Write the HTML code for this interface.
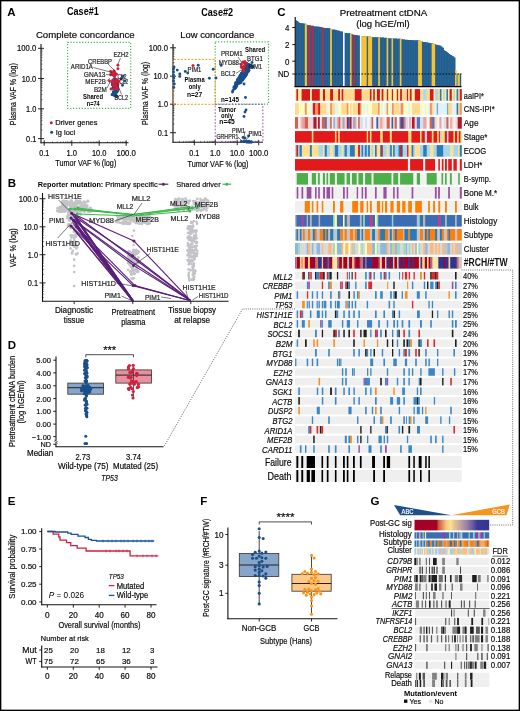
<!DOCTYPE html>
<html><head><meta charset="utf-8"><style>
html,body{margin:0;padding:0;background:#fff;}
body{width:520px;height:711px;overflow:hidden;}
svg{display:block;font-family:"Liberation Sans", sans-serif;}
svg{will-change:transform;}
</style></head><body>
<svg width="520" height="711" viewBox="0 0 520 711">
<rect x="0" y="0" width="520" height="711" fill="#fff"/>
<text x="7.30" y="15.60" font-size="11.5" font-weight="bold" fill="#000" >A</text>
<text x="67.00" y="14.60" font-size="10.4" font-weight="bold" textLength="31.8" lengthAdjust="spacingAndGlyphs" >Case#1</text>
<text x="201.30" y="15.60" font-size="10.4" font-weight="bold" textLength="31.7" lengthAdjust="spacingAndGlyphs" >Case#2</text>
<text x="35.90" y="37.60" font-size="9.9" stroke="#231f20" stroke-width="0.2" textLength="98.8" lengthAdjust="spacingAndGlyphs" >Complete concordance</text>
<text x="180.20" y="37.70" font-size="9.9" stroke="#231f20" stroke-width="0.2" textLength="74" lengthAdjust="spacingAndGlyphs" >Low concordance</text>
<line x1="41.00" y1="44.00" x2="41.00" y2="143.30" stroke="#111" stroke-width="1.1" />
<line x1="40.50" y1="142.80" x2="128.50" y2="142.80" stroke="#111" stroke-width="1.1" />
<line x1="38.00" y1="48.30" x2="44.00" y2="48.30" stroke="#111" stroke-width="0.9" />
<text x="36.30" y="51.30" font-size="8.4" text-anchor="end" stroke="#231f20" stroke-width="0.2" textLength="19.2" lengthAdjust="spacingAndGlyphs" >100.0</text>
<line x1="38.00" y1="78.50" x2="44.00" y2="78.50" stroke="#111" stroke-width="0.9" />
<text x="36.30" y="81.50" font-size="8.4" text-anchor="end" stroke="#231f20" stroke-width="0.2" textLength="14.6" lengthAdjust="spacingAndGlyphs" >10.0</text>
<line x1="38.00" y1="108.80" x2="44.00" y2="108.80" stroke="#111" stroke-width="0.9" />
<text x="36.30" y="111.80" font-size="8.4" text-anchor="end" stroke="#231f20" stroke-width="0.2" textLength="10.2" lengthAdjust="spacingAndGlyphs" >1.0</text>
<line x1="38.00" y1="138.60" x2="44.00" y2="138.60" stroke="#111" stroke-width="0.9" />
<text x="36.30" y="141.60" font-size="8.4" text-anchor="end" stroke="#231f20" stroke-width="0.2" textLength="10.2" lengthAdjust="spacingAndGlyphs" >0.1</text>
<line x1="41.00" y1="69.41" x2="42.50" y2="69.41" stroke="#111" stroke-width="0.5" />
<line x1="41.00" y1="64.09" x2="42.50" y2="64.09" stroke="#111" stroke-width="0.5" />
<line x1="41.00" y1="60.32" x2="42.50" y2="60.32" stroke="#111" stroke-width="0.5" />
<line x1="41.00" y1="57.39" x2="42.50" y2="57.39" stroke="#111" stroke-width="0.5" />
<line x1="41.00" y1="55.00" x2="42.50" y2="55.00" stroke="#111" stroke-width="0.5" />
<line x1="41.00" y1="52.98" x2="42.50" y2="52.98" stroke="#111" stroke-width="0.5" />
<line x1="41.00" y1="51.23" x2="42.50" y2="51.23" stroke="#111" stroke-width="0.5" />
<line x1="41.00" y1="49.68" x2="42.50" y2="49.68" stroke="#111" stroke-width="0.5" />
<line x1="41.00" y1="99.61" x2="42.50" y2="99.61" stroke="#111" stroke-width="0.5" />
<line x1="41.00" y1="94.29" x2="42.50" y2="94.29" stroke="#111" stroke-width="0.5" />
<line x1="41.00" y1="90.52" x2="42.50" y2="90.52" stroke="#111" stroke-width="0.5" />
<line x1="41.00" y1="87.59" x2="42.50" y2="87.59" stroke="#111" stroke-width="0.5" />
<line x1="41.00" y1="85.20" x2="42.50" y2="85.20" stroke="#111" stroke-width="0.5" />
<line x1="41.00" y1="83.18" x2="42.50" y2="83.18" stroke="#111" stroke-width="0.5" />
<line x1="41.00" y1="81.43" x2="42.50" y2="81.43" stroke="#111" stroke-width="0.5" />
<line x1="41.00" y1="79.88" x2="42.50" y2="79.88" stroke="#111" stroke-width="0.5" />
<line x1="41.00" y1="129.91" x2="42.50" y2="129.91" stroke="#111" stroke-width="0.5" />
<line x1="41.00" y1="124.59" x2="42.50" y2="124.59" stroke="#111" stroke-width="0.5" />
<line x1="41.00" y1="120.82" x2="42.50" y2="120.82" stroke="#111" stroke-width="0.5" />
<line x1="41.00" y1="117.89" x2="42.50" y2="117.89" stroke="#111" stroke-width="0.5" />
<line x1="41.00" y1="115.50" x2="42.50" y2="115.50" stroke="#111" stroke-width="0.5" />
<line x1="41.00" y1="113.48" x2="42.50" y2="113.48" stroke="#111" stroke-width="0.5" />
<line x1="41.00" y1="111.73" x2="42.50" y2="111.73" stroke="#111" stroke-width="0.5" />
<line x1="41.00" y1="110.18" x2="42.50" y2="110.18" stroke="#111" stroke-width="0.5" />
<line x1="44.20" y1="140.30" x2="44.20" y2="145.80" stroke="#111" stroke-width="0.9" />
<text x="44.20" y="155.70" font-size="8.4" text-anchor="middle" stroke="#231f20" stroke-width="0.2" textLength="10" lengthAdjust="spacingAndGlyphs" >0.1</text>
<line x1="71.80" y1="140.30" x2="71.80" y2="145.80" stroke="#111" stroke-width="0.9" />
<text x="71.80" y="155.70" font-size="8.4" text-anchor="middle" stroke="#231f20" stroke-width="0.2" textLength="10.5" lengthAdjust="spacingAndGlyphs" >1.0</text>
<line x1="99.20" y1="140.30" x2="99.20" y2="145.80" stroke="#111" stroke-width="0.9" />
<text x="99.20" y="155.70" font-size="8.4" text-anchor="middle" stroke="#231f20" stroke-width="0.2" textLength="14.5" lengthAdjust="spacingAndGlyphs" >10.0</text>
<line x1="126.20" y1="140.30" x2="126.20" y2="145.80" stroke="#111" stroke-width="0.9" />
<text x="126.20" y="155.70" font-size="8.4" text-anchor="middle" stroke="#231f20" stroke-width="0.2" textLength="19.5" lengthAdjust="spacingAndGlyphs" >100.0</text>
<line x1="52.45" y1="141.30" x2="52.45" y2="142.80" stroke="#111" stroke-width="0.5" />
<line x1="57.27" y1="141.30" x2="57.27" y2="142.80" stroke="#111" stroke-width="0.5" />
<line x1="60.70" y1="141.30" x2="60.70" y2="142.80" stroke="#111" stroke-width="0.5" />
<line x1="63.35" y1="141.30" x2="63.35" y2="142.80" stroke="#111" stroke-width="0.5" />
<line x1="65.52" y1="141.30" x2="65.52" y2="142.80" stroke="#111" stroke-width="0.5" />
<line x1="67.36" y1="141.30" x2="67.36" y2="142.80" stroke="#111" stroke-width="0.5" />
<line x1="68.94" y1="141.30" x2="68.94" y2="142.80" stroke="#111" stroke-width="0.5" />
<line x1="70.35" y1="141.30" x2="70.35" y2="142.80" stroke="#111" stroke-width="0.5" />
<line x1="80.05" y1="141.30" x2="80.05" y2="142.80" stroke="#111" stroke-width="0.5" />
<line x1="84.87" y1="141.30" x2="84.87" y2="142.80" stroke="#111" stroke-width="0.5" />
<line x1="88.30" y1="141.30" x2="88.30" y2="142.80" stroke="#111" stroke-width="0.5" />
<line x1="90.95" y1="141.30" x2="90.95" y2="142.80" stroke="#111" stroke-width="0.5" />
<line x1="93.12" y1="141.30" x2="93.12" y2="142.80" stroke="#111" stroke-width="0.5" />
<line x1="94.96" y1="141.30" x2="94.96" y2="142.80" stroke="#111" stroke-width="0.5" />
<line x1="96.54" y1="141.30" x2="96.54" y2="142.80" stroke="#111" stroke-width="0.5" />
<line x1="97.95" y1="141.30" x2="97.95" y2="142.80" stroke="#111" stroke-width="0.5" />
<line x1="107.45" y1="141.30" x2="107.45" y2="142.80" stroke="#111" stroke-width="0.5" />
<line x1="112.27" y1="141.30" x2="112.27" y2="142.80" stroke="#111" stroke-width="0.5" />
<line x1="115.70" y1="141.30" x2="115.70" y2="142.80" stroke="#111" stroke-width="0.5" />
<line x1="118.35" y1="141.30" x2="118.35" y2="142.80" stroke="#111" stroke-width="0.5" />
<line x1="120.52" y1="141.30" x2="120.52" y2="142.80" stroke="#111" stroke-width="0.5" />
<line x1="122.36" y1="141.30" x2="122.36" y2="142.80" stroke="#111" stroke-width="0.5" />
<line x1="123.94" y1="141.30" x2="123.94" y2="142.80" stroke="#111" stroke-width="0.5" />
<line x1="125.35" y1="141.30" x2="125.35" y2="142.80" stroke="#111" stroke-width="0.5" />
<text x="15.70" y="94.20" font-size="9.0" text-anchor="middle" stroke="#231f20" stroke-width="0.2" textLength="62" lengthAdjust="spacingAndGlyphs" transform="rotate(-90 15.70 94.20)" >Plasma VAF % (log)</text>
<text x="85.80" y="166.30" font-size="9.0" text-anchor="middle" stroke="#231f20" stroke-width="0.2" textLength="61" lengthAdjust="spacingAndGlyphs" >Tumor VAF % (log)</text>
<circle cx="51.30" cy="122.80" r="1.5" fill="#cf1f3a" />
<text x="55.20" y="125.40" font-size="7.6" stroke="#231f20" stroke-width="0.2" textLength="42.3" lengthAdjust="spacingAndGlyphs" >Driver genes</text>
<circle cx="51.60" cy="132.20" r="1.5" fill="#1a4f8a" />
<text x="55.70" y="134.80" font-size="7.6" stroke="#231f20" stroke-width="0.2" textLength="19.5" lengthAdjust="spacingAndGlyphs" >Ig loci</text>
<rect x="67.6" y="42.3" width="63.1" height="66" fill="none" stroke="#45b649" stroke-width="1.2" stroke-dasharray="1.2 1.7"/>
<circle cx="122.50" cy="76.80" r="1.45" fill="#1a4f8a" />
<circle cx="123.20" cy="76.00" r="1.45" fill="#1a4f8a" />
<circle cx="122.50" cy="85.20" r="1.45" fill="#1a4f8a" />
<circle cx="125.00" cy="81.00" r="1.45" fill="#1a4f8a" />
<circle cx="121.00" cy="79.00" r="1.45" fill="#1a4f8a" />
<circle cx="113.31" cy="91.71" r="1.45" fill="#1a4f8a" />
<circle cx="114.03" cy="92.34" r="1.45" fill="#1a4f8a" />
<circle cx="115.44" cy="86.69" r="1.45" fill="#1a4f8a" />
<circle cx="112.07" cy="94.79" r="1.45" fill="#1a4f8a" />
<circle cx="113.43" cy="88.46" r="1.45" fill="#1a4f8a" />
<circle cx="117.48" cy="90.94" r="1.45" fill="#1a4f8a" />
<circle cx="116.60" cy="91.00" r="1.45" fill="#1a4f8a" />
<circle cx="115.51" cy="87.58" r="1.45" fill="#1a4f8a" />
<circle cx="115.49" cy="95.11" r="1.45" fill="#1a4f8a" />
<circle cx="114.88" cy="93.78" r="1.45" fill="#1a4f8a" />
<circle cx="115.69" cy="86.67" r="1.45" fill="#1a4f8a" />
<circle cx="116.17" cy="92.21" r="1.45" fill="#1a4f8a" />
<circle cx="113.66" cy="86.33" r="1.45" fill="#1a4f8a" />
<circle cx="116.76" cy="90.96" r="1.45" fill="#1a4f8a" />
<circle cx="115.95" cy="95.23" r="1.45" fill="#1a4f8a" />
<circle cx="115.93" cy="95.67" r="1.45" fill="#1a4f8a" />
<circle cx="114.17" cy="94.41" r="1.45" fill="#1a4f8a" />
<circle cx="114.45" cy="95.82" r="1.45" fill="#1a4f8a" />
<circle cx="116.83" cy="87.02" r="1.45" fill="#1a4f8a" />
<circle cx="112.75" cy="88.28" r="1.45" fill="#1a4f8a" />
<circle cx="117.31" cy="90.58" r="1.45" fill="#1a4f8a" />
<circle cx="115.45" cy="89.16" r="1.45" fill="#1a4f8a" />
<circle cx="114.79" cy="90.05" r="1.45" fill="#1a4f8a" />
<circle cx="113.93" cy="92.14" r="1.45" fill="#1a4f8a" />
<circle cx="115.21" cy="95.49" r="1.45" fill="#1a4f8a" />
<circle cx="115.75" cy="95.75" r="1.45" fill="#1a4f8a" />
<circle cx="116.71" cy="96.41" r="1.45" fill="#1a4f8a" />
<circle cx="115.69" cy="87.71" r="1.45" fill="#1a4f8a" />
<circle cx="116.73" cy="96.13" r="1.45" fill="#1a4f8a" />
<circle cx="116.98" cy="91.98" r="1.45" fill="#1a4f8a" />
<circle cx="115.93" cy="88.22" r="1.45" fill="#1a4f8a" />
<circle cx="116.57" cy="92.02" r="1.45" fill="#1a4f8a" />
<circle cx="113.57" cy="86.67" r="1.45" fill="#1a4f8a" />
<circle cx="116.70" cy="96.39" r="1.45" fill="#1a4f8a" />
<circle cx="112.49" cy="94.41" r="1.45" fill="#1a4f8a" />
<circle cx="114.26" cy="87.58" r="1.45" fill="#1a4f8a" />
<circle cx="113.62" cy="94.07" r="1.45" fill="#1a4f8a" />
<circle cx="116.80" cy="86.46" r="1.45" fill="#1a4f8a" />
<circle cx="115.38" cy="86.47" r="1.45" fill="#1a4f8a" />
<circle cx="115.95" cy="89.48" r="1.45" fill="#1a4f8a" />
<circle cx="117.29" cy="85.86" r="1.45" fill="#1a4f8a" />
<circle cx="115.03" cy="85.99" r="1.45" fill="#1a4f8a" />
<circle cx="113.86" cy="79.54" r="1.45" fill="#1a4f8a" />
<circle cx="115.60" cy="79.22" r="1.45" fill="#1a4f8a" />
<circle cx="113.18" cy="81.86" r="1.45" fill="#1a4f8a" />
<circle cx="115.66" cy="80.09" r="1.45" fill="#1a4f8a" />
<circle cx="112.25" cy="85.07" r="1.45" fill="#1a4f8a" />
<circle cx="113.88" cy="85.71" r="1.45" fill="#1a4f8a" />
<circle cx="117.38" cy="81.64" r="1.45" fill="#1a4f8a" />
<circle cx="114.76" cy="82.64" r="1.45" fill="#1a4f8a" />
<circle cx="115.86" cy="83.17" r="1.45" fill="#1a4f8a" />
<circle cx="115.36" cy="83.34" r="1.45" fill="#1a4f8a" />
<circle cx="117.90" cy="65.20" r="1.45" fill="#cf1f3a" />
<circle cx="117.90" cy="68.70" r="1.45" fill="#cf1f3a" />
<circle cx="109.50" cy="81.00" r="1.45" fill="#cf1f3a" />
<circle cx="116.14" cy="74.04" r="1.45" fill="#cf1f3a" />
<circle cx="113.09" cy="75.32" r="1.45" fill="#cf1f3a" />
<circle cx="111.93" cy="72.81" r="1.45" fill="#cf1f3a" />
<circle cx="116.37" cy="74.13" r="1.45" fill="#cf1f3a" />
<circle cx="113.79" cy="71.07" r="1.45" fill="#cf1f3a" />
<circle cx="112.99" cy="74.48" r="1.45" fill="#cf1f3a" />
<circle cx="110.62" cy="74.69" r="1.45" fill="#cf1f3a" />
<circle cx="114.29" cy="71.36" r="1.45" fill="#cf1f3a" />
<circle cx="114.26" cy="73.80" r="1.45" fill="#cf1f3a" />
<circle cx="114.58" cy="73.12" r="1.45" fill="#cf1f3a" />
<circle cx="114.74" cy="75.43" r="1.45" fill="#cf1f3a" />
<circle cx="110.63" cy="71.36" r="1.45" fill="#cf1f3a" />
<circle cx="114.56" cy="76.78" r="1.45" fill="#cf1f3a" />
<circle cx="112.01" cy="73.74" r="1.45" fill="#cf1f3a" />
<circle cx="114.06" cy="72.92" r="1.45" fill="#cf1f3a" />
<circle cx="112.68" cy="72.88" r="1.45" fill="#cf1f3a" />
<circle cx="112.71" cy="74.57" r="1.45" fill="#cf1f3a" />
<circle cx="112.30" cy="73.26" r="1.45" fill="#cf1f3a" />
<circle cx="117.18" cy="79.77" r="1.45" fill="#cf1f3a" />
<circle cx="115.55" cy="86.85" r="1.45" fill="#cf1f3a" />
<circle cx="113.48" cy="81.73" r="1.45" fill="#cf1f3a" />
<circle cx="117.43" cy="81.89" r="1.45" fill="#cf1f3a" />
<circle cx="112.50" cy="83.85" r="1.45" fill="#cf1f3a" />
<circle cx="116.58" cy="80.52" r="1.45" fill="#cf1f3a" />
<circle cx="113.58" cy="82.84" r="1.45" fill="#cf1f3a" />
<circle cx="117.67" cy="83.88" r="1.45" fill="#cf1f3a" />
<circle cx="117.84" cy="81.19" r="1.45" fill="#cf1f3a" />
<circle cx="113.69" cy="86.00" r="1.45" fill="#cf1f3a" />
<circle cx="118.08" cy="84.01" r="1.45" fill="#cf1f3a" />
<circle cx="112.80" cy="80.71" r="1.45" fill="#cf1f3a" />
<circle cx="115.24" cy="81.41" r="1.45" fill="#cf1f3a" />
<circle cx="117.45" cy="87.88" r="1.45" fill="#cf1f3a" />
<circle cx="112.47" cy="82.29" r="1.45" fill="#cf1f3a" />
<circle cx="117.46" cy="85.92" r="1.45" fill="#cf1f3a" />
<circle cx="117.45" cy="82.95" r="1.45" fill="#cf1f3a" />
<circle cx="112.04" cy="82.42" r="1.45" fill="#cf1f3a" />
<circle cx="117.35" cy="82.21" r="1.45" fill="#cf1f3a" />
<circle cx="113.77" cy="83.67" r="1.45" fill="#cf1f3a" />
<circle cx="114.36" cy="83.60" r="1.45" fill="#cf1f3a" />
<circle cx="118.36" cy="81.06" r="1.45" fill="#cf1f3a" />
<circle cx="111.04" cy="88.93" r="1.45" fill="#cf1f3a" />
<circle cx="118.04" cy="89.37" r="1.45" fill="#cf1f3a" />
<circle cx="114.47" cy="89.00" r="1.45" fill="#cf1f3a" />
<circle cx="118.42" cy="81.72" r="1.45" fill="#cf1f3a" />
<circle cx="116.96" cy="87.87" r="1.45" fill="#cf1f3a" />
<circle cx="116.30" cy="84.69" r="1.45" fill="#cf1f3a" />
<circle cx="113.31" cy="82.91" r="1.45" fill="#cf1f3a" />
<circle cx="112.82" cy="80.18" r="1.45" fill="#cf1f3a" />
<text x="113.40" y="57.10" font-size="7.3" fill="#222" stroke="#222" stroke-width="0.2" textLength="15.099999999999994" lengthAdjust="spacingAndGlyphs" >EZH2</text>
<text x="88.00" y="63.90" font-size="7.3" fill="#222" stroke="#222" stroke-width="0.2" textLength="24" lengthAdjust="spacingAndGlyphs" >CREBBP</text>
<text x="70.80" y="69.30" font-size="7.3" fill="#222" stroke="#222" stroke-width="0.2" textLength="22.10000000000001" lengthAdjust="spacingAndGlyphs" >ARID1A</text>
<text x="83.80" y="76.80" font-size="7.3" fill="#222" stroke="#222" stroke-width="0.2" textLength="21.700000000000003" lengthAdjust="spacingAndGlyphs" >GNA13</text>
<text x="85.30" y="84.10" font-size="7.3" fill="#222" stroke="#222" stroke-width="0.2" textLength="20.60000000000001" lengthAdjust="spacingAndGlyphs" >MEF2B</text>
<text x="93.90" y="92.10" font-size="7.3" fill="#222" stroke="#222" stroke-width="0.2" textLength="13.0" lengthAdjust="spacingAndGlyphs" >B2M</text>
<text x="114.50" y="100.40" font-size="7.3" fill="#222" stroke="#222" stroke-width="0.2" textLength="13.5" lengthAdjust="spacingAndGlyphs" >BCL2</text>
<text x="117.50" y="78.60" font-size="7.3" fill="#222" stroke="#222" stroke-width="0.2" textLength="9" lengthAdjust="spacingAndGlyphs" >CL2</text>
<text x="119.50" y="84.20" font-size="7.3" fill="#222" stroke="#222" stroke-width="0.2" textLength="8.5" lengthAdjust="spacingAndGlyphs" >CL2</text>
<line x1="120.50" y1="58.00" x2="118.00" y2="64.00" stroke="#222" stroke-width="0.6" />
<line x1="108.00" y1="64.00" x2="115.00" y2="71.00" stroke="#222" stroke-width="0.6" />
<line x1="93.50" y1="67.50" x2="112.00" y2="72.50" stroke="#222" stroke-width="0.6" />
<line x1="106.00" y1="74.50" x2="111.50" y2="75.00" stroke="#222" stroke-width="0.6" />
<line x1="106.50" y1="81.00" x2="110.00" y2="78.50" stroke="#222" stroke-width="0.6" />
<line x1="107.00" y1="88.00" x2="110.50" y2="81.50" stroke="#222" stroke-width="0.6" />
<line x1="121.50" y1="94.50" x2="117.00" y2="83.00" stroke="#222" stroke-width="0.6" />
<text x="83.00" y="98.80" font-size="7.6" font-weight="bold" textLength="20" lengthAdjust="spacingAndGlyphs" >Shared</text>
<text x="86.70" y="106.00" font-size="7.6" font-weight="bold" textLength="13" lengthAdjust="spacingAndGlyphs" >n=74</text>
<line x1="173.00" y1="44.00" x2="173.00" y2="142.80" stroke="#111" stroke-width="1.1" />
<line x1="172.50" y1="142.30" x2="263.00" y2="142.30" stroke="#111" stroke-width="1.1" />
<line x1="170.00" y1="47.80" x2="176.00" y2="47.80" stroke="#111" stroke-width="0.9" />
<text x="168.00" y="50.80" font-size="8.4" text-anchor="end" stroke="#231f20" stroke-width="0.2" textLength="19.2" lengthAdjust="spacingAndGlyphs" >100.0</text>
<line x1="170.00" y1="76.20" x2="176.00" y2="76.20" stroke="#111" stroke-width="0.9" />
<text x="168.00" y="79.20" font-size="8.4" text-anchor="end" stroke="#231f20" stroke-width="0.2" textLength="14.6" lengthAdjust="spacingAndGlyphs" >10.0</text>
<line x1="170.00" y1="104.20" x2="176.00" y2="104.20" stroke="#111" stroke-width="0.9" />
<text x="168.00" y="107.20" font-size="8.4" text-anchor="end" stroke="#231f20" stroke-width="0.2" textLength="10.2" lengthAdjust="spacingAndGlyphs" >1.0</text>
<line x1="170.00" y1="132.70" x2="176.00" y2="132.70" stroke="#111" stroke-width="0.9" />
<text x="168.00" y="135.70" font-size="8.4" text-anchor="end" stroke="#231f20" stroke-width="0.2" textLength="10.2" lengthAdjust="spacingAndGlyphs" >0.1</text>
<line x1="173.00" y1="67.58" x2="174.50" y2="67.58" stroke="#111" stroke-width="0.5" />
<line x1="173.00" y1="62.60" x2="174.50" y2="62.60" stroke="#111" stroke-width="0.5" />
<line x1="173.00" y1="59.06" x2="174.50" y2="59.06" stroke="#111" stroke-width="0.5" />
<line x1="173.00" y1="56.32" x2="174.50" y2="56.32" stroke="#111" stroke-width="0.5" />
<line x1="173.00" y1="54.08" x2="174.50" y2="54.08" stroke="#111" stroke-width="0.5" />
<line x1="173.00" y1="52.18" x2="174.50" y2="52.18" stroke="#111" stroke-width="0.5" />
<line x1="173.00" y1="50.54" x2="174.50" y2="50.54" stroke="#111" stroke-width="0.5" />
<line x1="173.00" y1="49.09" x2="174.50" y2="49.09" stroke="#111" stroke-width="0.5" />
<line x1="173.00" y1="95.98" x2="174.50" y2="95.98" stroke="#111" stroke-width="0.5" />
<line x1="173.00" y1="91.00" x2="174.50" y2="91.00" stroke="#111" stroke-width="0.5" />
<line x1="173.00" y1="87.46" x2="174.50" y2="87.46" stroke="#111" stroke-width="0.5" />
<line x1="173.00" y1="84.72" x2="174.50" y2="84.72" stroke="#111" stroke-width="0.5" />
<line x1="173.00" y1="82.48" x2="174.50" y2="82.48" stroke="#111" stroke-width="0.5" />
<line x1="173.00" y1="80.58" x2="174.50" y2="80.58" stroke="#111" stroke-width="0.5" />
<line x1="173.00" y1="78.94" x2="174.50" y2="78.94" stroke="#111" stroke-width="0.5" />
<line x1="173.00" y1="77.49" x2="174.50" y2="77.49" stroke="#111" stroke-width="0.5" />
<line x1="173.00" y1="123.98" x2="174.50" y2="123.98" stroke="#111" stroke-width="0.5" />
<line x1="173.00" y1="119.00" x2="174.50" y2="119.00" stroke="#111" stroke-width="0.5" />
<line x1="173.00" y1="115.46" x2="174.50" y2="115.46" stroke="#111" stroke-width="0.5" />
<line x1="173.00" y1="112.72" x2="174.50" y2="112.72" stroke="#111" stroke-width="0.5" />
<line x1="173.00" y1="110.48" x2="174.50" y2="110.48" stroke="#111" stroke-width="0.5" />
<line x1="173.00" y1="108.58" x2="174.50" y2="108.58" stroke="#111" stroke-width="0.5" />
<line x1="173.00" y1="106.94" x2="174.50" y2="106.94" stroke="#111" stroke-width="0.5" />
<line x1="173.00" y1="105.49" x2="174.50" y2="105.49" stroke="#111" stroke-width="0.5" />
<line x1="194.30" y1="139.80" x2="194.30" y2="145.30" stroke="#111" stroke-width="0.9" />
<text x="194.30" y="155.90" font-size="8.4" text-anchor="middle" stroke="#231f20" stroke-width="0.2" textLength="10" lengthAdjust="spacingAndGlyphs" >0.1</text>
<line x1="215.30" y1="139.80" x2="215.30" y2="145.30" stroke="#111" stroke-width="0.9" />
<text x="215.30" y="155.90" font-size="8.4" text-anchor="middle" stroke="#231f20" stroke-width="0.2" textLength="10.5" lengthAdjust="spacingAndGlyphs" >1.0</text>
<line x1="237.20" y1="139.80" x2="237.20" y2="145.30" stroke="#111" stroke-width="0.9" />
<text x="237.20" y="155.90" font-size="8.4" text-anchor="middle" stroke="#231f20" stroke-width="0.2" textLength="14.5" lengthAdjust="spacingAndGlyphs" >10.0</text>
<line x1="258.70" y1="139.80" x2="258.70" y2="145.30" stroke="#111" stroke-width="0.9" />
<text x="258.70" y="155.90" font-size="8.4" text-anchor="middle" stroke="#231f20" stroke-width="0.2" textLength="19.5" lengthAdjust="spacingAndGlyphs" >100.0</text>
<line x1="179.47" y1="140.80" x2="179.47" y2="142.30" stroke="#111" stroke-width="0.5" />
<line x1="183.26" y1="140.80" x2="183.26" y2="142.30" stroke="#111" stroke-width="0.5" />
<line x1="185.94" y1="140.80" x2="185.94" y2="142.30" stroke="#111" stroke-width="0.5" />
<line x1="188.03" y1="140.80" x2="188.03" y2="142.30" stroke="#111" stroke-width="0.5" />
<line x1="189.73" y1="140.80" x2="189.73" y2="142.30" stroke="#111" stroke-width="0.5" />
<line x1="191.17" y1="140.80" x2="191.17" y2="142.30" stroke="#111" stroke-width="0.5" />
<line x1="192.42" y1="140.80" x2="192.42" y2="142.30" stroke="#111" stroke-width="0.5" />
<line x1="193.52" y1="140.80" x2="193.52" y2="142.30" stroke="#111" stroke-width="0.5" />
<line x1="200.77" y1="140.80" x2="200.77" y2="142.30" stroke="#111" stroke-width="0.5" />
<line x1="204.56" y1="140.80" x2="204.56" y2="142.30" stroke="#111" stroke-width="0.5" />
<line x1="207.24" y1="140.80" x2="207.24" y2="142.30" stroke="#111" stroke-width="0.5" />
<line x1="209.33" y1="140.80" x2="209.33" y2="142.30" stroke="#111" stroke-width="0.5" />
<line x1="211.03" y1="140.80" x2="211.03" y2="142.30" stroke="#111" stroke-width="0.5" />
<line x1="212.47" y1="140.80" x2="212.47" y2="142.30" stroke="#111" stroke-width="0.5" />
<line x1="213.72" y1="140.80" x2="213.72" y2="142.30" stroke="#111" stroke-width="0.5" />
<line x1="214.82" y1="140.80" x2="214.82" y2="142.30" stroke="#111" stroke-width="0.5" />
<line x1="221.77" y1="140.80" x2="221.77" y2="142.30" stroke="#111" stroke-width="0.5" />
<line x1="225.56" y1="140.80" x2="225.56" y2="142.30" stroke="#111" stroke-width="0.5" />
<line x1="228.24" y1="140.80" x2="228.24" y2="142.30" stroke="#111" stroke-width="0.5" />
<line x1="230.33" y1="140.80" x2="230.33" y2="142.30" stroke="#111" stroke-width="0.5" />
<line x1="232.03" y1="140.80" x2="232.03" y2="142.30" stroke="#111" stroke-width="0.5" />
<line x1="233.47" y1="140.80" x2="233.47" y2="142.30" stroke="#111" stroke-width="0.5" />
<line x1="234.72" y1="140.80" x2="234.72" y2="142.30" stroke="#111" stroke-width="0.5" />
<line x1="235.82" y1="140.80" x2="235.82" y2="142.30" stroke="#111" stroke-width="0.5" />
<line x1="243.67" y1="140.80" x2="243.67" y2="142.30" stroke="#111" stroke-width="0.5" />
<line x1="247.46" y1="140.80" x2="247.46" y2="142.30" stroke="#111" stroke-width="0.5" />
<line x1="250.14" y1="140.80" x2="250.14" y2="142.30" stroke="#111" stroke-width="0.5" />
<line x1="252.23" y1="140.80" x2="252.23" y2="142.30" stroke="#111" stroke-width="0.5" />
<line x1="253.93" y1="140.80" x2="253.93" y2="142.30" stroke="#111" stroke-width="0.5" />
<line x1="255.37" y1="140.80" x2="255.37" y2="142.30" stroke="#111" stroke-width="0.5" />
<line x1="256.62" y1="140.80" x2="256.62" y2="142.30" stroke="#111" stroke-width="0.5" />
<line x1="257.72" y1="140.80" x2="257.72" y2="142.30" stroke="#111" stroke-width="0.5" />
<text x="147.80" y="93.40" font-size="9.0" text-anchor="middle" stroke="#231f20" stroke-width="0.2" textLength="63" lengthAdjust="spacingAndGlyphs" transform="rotate(-90 147.80 93.40)" >Plasma VAF % (log)</text>
<text x="218.00" y="166.50" font-size="9.0" text-anchor="middle" stroke="#231f20" stroke-width="0.2" textLength="61" lengthAdjust="spacingAndGlyphs" >Tumor VAF % (log)</text>
<rect x="215.2" y="41.9" width="53.3" height="62.3" fill="none" stroke="#45b649" stroke-width="1.2" stroke-dasharray="1.2 1.7"/>
<polyline points="173.3,104.3 173.3,59.4 215.2,59.4 215.2,104.3 173.3,104.3" fill="none" stroke="#f7941d" stroke-width="1" stroke-dasharray="2 1.5"/>
<rect x="215.2" y="104.3" width="47.7" height="38" fill="none" stroke="#8e44ad" stroke-width="0.9" stroke-dasharray="1.8 1.5"/>
<circle cx="198.20" cy="65.30" r="1.45" fill="#1a4f8a" />
<circle cx="177.30" cy="70.10" r="1.45" fill="#1a4f8a" />
<circle cx="179.80" cy="73.90" r="1.45" fill="#1a4f8a" />
<circle cx="179.80" cy="76.40" r="1.45" fill="#1a4f8a" />
<circle cx="185.30" cy="71.40" r="1.45" fill="#1a4f8a" />
<circle cx="187.70" cy="73.10" r="1.45" fill="#1a4f8a" />
<circle cx="209.40" cy="78.20" r="1.45" fill="#1a4f8a" />
<circle cx="213.20" cy="69.30" r="1.45" fill="#1a4f8a" />
<circle cx="216.00" cy="78.00" r="1.45" fill="#1a4f8a" />
<circle cx="221.20" cy="65.40" r="1.45" fill="#1a4f8a" />
<circle cx="173.50" cy="69.00" r="1.45" fill="#1a4f8a" />
<circle cx="173.50" cy="72.00" r="1.45" fill="#1a4f8a" />
<circle cx="173.50" cy="75.00" r="1.45" fill="#1a4f8a" />
<circle cx="173.80" cy="78.00" r="1.45" fill="#1a4f8a" />
<circle cx="173.50" cy="81.00" r="1.45" fill="#1a4f8a" />
<circle cx="174.00" cy="67.00" r="1.45" fill="#1a4f8a" />
<circle cx="173.80" cy="87.50" r="1.45" fill="#1a4f8a" />
<circle cx="174.30" cy="84.00" r="1.45" fill="#1a4f8a" />
<circle cx="244.00" cy="84.00" r="1.45" fill="#1a4f8a" />
<circle cx="246.00" cy="73.00" r="1.45" fill="#1a4f8a" />
<circle cx="252.00" cy="62.50" r="1.45" fill="#1a4f8a" />
<circle cx="245.50" cy="97.50" r="1.45" fill="#1a4f8a" />
<circle cx="246.00" cy="110.00" r="1.45" fill="#1a4f8a" />
<circle cx="245.00" cy="112.00" r="1.45" fill="#1a4f8a" />
<circle cx="244.00" cy="116.50" r="1.45" fill="#1a4f8a" />
<circle cx="243.00" cy="137.50" r="1.45" fill="#1a4f8a" />
<circle cx="245.00" cy="138.00" r="1.45" fill="#1a4f8a" />
<circle cx="248.50" cy="136.00" r="1.45" fill="#1a4f8a" />
<circle cx="246.96" cy="73.04" r="1.45" fill="#1a4f8a" />
<circle cx="248.48" cy="70.91" r="1.45" fill="#1a4f8a" />
<circle cx="250.66" cy="66.04" r="1.45" fill="#1a4f8a" />
<circle cx="242.42" cy="74.27" r="1.45" fill="#1a4f8a" />
<circle cx="233.89" cy="87.94" r="1.45" fill="#1a4f8a" />
<circle cx="245.92" cy="67.52" r="1.45" fill="#1a4f8a" />
<circle cx="243.10" cy="71.18" r="1.45" fill="#1a4f8a" />
<circle cx="239.02" cy="80.81" r="1.45" fill="#1a4f8a" />
<circle cx="242.39" cy="80.22" r="1.45" fill="#1a4f8a" />
<circle cx="240.91" cy="82.58" r="1.45" fill="#1a4f8a" />
<circle cx="247.54" cy="65.70" r="1.45" fill="#1a4f8a" />
<circle cx="236.64" cy="82.04" r="1.45" fill="#1a4f8a" />
<circle cx="234.47" cy="88.57" r="1.45" fill="#1a4f8a" />
<circle cx="247.59" cy="68.05" r="1.45" fill="#1a4f8a" />
<circle cx="244.94" cy="68.22" r="1.45" fill="#1a4f8a" />
<circle cx="248.22" cy="70.86" r="1.45" fill="#1a4f8a" />
<circle cx="241.63" cy="76.77" r="1.45" fill="#1a4f8a" />
<circle cx="239.88" cy="82.99" r="1.45" fill="#1a4f8a" />
<circle cx="251.43" cy="67.62" r="1.45" fill="#1a4f8a" />
<circle cx="244.91" cy="74.81" r="1.45" fill="#1a4f8a" />
<circle cx="248.93" cy="70.27" r="1.45" fill="#1a4f8a" />
<circle cx="236.70" cy="84.73" r="1.45" fill="#1a4f8a" />
<circle cx="243.15" cy="78.54" r="1.45" fill="#1a4f8a" />
<circle cx="239.48" cy="77.07" r="1.45" fill="#1a4f8a" />
<circle cx="248.31" cy="71.55" r="1.45" fill="#1a4f8a" />
<circle cx="249.93" cy="65.03" r="1.45" fill="#1a4f8a" />
<circle cx="246.54" cy="73.22" r="1.45" fill="#1a4f8a" />
<circle cx="236.59" cy="86.50" r="1.45" fill="#1a4f8a" />
<circle cx="246.49" cy="67.05" r="1.45" fill="#1a4f8a" />
<circle cx="246.45" cy="72.43" r="1.45" fill="#1a4f8a" />
<circle cx="239.00" cy="83.28" r="1.45" fill="#1a4f8a" />
<circle cx="252.55" cy="66.27" r="1.45" fill="#1a4f8a" />
<circle cx="244.62" cy="74.86" r="1.45" fill="#1a4f8a" />
<circle cx="240.94" cy="75.95" r="1.45" fill="#1a4f8a" />
<circle cx="250.25" cy="65.95" r="1.45" fill="#1a4f8a" />
<circle cx="236.68" cy="84.62" r="1.45" fill="#1a4f8a" />
<circle cx="243.26" cy="78.18" r="1.45" fill="#1a4f8a" />
<circle cx="247.08" cy="72.04" r="1.45" fill="#1a4f8a" />
<circle cx="240.85" cy="79.33" r="1.45" fill="#1a4f8a" />
<circle cx="242.55" cy="79.96" r="1.45" fill="#1a4f8a" />
<circle cx="234.51" cy="88.21" r="1.45" fill="#1a4f8a" />
<circle cx="244.81" cy="76.22" r="1.45" fill="#1a4f8a" />
<circle cx="242.46" cy="78.29" r="1.45" fill="#1a4f8a" />
<circle cx="243.40" cy="78.57" r="1.45" fill="#1a4f8a" />
<circle cx="252.30" cy="67.13" r="1.45" fill="#1a4f8a" />
<circle cx="240.10" cy="82.82" r="1.45" fill="#1a4f8a" />
<circle cx="247.69" cy="70.77" r="1.45" fill="#1a4f8a" />
<circle cx="248.06" cy="69.00" r="1.45" fill="#1a4f8a" />
<circle cx="246.93" cy="72.86" r="1.45" fill="#1a4f8a" />
<circle cx="234.45" cy="86.72" r="1.45" fill="#1a4f8a" />
<circle cx="240.29" cy="80.56" r="1.45" fill="#1a4f8a" />
<circle cx="241.78" cy="73.63" r="1.45" fill="#1a4f8a" />
<circle cx="239.64" cy="76.93" r="1.45" fill="#1a4f8a" />
<circle cx="243.01" cy="74.73" r="1.45" fill="#1a4f8a" />
<circle cx="240.60" cy="80.99" r="1.45" fill="#1a4f8a" />
<circle cx="239.76" cy="79.38" r="1.45" fill="#1a4f8a" />
<circle cx="240.40" cy="75.28" r="1.45" fill="#1a4f8a" />
<circle cx="243.86" cy="73.39" r="1.45" fill="#1a4f8a" />
<circle cx="247.86" cy="68.03" r="1.45" fill="#1a4f8a" />
<circle cx="240.72" cy="76.22" r="1.45" fill="#1a4f8a" />
<circle cx="252.24" cy="67.26" r="1.45" fill="#1a4f8a" />
<circle cx="245.64" cy="65.12" r="1.45" fill="#1a4f8a" />
<circle cx="243.89" cy="71.30" r="1.45" fill="#1a4f8a" />
<circle cx="241.48" cy="76.48" r="1.45" fill="#1a4f8a" />
<circle cx="249.57" cy="65.52" r="1.45" fill="#1a4f8a" />
<circle cx="244.62" cy="71.57" r="1.45" fill="#1a4f8a" />
<circle cx="242.52" cy="75.54" r="1.45" fill="#1a4f8a" />
<circle cx="240.13" cy="79.09" r="1.45" fill="#1a4f8a" />
<circle cx="242.55" cy="75.25" r="1.45" fill="#1a4f8a" />
<circle cx="234.57" cy="88.41" r="1.45" fill="#1a4f8a" />
<circle cx="245.90" cy="67.53" r="1.45" fill="#1a4f8a" />
<circle cx="248.84" cy="64.39" r="1.45" fill="#1a4f8a" />
<circle cx="246.55" cy="71.21" r="1.45" fill="#1a4f8a" />
<circle cx="246.25" cy="68.33" r="1.45" fill="#1a4f8a" />
<circle cx="240.90" cy="78.65" r="1.45" fill="#1a4f8a" />
<circle cx="246.92" cy="69.47" r="1.45" fill="#1a4f8a" />
<circle cx="245.40" cy="76.34" r="1.45" fill="#1a4f8a" />
<circle cx="235.35" cy="88.25" r="1.45" fill="#1a4f8a" />
<circle cx="247.19" cy="71.07" r="1.45" fill="#1a4f8a" />
<circle cx="242.21" cy="76.04" r="1.45" fill="#1a4f8a" />
<circle cx="241.48" cy="79.93" r="1.45" fill="#1a4f8a" />
<circle cx="245.82" cy="70.53" r="1.45" fill="#1a4f8a" />
<circle cx="247.03" cy="65.30" r="1.45" fill="#1a4f8a" />
<circle cx="242.68" cy="73.90" r="1.45" fill="#1a4f8a" />
<circle cx="245.28" cy="67.17" r="1.45" fill="#1a4f8a" />
<circle cx="247.85" cy="69.44" r="1.45" fill="#1a4f8a" />
<circle cx="252.79" cy="66.66" r="1.45" fill="#1a4f8a" />
<circle cx="246.89" cy="67.29" r="1.45" fill="#1a4f8a" />
<circle cx="244.59" cy="69.39" r="1.45" fill="#1a4f8a" />
<circle cx="238.46" cy="82.46" r="1.45" fill="#1a4f8a" />
<circle cx="242.91" cy="70.24" r="1.45" fill="#1a4f8a" />
<circle cx="235.49" cy="84.73" r="1.45" fill="#1a4f8a" />
<circle cx="246.58" cy="65.57" r="1.45" fill="#1a4f8a" />
<circle cx="245.67" cy="72.03" r="1.45" fill="#1a4f8a" />
<circle cx="236.19" cy="86.30" r="1.45" fill="#1a4f8a" />
<circle cx="245.74" cy="75.41" r="1.45" fill="#1a4f8a" />
<circle cx="240.17" cy="79.99" r="1.45" fill="#1a4f8a" />
<circle cx="242.19" cy="72.68" r="1.45" fill="#1a4f8a" />
<circle cx="245.59" cy="68.76" r="1.45" fill="#1a4f8a" />
<circle cx="236.81" cy="84.56" r="1.45" fill="#1a4f8a" />
<circle cx="244.38" cy="71.53" r="1.45" fill="#1a4f8a" />
<circle cx="241.78" cy="79.10" r="1.45" fill="#1a4f8a" />
<circle cx="235.75" cy="85.55" r="1.45" fill="#1a4f8a" />
<circle cx="238.91" cy="79.97" r="1.45" fill="#1a4f8a" />
<circle cx="246.22" cy="66.69" r="1.45" fill="#1a4f8a" />
<circle cx="239.39" cy="79.74" r="1.45" fill="#1a4f8a" />
<circle cx="241.21" cy="75.93" r="1.45" fill="#1a4f8a" />
<circle cx="247.82" cy="68.18" r="1.45" fill="#1a4f8a" />
<circle cx="245.71" cy="72.45" r="1.45" fill="#1a4f8a" />
<circle cx="235.51" cy="82.92" r="1.45" fill="#1a4f8a" />
<circle cx="248.95" cy="66.23" r="1.45" fill="#1a4f8a" />
<circle cx="245.19" cy="75.83" r="1.45" fill="#1a4f8a" />
<circle cx="241.30" cy="73.44" r="1.45" fill="#1a4f8a" />
<circle cx="242.07" cy="76.22" r="1.45" fill="#1a4f8a" />
<circle cx="238.97" cy="79.05" r="1.45" fill="#1a4f8a" />
<circle cx="239.19" cy="80.76" r="1.45" fill="#1a4f8a" />
<circle cx="243.86" cy="78.37" r="1.45" fill="#1a4f8a" />
<circle cx="244.85" cy="76.24" r="1.45" fill="#1a4f8a" />
<circle cx="241.64" cy="78.89" r="1.45" fill="#1a4f8a" />
<circle cx="237.37" cy="79.69" r="1.45" fill="#1a4f8a" />
<circle cx="244.13" cy="77.34" r="1.45" fill="#1a4f8a" />
<circle cx="242.79" cy="74.56" r="1.45" fill="#1a4f8a" />
<circle cx="237.92" cy="82.26" r="1.45" fill="#1a4f8a" />
<circle cx="246.03" cy="70.52" r="1.45" fill="#1a4f8a" />
<circle cx="236.85" cy="85.54" r="1.45" fill="#1a4f8a" />
<circle cx="246.68" cy="74.48" r="1.45" fill="#1a4f8a" />
<circle cx="236.38" cy="83.65" r="1.45" fill="#1a4f8a" />
<circle cx="246.52" cy="63.93" r="1.45" fill="#1a4f8a" />
<circle cx="240.37" cy="75.17" r="1.45" fill="#1a4f8a" />
<circle cx="238.82" cy="78.02" r="1.45" fill="#1a4f8a" />
<circle cx="238.72" cy="81.85" r="1.45" fill="#1a4f8a" />
<circle cx="235.87" cy="84.47" r="1.45" fill="#1a4f8a" />
<circle cx="250.07" cy="66.35" r="1.45" fill="#1a4f8a" />
<circle cx="235.01" cy="87.74" r="1.45" fill="#1a4f8a" />
<circle cx="242.83" cy="77.70" r="1.45" fill="#1a4f8a" />
<circle cx="241.22" cy="78.03" r="1.45" fill="#1a4f8a" />
<circle cx="236.51" cy="83.67" r="1.45" fill="#1a4f8a" />
<circle cx="246.51" cy="66.98" r="1.45" fill="#1a4f8a" />
<circle cx="238.49" cy="79.21" r="1.45" fill="#1a4f8a" />
<circle cx="238.75" cy="78.51" r="1.45" fill="#1a4f8a" />
<circle cx="238.35" cy="80.29" r="1.45" fill="#1a4f8a" />
<circle cx="242.29" cy="75.49" r="1.45" fill="#1a4f8a" />
<circle cx="249.96" cy="67.41" r="1.45" fill="#1a4f8a" />
<circle cx="244.51" cy="76.84" r="1.45" fill="#1a4f8a" />
<circle cx="247.52" cy="70.81" r="1.45" fill="#1a4f8a" />
<circle cx="240.22" cy="75.41" r="1.45" fill="#1a4f8a" />
<circle cx="240.62" cy="79.46" r="1.45" fill="#1a4f8a" />
<circle cx="246.97" cy="68.78" r="1.45" fill="#1a4f8a" />
<circle cx="237.86" cy="83.51" r="1.45" fill="#1a4f8a" />
<circle cx="244.03" cy="71.00" r="1.45" fill="#1a4f8a" />
<circle cx="233.00" cy="90.50" r="1.45" fill="#1a4f8a" />
<circle cx="232.50" cy="92.00" r="1.45" fill="#1a4f8a" />
<circle cx="234.00" cy="87.00" r="1.45" fill="#1a4f8a" />
<circle cx="236.00" cy="84.50" r="1.45" fill="#1a4f8a" />
<circle cx="243.96" cy="141.02" r="1.45" fill="#1a4f8a" />
<circle cx="247.01" cy="142.24" r="1.45" fill="#1a4f8a" />
<circle cx="248.72" cy="141.14" r="1.45" fill="#1a4f8a" />
<circle cx="246.36" cy="141.26" r="1.45" fill="#1a4f8a" />
<circle cx="248.51" cy="141.67" r="1.45" fill="#1a4f8a" />
<circle cx="251.26" cy="142.19" r="1.45" fill="#1a4f8a" />
<circle cx="241.42" cy="141.48" r="1.45" fill="#1a4f8a" />
<circle cx="250.98" cy="141.69" r="1.45" fill="#1a4f8a" />
<circle cx="245.21" cy="141.66" r="1.45" fill="#1a4f8a" />
<circle cx="249.21" cy="142.40" r="1.45" fill="#1a4f8a" />
<circle cx="244.46" cy="66.33" r="1.5" fill="#cf1f3a" />
<circle cx="244.87" cy="61.57" r="1.5" fill="#cf1f3a" />
<circle cx="246.29" cy="63.31" r="1.5" fill="#cf1f3a" />
<circle cx="241.34" cy="66.38" r="1.5" fill="#cf1f3a" />
<circle cx="241.21" cy="64.17" r="1.5" fill="#cf1f3a" />
<circle cx="244.13" cy="65.85" r="1.5" fill="#cf1f3a" />
<circle cx="243.55" cy="62.19" r="1.5" fill="#cf1f3a" />
<circle cx="242.80" cy="62.11" r="1.5" fill="#cf1f3a" />
<circle cx="244.66" cy="62.96" r="1.5" fill="#cf1f3a" />
<circle cx="243.13" cy="67.45" r="1.5" fill="#cf1f3a" />
<circle cx="241.73" cy="67.49" r="1.5" fill="#cf1f3a" />
<circle cx="243.94" cy="71.04" r="1.5" fill="#cf1f3a" />
<circle cx="243.47" cy="69.71" r="1.5" fill="#cf1f3a" />
<circle cx="193.00" cy="65.40" r="1.5" fill="#cf1f3a" />
<text x="220.90" y="56.40" font-size="7.3" fill="#222" stroke="#222" stroke-width="0.2" textLength="21.69999999999999" lengthAdjust="spacingAndGlyphs" >PRDM1</text>
<text x="246.90" y="60.60" font-size="7.3" fill="#222" stroke="#222" stroke-width="0.2" textLength="15.900000000000006" lengthAdjust="spacingAndGlyphs" >BTG1</text>
<text x="218.80" y="65.00" font-size="7.3" fill="#222" stroke="#222" stroke-width="0.2" textLength="20.19999999999999" lengthAdjust="spacingAndGlyphs" >MYD88</text>
<text x="221.00" y="76.30" font-size="7.3" fill="#222" stroke="#222" stroke-width="0.2" textLength="14.400000000000006" lengthAdjust="spacingAndGlyphs" >BCL2</text>
<text x="248.50" y="68.80" font-size="7.3" fill="#222" stroke="#222" stroke-width="0.2" textLength="13.5" lengthAdjust="spacingAndGlyphs" >PIM1</text>
<text x="187.50" y="72.40" font-size="7.3" fill="#222" stroke="#222" stroke-width="0.2" textLength="13.900000000000006" lengthAdjust="spacingAndGlyphs" >PIM1</text>
<text x="232.00" y="132.60" font-size="7.3" fill="#222" stroke="#222" stroke-width="0.2" textLength="13" lengthAdjust="spacingAndGlyphs" >PIM1</text>
<text x="248.50" y="135.60" font-size="7.3" fill="#222" stroke="#222" stroke-width="0.2" textLength="13.5" lengthAdjust="spacingAndGlyphs" >PIM1</text>
<text x="216.40" y="139.00" font-size="7.3" fill="#222" stroke="#222" stroke-width="0.2" textLength="22.099999999999994" lengthAdjust="spacingAndGlyphs" >GRHPR1</text>
<line x1="238.00" y1="57.00" x2="242.00" y2="63.00" stroke="#222" stroke-width="0.6" />
<line x1="239.00" y1="63.50" x2="241.00" y2="64.50" stroke="#222" stroke-width="0.6" />
<line x1="236.00" y1="73.50" x2="241.00" y2="70.00" stroke="#222" stroke-width="0.6" />
<line x1="250.00" y1="60.00" x2="247.00" y2="63.00" stroke="#222" stroke-width="0.6" />
<line x1="245.00" y1="131.00" x2="244.00" y2="137.00" stroke="#222" stroke-width="0.6" />
<line x1="250.00" y1="135.00" x2="246.00" y2="140.00" stroke="#222" stroke-width="0.6" />
<line x1="238.00" y1="137.00" x2="242.00" y2="141.00" stroke="#222" stroke-width="0.6" />
<text x="245.00" y="51.70" font-size="7.6" font-weight="bold" textLength="20.2" lengthAdjust="spacingAndGlyphs" >Shared</text>
<text x="221.00" y="101.60" font-size="7.6" font-weight="bold" textLength="18" lengthAdjust="spacingAndGlyphs" >n=145</text>
<text x="194.60" y="81.90" font-size="7.6" text-anchor="middle" font-weight="bold" textLength="20.3" lengthAdjust="spacingAndGlyphs" >Plasma</text>
<text x="194.70" y="88.60" font-size="7.6" text-anchor="middle" font-weight="bold" textLength="11.9" lengthAdjust="spacingAndGlyphs" >only</text>
<text x="194.60" y="96.70" font-size="7.6" text-anchor="middle" font-weight="bold" textLength="15.3" lengthAdjust="spacingAndGlyphs" >n=27</text>
<text x="227.00" y="111.90" font-size="7.6" text-anchor="middle" font-weight="bold" textLength="18" lengthAdjust="spacingAndGlyphs" >Tumor</text>
<text x="227.00" y="117.60" font-size="7.6" text-anchor="middle" font-weight="bold" textLength="11.9" lengthAdjust="spacingAndGlyphs" >only</text>
<text x="227.00" y="124.20" font-size="7.6" text-anchor="middle" font-weight="bold" textLength="15.3" lengthAdjust="spacingAndGlyphs" >n=45</text>
<text x="7.80" y="186.60" font-size="11.5" font-weight="bold" fill="#000" >B</text>
<text x="37.80" y="187.10" font-size="7.9" font-weight="bold" textLength="65.5" lengthAdjust="spacingAndGlyphs" >Reporter mutation:</text>
<text x="105.20" y="187.10" font-size="7.9" stroke="#231f20" stroke-width="0.2" textLength="52.5" lengthAdjust="spacingAndGlyphs" >Primary specific</text>
<line x1="158.60" y1="184.20" x2="168.30" y2="184.20" stroke="#5a1f7a" stroke-width="1.2" />
<circle cx="163.40" cy="184.20" r="1.5" fill="#5a1f7a" />
<text x="176.30" y="187.10" font-size="7.9" stroke="#231f20" stroke-width="0.2" textLength="44.3" lengthAdjust="spacingAndGlyphs" >Shared driver</text>
<line x1="222.50" y1="184.20" x2="231.20" y2="184.20" stroke="#3cb94a" stroke-width="1.2" />
<circle cx="226.80" cy="184.20" r="1.5" fill="#3cb94a" />
<line x1="42.50" y1="193.00" x2="42.50" y2="301.80" stroke="#111" stroke-width="1.1" />
<line x1="42.00" y1="301.30" x2="228.50" y2="301.30" stroke="#111" stroke-width="1.1" />
<line x1="39.50" y1="198.70" x2="45.50" y2="198.70" stroke="#111" stroke-width="0.9" />
<text x="38.00" y="201.70" font-size="8.4" text-anchor="end" stroke="#231f20" stroke-width="0.2" textLength="19.2" lengthAdjust="spacingAndGlyphs" >100.0</text>
<line x1="39.50" y1="226.80" x2="45.50" y2="226.80" stroke="#111" stroke-width="0.9" />
<text x="38.00" y="229.80" font-size="8.4" text-anchor="end" stroke="#231f20" stroke-width="0.2" textLength="14.6" lengthAdjust="spacingAndGlyphs" >10.0</text>
<line x1="39.50" y1="254.70" x2="45.50" y2="254.70" stroke="#111" stroke-width="0.9" />
<text x="38.00" y="257.70" font-size="8.4" text-anchor="end" stroke="#231f20" stroke-width="0.2" textLength="10.2" lengthAdjust="spacingAndGlyphs" >1.0</text>
<line x1="39.50" y1="282.90" x2="45.50" y2="282.90" stroke="#111" stroke-width="0.9" />
<text x="38.00" y="285.90" font-size="8.4" text-anchor="end" stroke="#231f20" stroke-width="0.2" textLength="10.2" lengthAdjust="spacingAndGlyphs" >0.1</text>
<line x1="42.50" y1="218.34" x2="44.10" y2="218.34" stroke="#111" stroke-width="0.5" />
<line x1="42.50" y1="213.39" x2="44.10" y2="213.39" stroke="#111" stroke-width="0.5" />
<line x1="42.50" y1="209.88" x2="44.10" y2="209.88" stroke="#111" stroke-width="0.5" />
<line x1="42.50" y1="207.16" x2="44.10" y2="207.16" stroke="#111" stroke-width="0.5" />
<line x1="42.50" y1="204.93" x2="44.10" y2="204.93" stroke="#111" stroke-width="0.5" />
<line x1="42.50" y1="203.05" x2="44.10" y2="203.05" stroke="#111" stroke-width="0.5" />
<line x1="42.50" y1="201.42" x2="44.10" y2="201.42" stroke="#111" stroke-width="0.5" />
<line x1="42.50" y1="199.99" x2="44.10" y2="199.99" stroke="#111" stroke-width="0.5" />
<line x1="42.50" y1="246.44" x2="44.10" y2="246.44" stroke="#111" stroke-width="0.5" />
<line x1="42.50" y1="241.49" x2="44.10" y2="241.49" stroke="#111" stroke-width="0.5" />
<line x1="42.50" y1="237.98" x2="44.10" y2="237.98" stroke="#111" stroke-width="0.5" />
<line x1="42.50" y1="235.26" x2="44.10" y2="235.26" stroke="#111" stroke-width="0.5" />
<line x1="42.50" y1="233.03" x2="44.10" y2="233.03" stroke="#111" stroke-width="0.5" />
<line x1="42.50" y1="231.15" x2="44.10" y2="231.15" stroke="#111" stroke-width="0.5" />
<line x1="42.50" y1="229.52" x2="44.10" y2="229.52" stroke="#111" stroke-width="0.5" />
<line x1="42.50" y1="228.09" x2="44.10" y2="228.09" stroke="#111" stroke-width="0.5" />
<line x1="42.50" y1="274.34" x2="44.10" y2="274.34" stroke="#111" stroke-width="0.5" />
<line x1="42.50" y1="269.39" x2="44.10" y2="269.39" stroke="#111" stroke-width="0.5" />
<line x1="42.50" y1="265.88" x2="44.10" y2="265.88" stroke="#111" stroke-width="0.5" />
<line x1="42.50" y1="263.16" x2="44.10" y2="263.16" stroke="#111" stroke-width="0.5" />
<line x1="42.50" y1="260.93" x2="44.10" y2="260.93" stroke="#111" stroke-width="0.5" />
<line x1="42.50" y1="259.05" x2="44.10" y2="259.05" stroke="#111" stroke-width="0.5" />
<line x1="42.50" y1="257.42" x2="44.10" y2="257.42" stroke="#111" stroke-width="0.5" />
<line x1="42.50" y1="255.99" x2="44.10" y2="255.99" stroke="#111" stroke-width="0.5" />
<line x1="42.50" y1="297.59" x2="44.10" y2="297.59" stroke="#111" stroke-width="0.5" />
<line x1="42.50" y1="294.08" x2="44.10" y2="294.08" stroke="#111" stroke-width="0.5" />
<line x1="42.50" y1="291.36" x2="44.10" y2="291.36" stroke="#111" stroke-width="0.5" />
<line x1="42.50" y1="289.13" x2="44.10" y2="289.13" stroke="#111" stroke-width="0.5" />
<line x1="42.50" y1="287.25" x2="44.10" y2="287.25" stroke="#111" stroke-width="0.5" />
<line x1="42.50" y1="285.62" x2="44.10" y2="285.62" stroke="#111" stroke-width="0.5" />
<line x1="42.50" y1="284.19" x2="44.10" y2="284.19" stroke="#111" stroke-width="0.5" />
<line x1="74.20" y1="301.30" x2="74.20" y2="304.10" stroke="#111" stroke-width="0.9" />
<line x1="132.80" y1="301.30" x2="132.80" y2="304.10" stroke="#111" stroke-width="0.9" />
<line x1="190.80" y1="301.30" x2="190.80" y2="304.10" stroke="#111" stroke-width="0.9" />
<text x="16.20" y="247.80" font-size="9.0" text-anchor="middle" stroke="#231f20" stroke-width="0.2" textLength="39" lengthAdjust="spacingAndGlyphs" transform="rotate(-90 16.20 247.80)" >VAF % (log)</text>
<text x="74.00" y="312.80" font-size="8.6" text-anchor="middle" stroke="#231f20" stroke-width="0.2" textLength="38.2" lengthAdjust="spacingAndGlyphs" >Diagnostic</text>
<text x="74.00" y="322.60" font-size="8.6" text-anchor="middle" stroke="#231f20" stroke-width="0.2" textLength="20.6" lengthAdjust="spacingAndGlyphs" >tissue</text>
<text x="133.30" y="314.60" font-size="9.2" text-anchor="middle" stroke="#231f20" stroke-width="0.2" textLength="43.8" lengthAdjust="spacingAndGlyphs" >Pretreatment</text>
<text x="133.30" y="325.40" font-size="9.2" text-anchor="middle" stroke="#231f20" stroke-width="0.2" textLength="24.2" lengthAdjust="spacingAndGlyphs" >plasma</text>
<text x="192.20" y="312.80" font-size="8.6" text-anchor="middle" stroke="#231f20" stroke-width="0.2" textLength="47.7" lengthAdjust="spacingAndGlyphs" >Tissue biopsy</text>
<text x="192.20" y="322.60" font-size="8.6" text-anchor="middle" stroke="#231f20" stroke-width="0.2" textLength="35.9" lengthAdjust="spacingAndGlyphs" >at relapse</text>
<circle cx="70.58" cy="201.56" r="1.35" fill="#c3c3c8" />
<circle cx="79.25" cy="201.01" r="1.35" fill="#c3c3c8" />
<circle cx="76.20" cy="203.06" r="1.35" fill="#c3c3c8" />
<circle cx="63.54" cy="204.05" r="1.35" fill="#c3c3c8" />
<circle cx="62.99" cy="203.54" r="1.35" fill="#c3c3c8" />
<circle cx="63.85" cy="201.13" r="1.35" fill="#c3c3c8" />
<circle cx="73.25" cy="206.29" r="1.35" fill="#c3c3c8" />
<circle cx="65.28" cy="202.06" r="1.35" fill="#c3c3c8" />
<circle cx="78.63" cy="207.13" r="1.35" fill="#c3c3c8" />
<circle cx="77.29" cy="203.28" r="1.35" fill="#c3c3c8" />
<circle cx="87.87" cy="200.83" r="1.35" fill="#c3c3c8" />
<circle cx="84.75" cy="202.53" r="1.35" fill="#c3c3c8" />
<circle cx="65.82" cy="201.32" r="1.35" fill="#c3c3c8" />
<circle cx="70.17" cy="206.21" r="1.35" fill="#c3c3c8" />
<circle cx="66.79" cy="204.57" r="1.35" fill="#c3c3c8" />
<circle cx="78.93" cy="203.11" r="1.35" fill="#c3c3c8" />
<circle cx="76.52" cy="200.94" r="1.35" fill="#c3c3c8" />
<circle cx="63.58" cy="201.94" r="1.35" fill="#c3c3c8" />
<circle cx="80.03" cy="203.49" r="1.35" fill="#c3c3c8" />
<circle cx="70.32" cy="204.60" r="1.35" fill="#c3c3c8" />
<circle cx="74.01" cy="202.60" r="1.35" fill="#c3c3c8" />
<circle cx="83.05" cy="205.39" r="1.35" fill="#c3c3c8" />
<circle cx="68.47" cy="204.52" r="1.35" fill="#c3c3c8" />
<circle cx="75.92" cy="206.63" r="1.35" fill="#c3c3c8" />
<circle cx="81.33" cy="202.52" r="1.35" fill="#c3c3c8" />
<circle cx="87.97" cy="201.33" r="1.35" fill="#c3c3c8" />
<circle cx="73.08" cy="205.80" r="1.35" fill="#c3c3c8" />
<circle cx="66.03" cy="203.92" r="1.35" fill="#c3c3c8" />
<circle cx="63.04" cy="205.18" r="1.35" fill="#c3c3c8" />
<circle cx="82.26" cy="204.51" r="1.35" fill="#c3c3c8" />
<circle cx="85.20" cy="202.70" r="1.35" fill="#c3c3c8" />
<circle cx="80.43" cy="204.66" r="1.35" fill="#c3c3c8" />
<circle cx="77.37" cy="203.69" r="1.35" fill="#c3c3c8" />
<circle cx="84.26" cy="207.11" r="1.35" fill="#c3c3c8" />
<circle cx="74.56" cy="205.15" r="1.35" fill="#c3c3c8" />
<circle cx="63.61" cy="205.41" r="1.35" fill="#c3c3c8" />
<circle cx="79.15" cy="207.45" r="1.35" fill="#c3c3c8" />
<circle cx="83.78" cy="202.49" r="1.35" fill="#c3c3c8" />
<circle cx="72.22" cy="205.18" r="1.35" fill="#c3c3c8" />
<circle cx="62.60" cy="203.73" r="1.35" fill="#c3c3c8" />
<circle cx="66.45" cy="201.32" r="1.35" fill="#c3c3c8" />
<circle cx="63.56" cy="205.88" r="1.35" fill="#c3c3c8" />
<circle cx="65.43" cy="202.23" r="1.35" fill="#c3c3c8" />
<circle cx="72.36" cy="206.60" r="1.35" fill="#c3c3c8" />
<circle cx="64.14" cy="203.64" r="1.35" fill="#c3c3c8" />
<circle cx="76.56" cy="206.68" r="1.35" fill="#c3c3c8" />
<circle cx="83.71" cy="206.55" r="1.35" fill="#c3c3c8" />
<circle cx="69.38" cy="203.41" r="1.35" fill="#c3c3c8" />
<circle cx="71.51" cy="206.69" r="1.35" fill="#c3c3c8" />
<circle cx="87.38" cy="201.56" r="1.35" fill="#c3c3c8" />
<circle cx="66.67" cy="202.12" r="1.35" fill="#c3c3c8" />
<circle cx="68.18" cy="203.89" r="1.35" fill="#c3c3c8" />
<circle cx="77.61" cy="202.34" r="1.35" fill="#c3c3c8" />
<circle cx="62.11" cy="203.43" r="1.35" fill="#c3c3c8" />
<circle cx="71.79" cy="204.46" r="1.35" fill="#c3c3c8" />
<circle cx="87.26" cy="205.33" r="1.35" fill="#c3c3c8" />
<circle cx="75.66" cy="204.82" r="1.35" fill="#c3c3c8" />
<circle cx="79.92" cy="200.88" r="1.35" fill="#c3c3c8" />
<circle cx="85.84" cy="205.96" r="1.35" fill="#c3c3c8" />
<circle cx="85.17" cy="206.09" r="1.35" fill="#c3c3c8" />
<circle cx="72.40" cy="203.29" r="1.35" fill="#c3c3c8" />
<circle cx="64.74" cy="204.94" r="1.35" fill="#c3c3c8" />
<circle cx="63.65" cy="200.97" r="1.35" fill="#c3c3c8" />
<circle cx="67.53" cy="201.64" r="1.35" fill="#c3c3c8" />
<circle cx="71.01" cy="200.87" r="1.35" fill="#c3c3c8" />
<circle cx="62.01" cy="201.56" r="1.35" fill="#c3c3c8" />
<circle cx="64.69" cy="203.05" r="1.35" fill="#c3c3c8" />
<circle cx="62.68" cy="206.62" r="1.35" fill="#c3c3c8" />
<circle cx="78.27" cy="201.54" r="1.35" fill="#c3c3c8" />
<circle cx="68.68" cy="202.93" r="1.35" fill="#c3c3c8" />
<circle cx="71.65" cy="201.36" r="1.35" fill="#c3c3c8" />
<circle cx="84.50" cy="207.45" r="1.35" fill="#c3c3c8" />
<circle cx="74.35" cy="203.89" r="1.35" fill="#c3c3c8" />
<circle cx="64.28" cy="201.22" r="1.35" fill="#c3c3c8" />
<circle cx="71.08" cy="202.35" r="1.35" fill="#c3c3c8" />
<circle cx="83.96" cy="201.63" r="1.35" fill="#c3c3c8" />
<circle cx="62.61" cy="207.16" r="1.35" fill="#c3c3c8" />
<circle cx="76.00" cy="201.53" r="1.35" fill="#c3c3c8" />
<circle cx="76.39" cy="200.69" r="1.35" fill="#c3c3c8" />
<circle cx="75.99" cy="207.35" r="1.35" fill="#c3c3c8" />
<circle cx="84.88" cy="205.37" r="1.35" fill="#c3c3c8" />
<circle cx="68.92" cy="203.07" r="1.35" fill="#c3c3c8" />
<circle cx="66.43" cy="205.90" r="1.35" fill="#c3c3c8" />
<circle cx="76.11" cy="205.95" r="1.35" fill="#c3c3c8" />
<circle cx="70.74" cy="202.06" r="1.35" fill="#c3c3c8" />
<circle cx="83.51" cy="207.39" r="1.35" fill="#c3c3c8" />
<circle cx="84.59" cy="206.14" r="1.35" fill="#c3c3c8" />
<circle cx="83.69" cy="205.68" r="1.35" fill="#c3c3c8" />
<circle cx="68.01" cy="204.12" r="1.35" fill="#c3c3c8" />
<circle cx="71.42" cy="200.70" r="1.35" fill="#c3c3c8" />
<circle cx="57.98" cy="208.04" r="1.35" fill="#c3c3c8" />
<circle cx="66.07" cy="210.31" r="1.35" fill="#c3c3c8" />
<circle cx="90.48" cy="208.96" r="1.35" fill="#c3c3c8" />
<circle cx="89.80" cy="211.93" r="1.35" fill="#c3c3c8" />
<circle cx="90.43" cy="208.51" r="1.35" fill="#c3c3c8" />
<circle cx="64.72" cy="207.75" r="1.35" fill="#c3c3c8" />
<circle cx="63.88" cy="207.62" r="1.35" fill="#c3c3c8" />
<circle cx="78.84" cy="211.45" r="1.35" fill="#c3c3c8" />
<circle cx="86.42" cy="209.14" r="1.35" fill="#c3c3c8" />
<circle cx="79.85" cy="210.90" r="1.35" fill="#c3c3c8" />
<circle cx="59.97" cy="210.13" r="1.35" fill="#c3c3c8" />
<circle cx="88.84" cy="210.80" r="1.35" fill="#c3c3c8" />
<circle cx="83.25" cy="209.13" r="1.35" fill="#c3c3c8" />
<circle cx="63.25" cy="210.84" r="1.35" fill="#c3c3c8" />
<circle cx="68.64" cy="210.90" r="1.35" fill="#c3c3c8" />
<circle cx="91.01" cy="208.68" r="1.35" fill="#c3c3c8" />
<circle cx="71.05" cy="211.71" r="1.35" fill="#c3c3c8" />
<circle cx="82.37" cy="207.44" r="1.35" fill="#c3c3c8" />
<circle cx="61.45" cy="207.33" r="1.35" fill="#c3c3c8" />
<circle cx="88.67" cy="210.94" r="1.35" fill="#c3c3c8" />
<circle cx="62.12" cy="211.05" r="1.35" fill="#c3c3c8" />
<circle cx="91.31" cy="210.11" r="1.35" fill="#c3c3c8" />
<circle cx="69.26" cy="209.52" r="1.35" fill="#c3c3c8" />
<circle cx="61.58" cy="206.58" r="1.35" fill="#c3c3c8" />
<circle cx="90.98" cy="210.07" r="1.35" fill="#c3c3c8" />
<circle cx="75.43" cy="211.63" r="1.35" fill="#c3c3c8" />
<circle cx="72.18" cy="211.29" r="1.35" fill="#c3c3c8" />
<circle cx="85.92" cy="207.66" r="1.35" fill="#c3c3c8" />
<circle cx="65.81" cy="208.11" r="1.35" fill="#c3c3c8" />
<circle cx="65.42" cy="209.73" r="1.35" fill="#c3c3c8" />
<circle cx="66.08" cy="208.80" r="1.35" fill="#c3c3c8" />
<circle cx="61.59" cy="211.51" r="1.35" fill="#c3c3c8" />
<circle cx="69.38" cy="209.02" r="1.35" fill="#c3c3c8" />
<circle cx="77.42" cy="211.47" r="1.35" fill="#c3c3c8" />
<circle cx="71.72" cy="211.55" r="1.35" fill="#c3c3c8" />
<circle cx="74.56" cy="209.43" r="1.35" fill="#c3c3c8" />
<circle cx="75.32" cy="206.60" r="1.35" fill="#c3c3c8" />
<circle cx="72.40" cy="207.51" r="1.35" fill="#c3c3c8" />
<circle cx="57.14" cy="210.90" r="1.35" fill="#c3c3c8" />
<circle cx="63.03" cy="209.10" r="1.35" fill="#c3c3c8" />
<circle cx="82.38" cy="209.56" r="1.35" fill="#c3c3c8" />
<circle cx="68.41" cy="209.35" r="1.35" fill="#c3c3c8" />
<circle cx="76.44" cy="210.81" r="1.35" fill="#c3c3c8" />
<circle cx="60.71" cy="209.58" r="1.35" fill="#c3c3c8" />
<circle cx="65.70" cy="208.02" r="1.35" fill="#c3c3c8" />
<circle cx="84.03" cy="209.29" r="1.35" fill="#c3c3c8" />
<circle cx="76.66" cy="210.68" r="1.35" fill="#c3c3c8" />
<circle cx="88.94" cy="208.94" r="1.35" fill="#c3c3c8" />
<circle cx="78.44" cy="209.28" r="1.35" fill="#c3c3c8" />
<circle cx="74.93" cy="210.31" r="1.35" fill="#c3c3c8" />
<circle cx="72.83" cy="209.43" r="1.35" fill="#c3c3c8" />
<circle cx="73.73" cy="211.68" r="1.35" fill="#c3c3c8" />
<circle cx="81.47" cy="211.32" r="1.35" fill="#c3c3c8" />
<circle cx="89.98" cy="207.93" r="1.35" fill="#c3c3c8" />
<circle cx="76.58" cy="211.69" r="1.35" fill="#c3c3c8" />
<circle cx="86.40" cy="207.25" r="1.35" fill="#c3c3c8" />
<circle cx="61.26" cy="208.93" r="1.35" fill="#c3c3c8" />
<circle cx="59.54" cy="207.82" r="1.35" fill="#c3c3c8" />
<circle cx="59.56" cy="210.18" r="1.35" fill="#c3c3c8" />
<circle cx="84.44" cy="211.43" r="1.35" fill="#c3c3c8" />
<circle cx="62.41" cy="210.44" r="1.35" fill="#c3c3c8" />
<circle cx="80.11" cy="207.29" r="1.35" fill="#c3c3c8" />
<circle cx="87.90" cy="211.82" r="1.35" fill="#c3c3c8" />
<circle cx="64.69" cy="211.74" r="1.35" fill="#c3c3c8" />
<circle cx="70.94" cy="209.18" r="1.35" fill="#c3c3c8" />
<circle cx="91.65" cy="211.08" r="1.35" fill="#c3c3c8" />
<circle cx="62.65" cy="208.87" r="1.35" fill="#c3c3c8" />
<circle cx="75.05" cy="208.37" r="1.35" fill="#c3c3c8" />
<circle cx="63.85" cy="208.25" r="1.35" fill="#c3c3c8" />
<circle cx="82.28" cy="206.61" r="1.35" fill="#c3c3c8" />
<circle cx="76.39" cy="208.92" r="1.35" fill="#c3c3c8" />
<circle cx="57.63" cy="208.32" r="1.35" fill="#c3c3c8" />
<circle cx="78.84" cy="209.32" r="1.35" fill="#c3c3c8" />
<circle cx="59.25" cy="211.92" r="1.35" fill="#c3c3c8" />
<circle cx="84.59" cy="211.84" r="1.35" fill="#c3c3c8" />
<circle cx="60.67" cy="207.96" r="1.35" fill="#c3c3c8" />
<circle cx="58.39" cy="210.78" r="1.35" fill="#c3c3c8" />
<circle cx="66.47" cy="207.21" r="1.35" fill="#c3c3c8" />
<circle cx="71.78" cy="211.51" r="1.35" fill="#c3c3c8" />
<circle cx="85.66" cy="207.92" r="1.35" fill="#c3c3c8" />
<circle cx="62.23" cy="211.56" r="1.35" fill="#c3c3c8" />
<circle cx="76.97" cy="210.35" r="1.35" fill="#c3c3c8" />
<circle cx="60.13" cy="206.82" r="1.35" fill="#c3c3c8" />
<circle cx="81.09" cy="208.84" r="1.35" fill="#c3c3c8" />
<circle cx="59.53" cy="211.66" r="1.35" fill="#c3c3c8" />
<circle cx="79.21" cy="210.91" r="1.35" fill="#c3c3c8" />
<circle cx="59.93" cy="211.21" r="1.35" fill="#c3c3c8" />
<circle cx="59.33" cy="211.25" r="1.35" fill="#c3c3c8" />
<circle cx="72.88" cy="208.37" r="1.35" fill="#c3c3c8" />
<circle cx="76.36" cy="211.60" r="1.35" fill="#c3c3c8" />
<circle cx="71.12" cy="214.13" r="1.35" fill="#c3c3c8" />
<circle cx="74.61" cy="215.93" r="1.35" fill="#c3c3c8" />
<circle cx="68.98" cy="214.66" r="1.35" fill="#c3c3c8" />
<circle cx="68.18" cy="215.33" r="1.35" fill="#c3c3c8" />
<circle cx="71.71" cy="217.03" r="1.35" fill="#c3c3c8" />
<circle cx="77.75" cy="216.78" r="1.35" fill="#c3c3c8" />
<circle cx="74.25" cy="214.94" r="1.35" fill="#c3c3c8" />
<circle cx="72.18" cy="212.30" r="1.35" fill="#c3c3c8" />
<circle cx="70.88" cy="212.25" r="1.35" fill="#c3c3c8" />
<circle cx="77.40" cy="221.09" r="1.35" fill="#c3c3c8" />
<circle cx="70.06" cy="219.83" r="1.35" fill="#c3c3c8" />
<circle cx="80.12" cy="213.75" r="1.35" fill="#c3c3c8" />
<circle cx="78.56" cy="219.13" r="1.35" fill="#c3c3c8" />
<circle cx="74.18" cy="225.77" r="1.35" fill="#c3c3c8" />
<circle cx="72.81" cy="220.36" r="1.35" fill="#c3c3c8" />
<circle cx="76.78" cy="228.21" r="1.35" fill="#c3c3c8" />
<circle cx="72.13" cy="225.73" r="1.35" fill="#c3c3c8" />
<circle cx="77.04" cy="222.49" r="1.35" fill="#c3c3c8" />
<circle cx="72.96" cy="217.73" r="1.35" fill="#c3c3c8" />
<circle cx="68.23" cy="214.14" r="1.35" fill="#c3c3c8" />
<circle cx="68.45" cy="224.22" r="1.35" fill="#c3c3c8" />
<circle cx="70.95" cy="214.69" r="1.35" fill="#c3c3c8" />
<circle cx="68.64" cy="225.88" r="1.35" fill="#c3c3c8" />
<circle cx="79.25" cy="223.06" r="1.35" fill="#c3c3c8" />
<circle cx="71.31" cy="216.00" r="1.35" fill="#c3c3c8" />
<circle cx="71.46" cy="219.58" r="1.35" fill="#c3c3c8" />
<circle cx="69.63" cy="219.36" r="1.35" fill="#c3c3c8" />
<circle cx="71.05" cy="227.87" r="1.35" fill="#c3c3c8" />
<circle cx="80.63" cy="221.03" r="1.35" fill="#c3c3c8" />
<circle cx="70.80" cy="227.93" r="1.35" fill="#c3c3c8" />
<circle cx="71.68" cy="217.88" r="1.35" fill="#c3c3c8" />
<circle cx="67.51" cy="218.30" r="1.35" fill="#c3c3c8" />
<circle cx="73.91" cy="220.30" r="1.35" fill="#c3c3c8" />
<circle cx="70.21" cy="220.33" r="1.35" fill="#c3c3c8" />
<circle cx="67.57" cy="216.36" r="1.35" fill="#c3c3c8" />
<circle cx="68.71" cy="218.59" r="1.35" fill="#c3c3c8" />
<circle cx="68.06" cy="212.37" r="1.35" fill="#c3c3c8" />
<circle cx="71.61" cy="215.84" r="1.35" fill="#c3c3c8" />
<circle cx="75.41" cy="220.73" r="1.35" fill="#c3c3c8" />
<circle cx="77.63" cy="222.85" r="1.35" fill="#c3c3c8" />
<circle cx="77.17" cy="226.50" r="1.35" fill="#c3c3c8" />
<circle cx="72.76" cy="217.38" r="1.35" fill="#c3c3c8" />
<circle cx="80.79" cy="214.47" r="1.35" fill="#c3c3c8" />
<circle cx="77.28" cy="222.61" r="1.35" fill="#c3c3c8" />
<circle cx="68.09" cy="225.78" r="1.35" fill="#c3c3c8" />
<circle cx="79.54" cy="222.35" r="1.35" fill="#c3c3c8" />
<circle cx="77.41" cy="225.40" r="1.35" fill="#c3c3c8" />
<circle cx="69.38" cy="220.64" r="1.35" fill="#c3c3c8" />
<circle cx="74.31" cy="225.78" r="1.35" fill="#c3c3c8" />
<circle cx="78.36" cy="225.64" r="1.35" fill="#c3c3c8" />
<circle cx="75.38" cy="226.73" r="1.35" fill="#c3c3c8" />
<circle cx="76.72" cy="223.44" r="1.35" fill="#c3c3c8" />
<circle cx="70.60" cy="212.51" r="1.35" fill="#c3c3c8" />
<circle cx="69.30" cy="217.95" r="1.35" fill="#c3c3c8" />
<circle cx="68.92" cy="225.79" r="1.35" fill="#c3c3c8" />
<circle cx="74.58" cy="245.14" r="1.35" fill="#c3c3c8" />
<circle cx="75.07" cy="246.54" r="1.35" fill="#c3c3c8" />
<circle cx="74.07" cy="228.59" r="1.35" fill="#c3c3c8" />
<circle cx="76.32" cy="248.33" r="1.35" fill="#c3c3c8" />
<circle cx="74.17" cy="242.68" r="1.35" fill="#c3c3c8" />
<circle cx="75.31" cy="230.25" r="1.35" fill="#c3c3c8" />
<circle cx="75.88" cy="235.18" r="1.35" fill="#c3c3c8" />
<circle cx="71.04" cy="235.54" r="1.35" fill="#c3c3c8" />
<circle cx="75.82" cy="233.94" r="1.35" fill="#c3c3c8" />
<circle cx="75.90" cy="254.36" r="1.35" fill="#c3c3c8" />
<circle cx="74.11" cy="238.64" r="1.35" fill="#c3c3c8" />
<circle cx="74.00" cy="246.62" r="1.35" fill="#c3c3c8" />
<circle cx="76.10" cy="244.85" r="1.35" fill="#c3c3c8" />
<circle cx="75.19" cy="230.55" r="1.35" fill="#c3c3c8" />
<circle cx="71.58" cy="235.23" r="1.35" fill="#c3c3c8" />
<circle cx="75.93" cy="236.57" r="1.35" fill="#c3c3c8" />
<circle cx="74.64" cy="228.83" r="1.35" fill="#c3c3c8" />
<circle cx="70.94" cy="235.62" r="1.35" fill="#c3c3c8" />
<circle cx="75.41" cy="246.84" r="1.35" fill="#c3c3c8" />
<circle cx="75.43" cy="236.21" r="1.35" fill="#c3c3c8" />
<circle cx="74.27" cy="240.81" r="1.35" fill="#c3c3c8" />
<circle cx="73.90" cy="231.64" r="1.35" fill="#c3c3c8" />
<circle cx="77.02" cy="233.78" r="1.35" fill="#c3c3c8" />
<circle cx="77.64" cy="253.31" r="1.35" fill="#c3c3c8" />
<circle cx="70.63" cy="240.66" r="1.35" fill="#c3c3c8" />
<circle cx="76.49" cy="254.15" r="1.35" fill="#c3c3c8" />
<circle cx="73.78" cy="235.62" r="1.35" fill="#c3c3c8" />
<circle cx="72.03" cy="253.56" r="1.35" fill="#c3c3c8" />
<circle cx="72.04" cy="243.91" r="1.35" fill="#c3c3c8" />
<circle cx="71.53" cy="242.39" r="1.35" fill="#c3c3c8" />
<circle cx="77.46" cy="232.01" r="1.35" fill="#c3c3c8" />
<circle cx="76.49" cy="241.98" r="1.35" fill="#c3c3c8" />
<circle cx="76.97" cy="247.14" r="1.35" fill="#c3c3c8" />
<circle cx="72.19" cy="252.29" r="1.35" fill="#c3c3c8" />
<circle cx="74.05" cy="229.16" r="1.35" fill="#c3c3c8" />
<circle cx="70.53" cy="241.53" r="1.35" fill="#c3c3c8" />
<circle cx="73.79" cy="236.50" r="1.35" fill="#c3c3c8" />
<circle cx="71.53" cy="237.61" r="1.35" fill="#c3c3c8" />
<circle cx="72.81" cy="250.77" r="1.35" fill="#c3c3c8" />
<circle cx="70.51" cy="248.39" r="1.35" fill="#c3c3c8" />
<circle cx="74.20" cy="259.70" r="1.35" fill="#c3c3c8" />
<circle cx="74.20" cy="265.80" r="1.35" fill="#c3c3c8" />
<circle cx="74.20" cy="272.00" r="1.35" fill="#c3c3c8" />
<circle cx="74.20" cy="286.00" r="1.35" fill="#c3c3c8" />
<circle cx="145.37" cy="216.52" r="1.35" fill="#c3c3c8" />
<circle cx="148.42" cy="221.56" r="1.35" fill="#c3c3c8" />
<circle cx="147.55" cy="217.96" r="1.35" fill="#c3c3c8" />
<circle cx="129.03" cy="218.84" r="1.35" fill="#c3c3c8" />
<circle cx="150.96" cy="220.51" r="1.35" fill="#c3c3c8" />
<circle cx="128.62" cy="219.14" r="1.35" fill="#c3c3c8" />
<circle cx="125.63" cy="215.91" r="1.35" fill="#c3c3c8" />
<circle cx="119.56" cy="222.59" r="1.35" fill="#c3c3c8" />
<circle cx="126.00" cy="223.45" r="1.35" fill="#c3c3c8" />
<circle cx="124.73" cy="217.76" r="1.35" fill="#c3c3c8" />
<circle cx="133.88" cy="217.11" r="1.35" fill="#c3c3c8" />
<circle cx="129.07" cy="223.63" r="1.35" fill="#c3c3c8" />
<circle cx="146.95" cy="222.40" r="1.35" fill="#c3c3c8" />
<circle cx="138.08" cy="223.26" r="1.35" fill="#c3c3c8" />
<circle cx="148.92" cy="220.17" r="1.35" fill="#c3c3c8" />
<circle cx="141.19" cy="215.92" r="1.35" fill="#c3c3c8" />
<circle cx="141.63" cy="219.33" r="1.35" fill="#c3c3c8" />
<circle cx="142.34" cy="220.98" r="1.35" fill="#c3c3c8" />
<circle cx="126.02" cy="215.92" r="1.35" fill="#c3c3c8" />
<circle cx="148.44" cy="216.58" r="1.35" fill="#c3c3c8" />
<circle cx="132.53" cy="218.42" r="1.35" fill="#c3c3c8" />
<circle cx="126.42" cy="221.78" r="1.35" fill="#c3c3c8" />
<circle cx="150.17" cy="217.71" r="1.35" fill="#c3c3c8" />
<circle cx="138.96" cy="218.06" r="1.35" fill="#c3c3c8" />
<circle cx="135.51" cy="218.85" r="1.35" fill="#c3c3c8" />
<circle cx="121.86" cy="216.87" r="1.35" fill="#c3c3c8" />
<circle cx="123.28" cy="223.20" r="1.35" fill="#c3c3c8" />
<circle cx="133.40" cy="217.37" r="1.35" fill="#c3c3c8" />
<circle cx="147.72" cy="223.97" r="1.35" fill="#c3c3c8" />
<circle cx="131.75" cy="216.69" r="1.35" fill="#c3c3c8" />
<circle cx="122.73" cy="216.27" r="1.35" fill="#c3c3c8" />
<circle cx="127.97" cy="216.27" r="1.35" fill="#c3c3c8" />
<circle cx="124.37" cy="217.70" r="1.35" fill="#c3c3c8" />
<circle cx="135.94" cy="223.04" r="1.35" fill="#c3c3c8" />
<circle cx="142.24" cy="219.01" r="1.35" fill="#c3c3c8" />
<circle cx="130.49" cy="219.96" r="1.35" fill="#c3c3c8" />
<circle cx="129.19" cy="218.37" r="1.35" fill="#c3c3c8" />
<circle cx="118.17" cy="217.86" r="1.35" fill="#c3c3c8" />
<circle cx="149.87" cy="216.57" r="1.35" fill="#c3c3c8" />
<circle cx="133.62" cy="220.85" r="1.35" fill="#c3c3c8" />
<circle cx="146.20" cy="217.34" r="1.35" fill="#c3c3c8" />
<circle cx="125.49" cy="217.61" r="1.35" fill="#c3c3c8" />
<circle cx="129.99" cy="219.29" r="1.35" fill="#c3c3c8" />
<circle cx="149.39" cy="222.71" r="1.35" fill="#c3c3c8" />
<circle cx="146.55" cy="215.69" r="1.35" fill="#c3c3c8" />
<circle cx="117.13" cy="221.53" r="1.35" fill="#c3c3c8" />
<circle cx="147.35" cy="219.52" r="1.35" fill="#c3c3c8" />
<circle cx="136.55" cy="215.50" r="1.35" fill="#c3c3c8" />
<circle cx="129.70" cy="223.38" r="1.35" fill="#c3c3c8" />
<circle cx="144.90" cy="222.77" r="1.35" fill="#c3c3c8" />
<circle cx="150.03" cy="217.61" r="1.35" fill="#c3c3c8" />
<circle cx="119.82" cy="216.81" r="1.35" fill="#c3c3c8" />
<circle cx="134.28" cy="221.30" r="1.35" fill="#c3c3c8" />
<circle cx="148.95" cy="221.63" r="1.35" fill="#c3c3c8" />
<circle cx="138.66" cy="222.00" r="1.35" fill="#c3c3c8" />
<circle cx="132.01" cy="220.19" r="1.35" fill="#c3c3c8" />
<circle cx="117.38" cy="222.15" r="1.35" fill="#c3c3c8" />
<circle cx="124.14" cy="223.32" r="1.35" fill="#c3c3c8" />
<circle cx="138.59" cy="218.08" r="1.35" fill="#c3c3c8" />
<circle cx="120.48" cy="217.64" r="1.35" fill="#c3c3c8" />
<circle cx="138.27" cy="221.44" r="1.35" fill="#c3c3c8" />
<circle cx="119.92" cy="216.10" r="1.35" fill="#c3c3c8" />
<circle cx="134.36" cy="220.45" r="1.35" fill="#c3c3c8" />
<circle cx="129.58" cy="217.40" r="1.35" fill="#c3c3c8" />
<circle cx="137.04" cy="215.59" r="1.35" fill="#c3c3c8" />
<circle cx="126.55" cy="219.42" r="1.35" fill="#c3c3c8" />
<circle cx="149.56" cy="220.98" r="1.35" fill="#c3c3c8" />
<circle cx="146.93" cy="219.54" r="1.35" fill="#c3c3c8" />
<circle cx="124.22" cy="217.60" r="1.35" fill="#c3c3c8" />
<circle cx="149.62" cy="221.49" r="1.35" fill="#c3c3c8" />
<circle cx="126.76" cy="215.69" r="1.35" fill="#c3c3c8" />
<circle cx="133.44" cy="221.23" r="1.35" fill="#c3c3c8" />
<circle cx="130.70" cy="217.69" r="1.35" fill="#c3c3c8" />
<circle cx="139.36" cy="223.36" r="1.35" fill="#c3c3c8" />
<circle cx="123.94" cy="215.79" r="1.35" fill="#c3c3c8" />
<circle cx="127.83" cy="219.07" r="1.35" fill="#c3c3c8" />
<circle cx="139.89" cy="217.18" r="1.35" fill="#c3c3c8" />
<circle cx="143.90" cy="221.78" r="1.35" fill="#c3c3c8" />
<circle cx="133.67" cy="217.24" r="1.35" fill="#c3c3c8" />
<circle cx="149.95" cy="218.15" r="1.35" fill="#c3c3c8" />
<circle cx="144.70" cy="217.46" r="1.35" fill="#c3c3c8" />
<circle cx="123.75" cy="221.96" r="1.35" fill="#c3c3c8" />
<circle cx="126.32" cy="223.59" r="1.35" fill="#c3c3c8" />
<circle cx="133.35" cy="217.09" r="1.35" fill="#c3c3c8" />
<circle cx="123.82" cy="219.04" r="1.35" fill="#c3c3c8" />
<circle cx="139.29" cy="223.56" r="1.35" fill="#c3c3c8" />
<circle cx="121.12" cy="218.84" r="1.35" fill="#c3c3c8" />
<circle cx="123.45" cy="223.78" r="1.35" fill="#c3c3c8" />
<circle cx="120.97" cy="215.94" r="1.35" fill="#c3c3c8" />
<circle cx="118.10" cy="218.84" r="1.35" fill="#c3c3c8" />
<circle cx="147.44" cy="223.01" r="1.35" fill="#c3c3c8" />
<circle cx="141.65" cy="223.98" r="1.35" fill="#c3c3c8" />
<circle cx="148.61" cy="218.30" r="1.35" fill="#c3c3c8" />
<circle cx="122.49" cy="223.45" r="1.35" fill="#c3c3c8" />
<circle cx="142.12" cy="215.77" r="1.35" fill="#c3c3c8" />
<circle cx="139.26" cy="218.72" r="1.35" fill="#c3c3c8" />
<circle cx="129.09" cy="218.32" r="1.35" fill="#c3c3c8" />
<circle cx="121.92" cy="215.52" r="1.35" fill="#c3c3c8" />
<circle cx="125.79" cy="218.49" r="1.35" fill="#c3c3c8" />
<circle cx="149.44" cy="216.55" r="1.35" fill="#c3c3c8" />
<circle cx="149.75" cy="217.26" r="1.35" fill="#c3c3c8" />
<circle cx="128.48" cy="222.48" r="1.35" fill="#c3c3c8" />
<circle cx="144.77" cy="219.18" r="1.35" fill="#c3c3c8" />
<circle cx="117.72" cy="219.52" r="1.35" fill="#c3c3c8" />
<circle cx="129.05" cy="223.32" r="1.35" fill="#c3c3c8" />
<circle cx="122.76" cy="218.60" r="1.35" fill="#c3c3c8" />
<circle cx="147.39" cy="215.76" r="1.35" fill="#c3c3c8" />
<circle cx="130.38" cy="222.40" r="1.35" fill="#c3c3c8" />
<circle cx="142.83" cy="215.85" r="1.35" fill="#c3c3c8" />
<circle cx="117.22" cy="216.03" r="1.35" fill="#c3c3c8" />
<circle cx="148.20" cy="217.68" r="1.35" fill="#c3c3c8" />
<circle cx="142.16" cy="223.14" r="1.35" fill="#c3c3c8" />
<circle cx="127.87" cy="217.81" r="1.35" fill="#c3c3c8" />
<circle cx="149.52" cy="220.74" r="1.35" fill="#c3c3c8" />
<circle cx="125.18" cy="221.59" r="1.35" fill="#c3c3c8" />
<circle cx="127.08" cy="217.84" r="1.35" fill="#c3c3c8" />
<circle cx="116.13" cy="221.92" r="1.35" fill="#c3c3c8" />
<circle cx="148.08" cy="220.89" r="1.35" fill="#c3c3c8" />
<circle cx="149.01" cy="215.71" r="1.35" fill="#c3c3c8" />
<circle cx="124.19" cy="219.54" r="1.35" fill="#c3c3c8" />
<circle cx="149.49" cy="223.61" r="1.35" fill="#c3c3c8" />
<circle cx="129.53" cy="217.63" r="1.35" fill="#c3c3c8" />
<circle cx="131.05" cy="219.69" r="1.35" fill="#c3c3c8" />
<circle cx="148.48" cy="217.05" r="1.35" fill="#c3c3c8" />
<circle cx="144.09" cy="221.78" r="1.35" fill="#c3c3c8" />
<circle cx="144.80" cy="222.07" r="1.35" fill="#c3c3c8" />
<circle cx="137.25" cy="218.29" r="1.35" fill="#c3c3c8" />
<circle cx="127.18" cy="218.58" r="1.35" fill="#c3c3c8" />
<circle cx="143.38" cy="216.17" r="1.35" fill="#c3c3c8" />
<circle cx="122.91" cy="221.90" r="1.35" fill="#c3c3c8" />
<circle cx="124.66" cy="216.05" r="1.35" fill="#c3c3c8" />
<circle cx="117.19" cy="220.20" r="1.35" fill="#c3c3c8" />
<circle cx="127.40" cy="223.83" r="1.35" fill="#c3c3c8" />
<circle cx="146.92" cy="223.90" r="1.35" fill="#c3c3c8" />
<circle cx="125.27" cy="216.21" r="1.35" fill="#c3c3c8" />
<circle cx="119.37" cy="219.74" r="1.35" fill="#c3c3c8" />
<circle cx="140.84" cy="219.30" r="1.35" fill="#c3c3c8" />
<circle cx="124.20" cy="219.04" r="1.35" fill="#c3c3c8" />
<circle cx="137.71" cy="221.23" r="1.35" fill="#c3c3c8" />
<circle cx="142.18" cy="222.70" r="1.35" fill="#c3c3c8" />
<circle cx="139.25" cy="216.53" r="1.35" fill="#c3c3c8" />
<circle cx="145.43" cy="218.00" r="1.35" fill="#c3c3c8" />
<circle cx="135.84" cy="218.67" r="1.35" fill="#c3c3c8" />
<circle cx="141.83" cy="217.19" r="1.35" fill="#c3c3c8" />
<circle cx="124.66" cy="217.59" r="1.35" fill="#c3c3c8" />
<circle cx="121.37" cy="223.02" r="1.35" fill="#c3c3c8" />
<circle cx="136.24" cy="218.27" r="1.35" fill="#c3c3c8" />
<circle cx="129.86" cy="223.94" r="1.35" fill="#c3c3c8" />
<circle cx="133.76" cy="217.47" r="1.35" fill="#c3c3c8" />
<circle cx="144.30" cy="221.05" r="1.35" fill="#c3c3c8" />
<circle cx="133.98" cy="230.60" r="1.35" fill="#c3c3c8" />
<circle cx="132.20" cy="236.00" r="1.35" fill="#c3c3c8" />
<circle cx="132.95" cy="241.00" r="1.35" fill="#c3c3c8" />
<circle cx="133.64" cy="245.00" r="1.35" fill="#c3c3c8" />
<circle cx="137.25" cy="270.03" r="1.35" fill="#c3c3c8" />
<circle cx="128.44" cy="255.75" r="1.35" fill="#c3c3c8" />
<circle cx="129.31" cy="253.36" r="1.35" fill="#c3c3c8" />
<circle cx="138.70" cy="262.41" r="1.35" fill="#c3c3c8" />
<circle cx="138.23" cy="257.56" r="1.35" fill="#c3c3c8" />
<circle cx="137.53" cy="259.33" r="1.35" fill="#c3c3c8" />
<circle cx="130.86" cy="266.89" r="1.35" fill="#c3c3c8" />
<circle cx="138.40" cy="251.43" r="1.35" fill="#c3c3c8" />
<circle cx="134.56" cy="263.26" r="1.35" fill="#c3c3c8" />
<circle cx="130.39" cy="257.48" r="1.35" fill="#c3c3c8" />
<circle cx="129.56" cy="253.69" r="1.35" fill="#c3c3c8" />
<circle cx="130.80" cy="262.79" r="1.35" fill="#c3c3c8" />
<circle cx="135.17" cy="253.68" r="1.35" fill="#c3c3c8" />
<circle cx="128.13" cy="256.53" r="1.35" fill="#c3c3c8" />
<circle cx="135.46" cy="253.26" r="1.35" fill="#c3c3c8" />
<circle cx="131.43" cy="253.68" r="1.35" fill="#c3c3c8" />
<circle cx="136.75" cy="261.61" r="1.35" fill="#c3c3c8" />
<circle cx="128.70" cy="251.33" r="1.35" fill="#c3c3c8" />
<circle cx="132.35" cy="261.65" r="1.35" fill="#c3c3c8" />
<circle cx="135.03" cy="251.10" r="1.35" fill="#c3c3c8" />
<circle cx="129.80" cy="264.99" r="1.35" fill="#c3c3c8" />
<circle cx="132.51" cy="255.52" r="1.35" fill="#c3c3c8" />
<circle cx="131.38" cy="270.92" r="1.35" fill="#c3c3c8" />
<circle cx="131.44" cy="262.03" r="1.35" fill="#c3c3c8" />
<circle cx="131.93" cy="258.58" r="1.35" fill="#c3c3c8" />
<circle cx="137.51" cy="271.92" r="1.35" fill="#c3c3c8" />
<circle cx="132.00" cy="253.54" r="1.35" fill="#c3c3c8" />
<circle cx="136.01" cy="253.68" r="1.35" fill="#c3c3c8" />
<circle cx="128.06" cy="269.74" r="1.35" fill="#c3c3c8" />
<circle cx="132.66" cy="267.87" r="1.35" fill="#c3c3c8" />
<circle cx="132.47" cy="269.31" r="1.35" fill="#c3c3c8" />
<circle cx="133.07" cy="252.74" r="1.35" fill="#c3c3c8" />
<circle cx="128.16" cy="261.69" r="1.35" fill="#c3c3c8" />
<circle cx="135.05" cy="269.93" r="1.35" fill="#c3c3c8" />
<circle cx="128.98" cy="263.31" r="1.35" fill="#c3c3c8" />
<circle cx="132.08" cy="260.60" r="1.35" fill="#c3c3c8" />
<circle cx="129.60" cy="255.52" r="1.35" fill="#c3c3c8" />
<circle cx="133.73" cy="270.29" r="1.35" fill="#c3c3c8" />
<circle cx="129.20" cy="260.28" r="1.35" fill="#c3c3c8" />
<circle cx="136.85" cy="271.24" r="1.35" fill="#c3c3c8" />
<circle cx="130.17" cy="251.91" r="1.35" fill="#c3c3c8" />
<circle cx="138.37" cy="271.44" r="1.35" fill="#c3c3c8" />
<circle cx="133.31" cy="250.23" r="1.35" fill="#c3c3c8" />
<circle cx="138.19" cy="257.92" r="1.35" fill="#c3c3c8" />
<circle cx="137.95" cy="263.27" r="1.35" fill="#c3c3c8" />
<circle cx="137.07" cy="252.69" r="1.35" fill="#c3c3c8" />
<circle cx="136.64" cy="254.11" r="1.35" fill="#c3c3c8" />
<circle cx="132.45" cy="268.47" r="1.35" fill="#c3c3c8" />
<circle cx="137.12" cy="253.21" r="1.35" fill="#c3c3c8" />
<circle cx="130.40" cy="258.19" r="1.35" fill="#c3c3c8" />
<circle cx="133.70" cy="257.82" r="1.35" fill="#c3c3c8" />
<circle cx="129.35" cy="254.68" r="1.35" fill="#c3c3c8" />
<circle cx="135.97" cy="269.64" r="1.35" fill="#c3c3c8" />
<circle cx="128.45" cy="261.93" r="1.35" fill="#c3c3c8" />
<circle cx="136.33" cy="249.88" r="1.35" fill="#c3c3c8" />
<circle cx="137.22" cy="251.71" r="1.35" fill="#c3c3c8" />
<circle cx="134.59" cy="261.65" r="1.35" fill="#c3c3c8" />
<circle cx="134.90" cy="256.04" r="1.35" fill="#c3c3c8" />
<circle cx="132.62" cy="262.40" r="1.35" fill="#c3c3c8" />
<circle cx="132.68" cy="264.15" r="1.35" fill="#c3c3c8" />
<circle cx="132.91" cy="259.08" r="1.35" fill="#c3c3c8" />
<circle cx="128.26" cy="263.23" r="1.35" fill="#c3c3c8" />
<circle cx="133.38" cy="254.41" r="1.35" fill="#c3c3c8" />
<circle cx="136.40" cy="266.94" r="1.35" fill="#c3c3c8" />
<circle cx="133.04" cy="253.13" r="1.35" fill="#c3c3c8" />
<circle cx="133.21" cy="251.46" r="1.35" fill="#c3c3c8" />
<circle cx="129.41" cy="258.90" r="1.35" fill="#c3c3c8" />
<circle cx="129.01" cy="259.17" r="1.35" fill="#c3c3c8" />
<circle cx="133.61" cy="249.94" r="1.35" fill="#c3c3c8" />
<circle cx="135.00" cy="250.89" r="1.35" fill="#c3c3c8" />
<circle cx="136.07" cy="266.89" r="1.35" fill="#c3c3c8" />
<circle cx="133.63" cy="250.25" r="1.35" fill="#c3c3c8" />
<circle cx="133.54" cy="257.69" r="1.35" fill="#c3c3c8" />
<circle cx="138.46" cy="252.13" r="1.35" fill="#c3c3c8" />
<circle cx="137.43" cy="271.91" r="1.35" fill="#c3c3c8" />
<circle cx="136.05" cy="267.74" r="1.35" fill="#c3c3c8" />
<circle cx="130.13" cy="271.58" r="1.35" fill="#c3c3c8" />
<circle cx="133.41" cy="271.00" r="1.35" fill="#c3c3c8" />
<circle cx="138.08" cy="252.80" r="1.35" fill="#c3c3c8" />
<circle cx="136.67" cy="270.40" r="1.35" fill="#c3c3c8" />
<circle cx="131.26" cy="274.46" r="1.35" fill="#c3c3c8" />
<circle cx="134.02" cy="273.11" r="1.35" fill="#c3c3c8" />
<circle cx="134.59" cy="273.92" r="1.35" fill="#c3c3c8" />
<circle cx="134.26" cy="273.01" r="1.35" fill="#c3c3c8" />
<circle cx="133.01" cy="278.44" r="1.35" fill="#c3c3c8" />
<circle cx="131.83" cy="273.84" r="1.35" fill="#c3c3c8" />
<circle cx="133.02" cy="274.23" r="1.35" fill="#c3c3c8" />
<circle cx="131.15" cy="273.27" r="1.35" fill="#c3c3c8" />
<circle cx="131.64" cy="278.55" r="1.35" fill="#c3c3c8" />
<circle cx="133.72" cy="278.27" r="1.35" fill="#c3c3c8" />
<circle cx="180.41" cy="208.31" r="1.35" fill="#c3c3c8" />
<circle cx="178.53" cy="205.13" r="1.35" fill="#c3c3c8" />
<circle cx="196.77" cy="203.00" r="1.35" fill="#c3c3c8" />
<circle cx="205.05" cy="205.44" r="1.35" fill="#c3c3c8" />
<circle cx="194.80" cy="209.53" r="1.35" fill="#c3c3c8" />
<circle cx="178.16" cy="210.91" r="1.35" fill="#c3c3c8" />
<circle cx="196.54" cy="203.43" r="1.35" fill="#c3c3c8" />
<circle cx="202.42" cy="201.81" r="1.35" fill="#c3c3c8" />
<circle cx="209.17" cy="205.72" r="1.35" fill="#c3c3c8" />
<circle cx="187.11" cy="208.06" r="1.35" fill="#c3c3c8" />
<circle cx="189.98" cy="200.71" r="1.35" fill="#c3c3c8" />
<circle cx="200.53" cy="199.10" r="1.35" fill="#c3c3c8" />
<circle cx="203.19" cy="201.67" r="1.35" fill="#c3c3c8" />
<circle cx="196.87" cy="210.80" r="1.35" fill="#c3c3c8" />
<circle cx="195.01" cy="206.80" r="1.35" fill="#c3c3c8" />
<circle cx="185.44" cy="198.52" r="1.35" fill="#c3c3c8" />
<circle cx="175.68" cy="200.37" r="1.35" fill="#c3c3c8" />
<circle cx="196.06" cy="203.90" r="1.35" fill="#c3c3c8" />
<circle cx="192.44" cy="209.69" r="1.35" fill="#c3c3c8" />
<circle cx="179.12" cy="201.34" r="1.35" fill="#c3c3c8" />
<circle cx="197.36" cy="198.78" r="1.35" fill="#c3c3c8" />
<circle cx="174.59" cy="202.94" r="1.35" fill="#c3c3c8" />
<circle cx="178.22" cy="202.96" r="1.35" fill="#c3c3c8" />
<circle cx="182.35" cy="205.79" r="1.35" fill="#c3c3c8" />
<circle cx="195.12" cy="201.05" r="1.35" fill="#c3c3c8" />
<circle cx="196.34" cy="204.44" r="1.35" fill="#c3c3c8" />
<circle cx="179.22" cy="210.21" r="1.35" fill="#c3c3c8" />
<circle cx="183.03" cy="200.37" r="1.35" fill="#c3c3c8" />
<circle cx="177.85" cy="206.48" r="1.35" fill="#c3c3c8" />
<circle cx="204.99" cy="208.28" r="1.35" fill="#c3c3c8" />
<circle cx="188.57" cy="201.80" r="1.35" fill="#c3c3c8" />
<circle cx="174.90" cy="206.56" r="1.35" fill="#c3c3c8" />
<circle cx="194.18" cy="202.88" r="1.35" fill="#c3c3c8" />
<circle cx="197.10" cy="204.05" r="1.35" fill="#c3c3c8" />
<circle cx="207.30" cy="207.67" r="1.35" fill="#c3c3c8" />
<circle cx="183.20" cy="209.79" r="1.35" fill="#c3c3c8" />
<circle cx="176.04" cy="205.14" r="1.35" fill="#c3c3c8" />
<circle cx="188.71" cy="201.47" r="1.35" fill="#c3c3c8" />
<circle cx="176.54" cy="208.24" r="1.35" fill="#c3c3c8" />
<circle cx="174.93" cy="205.39" r="1.35" fill="#c3c3c8" />
<circle cx="207.43" cy="200.28" r="1.35" fill="#c3c3c8" />
<circle cx="181.48" cy="206.10" r="1.35" fill="#c3c3c8" />
<circle cx="192.24" cy="206.52" r="1.35" fill="#c3c3c8" />
<circle cx="202.97" cy="200.68" r="1.35" fill="#c3c3c8" />
<circle cx="185.33" cy="202.25" r="1.35" fill="#c3c3c8" />
<circle cx="176.20" cy="209.62" r="1.35" fill="#c3c3c8" />
<circle cx="201.90" cy="207.44" r="1.35" fill="#c3c3c8" />
<circle cx="174.72" cy="209.06" r="1.35" fill="#c3c3c8" />
<circle cx="200.58" cy="204.32" r="1.35" fill="#c3c3c8" />
<circle cx="200.46" cy="204.16" r="1.35" fill="#c3c3c8" />
<circle cx="182.41" cy="199.82" r="1.35" fill="#c3c3c8" />
<circle cx="182.63" cy="198.99" r="1.35" fill="#c3c3c8" />
<circle cx="186.24" cy="207.87" r="1.35" fill="#c3c3c8" />
<circle cx="198.83" cy="209.07" r="1.35" fill="#c3c3c8" />
<circle cx="199.41" cy="201.82" r="1.35" fill="#c3c3c8" />
<circle cx="193.88" cy="203.95" r="1.35" fill="#c3c3c8" />
<circle cx="202.10" cy="205.04" r="1.35" fill="#c3c3c8" />
<circle cx="183.79" cy="206.53" r="1.35" fill="#c3c3c8" />
<circle cx="208.28" cy="201.21" r="1.35" fill="#c3c3c8" />
<circle cx="205.30" cy="198.69" r="1.35" fill="#c3c3c8" />
<circle cx="183.61" cy="201.45" r="1.35" fill="#c3c3c8" />
<circle cx="200.54" cy="210.31" r="1.35" fill="#c3c3c8" />
<circle cx="200.62" cy="202.59" r="1.35" fill="#c3c3c8" />
<circle cx="205.31" cy="202.61" r="1.35" fill="#c3c3c8" />
<circle cx="182.87" cy="209.84" r="1.35" fill="#c3c3c8" />
<circle cx="196.57" cy="207.16" r="1.35" fill="#c3c3c8" />
<circle cx="197.78" cy="210.74" r="1.35" fill="#c3c3c8" />
<circle cx="190.93" cy="209.00" r="1.35" fill="#c3c3c8" />
<circle cx="198.92" cy="209.22" r="1.35" fill="#c3c3c8" />
<circle cx="189.80" cy="207.56" r="1.35" fill="#c3c3c8" />
<circle cx="194.46" cy="202.35" r="1.35" fill="#c3c3c8" />
<circle cx="181.92" cy="206.28" r="1.35" fill="#c3c3c8" />
<circle cx="177.22" cy="209.88" r="1.35" fill="#c3c3c8" />
<circle cx="179.56" cy="198.84" r="1.35" fill="#c3c3c8" />
<circle cx="178.23" cy="210.11" r="1.35" fill="#c3c3c8" />
<circle cx="186.57" cy="200.27" r="1.35" fill="#c3c3c8" />
<circle cx="175.51" cy="199.02" r="1.35" fill="#c3c3c8" />
<circle cx="198.74" cy="206.42" r="1.35" fill="#c3c3c8" />
<circle cx="198.90" cy="207.71" r="1.35" fill="#c3c3c8" />
<circle cx="176.80" cy="205.88" r="1.35" fill="#c3c3c8" />
<circle cx="187.22" cy="208.72" r="1.35" fill="#c3c3c8" />
<circle cx="203.18" cy="209.64" r="1.35" fill="#c3c3c8" />
<circle cx="176.81" cy="209.35" r="1.35" fill="#c3c3c8" />
<circle cx="206.50" cy="210.30" r="1.35" fill="#c3c3c8" />
<circle cx="178.25" cy="201.07" r="1.35" fill="#c3c3c8" />
<circle cx="178.42" cy="198.93" r="1.35" fill="#c3c3c8" />
<circle cx="204.17" cy="208.65" r="1.35" fill="#c3c3c8" />
<circle cx="196.70" cy="208.81" r="1.35" fill="#c3c3c8" />
<circle cx="196.60" cy="202.09" r="1.35" fill="#c3c3c8" />
<circle cx="178.00" cy="199.72" r="1.35" fill="#c3c3c8" />
<circle cx="201.01" cy="201.06" r="1.35" fill="#c3c3c8" />
<circle cx="185.67" cy="203.80" r="1.35" fill="#c3c3c8" />
<circle cx="175.23" cy="201.71" r="1.35" fill="#c3c3c8" />
<circle cx="184.39" cy="207.45" r="1.35" fill="#c3c3c8" />
<circle cx="187.38" cy="202.51" r="1.35" fill="#c3c3c8" />
<circle cx="208.24" cy="204.80" r="1.35" fill="#c3c3c8" />
<circle cx="204.30" cy="206.23" r="1.35" fill="#c3c3c8" />
<circle cx="175.58" cy="203.66" r="1.35" fill="#c3c3c8" />
<circle cx="189.78" cy="208.16" r="1.35" fill="#c3c3c8" />
<circle cx="186.64" cy="207.31" r="1.35" fill="#c3c3c8" />
<circle cx="193.33" cy="201.21" r="1.35" fill="#c3c3c8" />
<circle cx="204.68" cy="199.64" r="1.35" fill="#c3c3c8" />
<circle cx="203.19" cy="200.63" r="1.35" fill="#c3c3c8" />
<circle cx="174.55" cy="201.03" r="1.35" fill="#c3c3c8" />
<circle cx="201.18" cy="210.72" r="1.35" fill="#c3c3c8" />
<circle cx="174.65" cy="204.64" r="1.35" fill="#c3c3c8" />
<circle cx="191.70" cy="208.46" r="1.35" fill="#c3c3c8" />
<circle cx="180.96" cy="204.68" r="1.35" fill="#c3c3c8" />
<circle cx="186.65" cy="208.90" r="1.35" fill="#c3c3c8" />
<circle cx="183.62" cy="210.30" r="1.35" fill="#c3c3c8" />
<circle cx="184.43" cy="201.18" r="1.35" fill="#c3c3c8" />
<circle cx="198.98" cy="204.73" r="1.35" fill="#c3c3c8" />
<circle cx="178.35" cy="206.46" r="1.35" fill="#c3c3c8" />
<circle cx="177.33" cy="208.35" r="1.35" fill="#c3c3c8" />
<circle cx="198.90" cy="208.34" r="1.35" fill="#c3c3c8" />
<circle cx="196.48" cy="202.95" r="1.35" fill="#c3c3c8" />
<circle cx="188.54" cy="203.43" r="1.35" fill="#c3c3c8" />
<circle cx="205.66" cy="199.58" r="1.35" fill="#c3c3c8" />
<circle cx="205.60" cy="198.81" r="1.35" fill="#c3c3c8" />
<circle cx="181.71" cy="201.79" r="1.35" fill="#c3c3c8" />
<circle cx="206.04" cy="204.76" r="1.35" fill="#c3c3c8" />
<circle cx="187.78" cy="209.55" r="1.35" fill="#c3c3c8" />
<circle cx="182.68" cy="204.26" r="1.35" fill="#c3c3c8" />
<circle cx="193.10" cy="207.93" r="1.35" fill="#c3c3c8" />
<circle cx="200.85" cy="206.58" r="1.35" fill="#c3c3c8" />
<circle cx="186.70" cy="202.58" r="1.35" fill="#c3c3c8" />
<circle cx="179.94" cy="209.04" r="1.35" fill="#c3c3c8" />
<circle cx="197.67" cy="207.77" r="1.35" fill="#c3c3c8" />
<circle cx="180.43" cy="203.98" r="1.35" fill="#c3c3c8" />
<circle cx="201.57" cy="205.74" r="1.35" fill="#c3c3c8" />
<circle cx="188.76" cy="239.67" r="1.35" fill="#c3c3c8" />
<circle cx="196.35" cy="230.37" r="1.35" fill="#c3c3c8" />
<circle cx="189.42" cy="233.01" r="1.35" fill="#c3c3c8" />
<circle cx="194.53" cy="255.51" r="1.35" fill="#c3c3c8" />
<circle cx="189.05" cy="226.97" r="1.35" fill="#c3c3c8" />
<circle cx="189.98" cy="234.05" r="1.35" fill="#c3c3c8" />
<circle cx="192.72" cy="227.18" r="1.35" fill="#c3c3c8" />
<circle cx="190.78" cy="228.35" r="1.35" fill="#c3c3c8" />
<circle cx="197.25" cy="250.74" r="1.35" fill="#c3c3c8" />
<circle cx="188.52" cy="260.44" r="1.35" fill="#c3c3c8" />
<circle cx="188.52" cy="236.45" r="1.35" fill="#c3c3c8" />
<circle cx="197.34" cy="253.49" r="1.35" fill="#c3c3c8" />
<circle cx="194.83" cy="238.55" r="1.35" fill="#c3c3c8" />
<circle cx="189.46" cy="246.98" r="1.35" fill="#c3c3c8" />
<circle cx="188.57" cy="229.07" r="1.35" fill="#c3c3c8" />
<circle cx="191.38" cy="221.91" r="1.35" fill="#c3c3c8" />
<circle cx="191.49" cy="253.33" r="1.35" fill="#c3c3c8" />
<circle cx="194.43" cy="241.27" r="1.35" fill="#c3c3c8" />
<circle cx="193.82" cy="239.73" r="1.35" fill="#c3c3c8" />
<circle cx="188.92" cy="245.55" r="1.35" fill="#c3c3c8" />
<circle cx="191.55" cy="251.25" r="1.35" fill="#c3c3c8" />
<circle cx="196.58" cy="238.35" r="1.35" fill="#c3c3c8" />
<circle cx="193.24" cy="251.59" r="1.35" fill="#c3c3c8" />
<circle cx="191.71" cy="229.99" r="1.35" fill="#c3c3c8" />
<circle cx="194.72" cy="257.02" r="1.35" fill="#c3c3c8" />
<circle cx="195.24" cy="249.55" r="1.35" fill="#c3c3c8" />
<circle cx="196.02" cy="248.70" r="1.35" fill="#c3c3c8" />
<circle cx="193.92" cy="239.34" r="1.35" fill="#c3c3c8" />
<circle cx="190.63" cy="246.57" r="1.35" fill="#c3c3c8" />
<circle cx="188.48" cy="237.91" r="1.35" fill="#c3c3c8" />
<circle cx="195.32" cy="250.10" r="1.35" fill="#c3c3c8" />
<circle cx="193.80" cy="230.88" r="1.35" fill="#c3c3c8" />
<circle cx="191.74" cy="239.39" r="1.35" fill="#c3c3c8" />
<circle cx="193.72" cy="237.49" r="1.35" fill="#c3c3c8" />
<circle cx="194.25" cy="259.10" r="1.35" fill="#c3c3c8" />
<circle cx="189.33" cy="247.66" r="1.35" fill="#c3c3c8" />
<circle cx="195.28" cy="236.63" r="1.35" fill="#c3c3c8" />
<circle cx="192.40" cy="260.95" r="1.35" fill="#c3c3c8" />
<circle cx="187.88" cy="243.05" r="1.35" fill="#c3c3c8" />
<circle cx="189.11" cy="252.94" r="1.35" fill="#c3c3c8" />
<circle cx="196.91" cy="242.05" r="1.35" fill="#c3c3c8" />
<circle cx="188.51" cy="244.34" r="1.35" fill="#c3c3c8" />
<circle cx="192.91" cy="250.27" r="1.35" fill="#c3c3c8" />
<circle cx="192.62" cy="247.03" r="1.35" fill="#c3c3c8" />
<circle cx="195.79" cy="242.15" r="1.35" fill="#c3c3c8" />
<circle cx="191.60" cy="259.84" r="1.35" fill="#c3c3c8" />
<circle cx="189.60" cy="248.90" r="1.35" fill="#c3c3c8" />
<circle cx="191.42" cy="252.15" r="1.35" fill="#c3c3c8" />
<circle cx="188.72" cy="261.36" r="1.35" fill="#c3c3c8" />
<circle cx="191.05" cy="222.85" r="1.35" fill="#c3c3c8" />
<circle cx="190.24" cy="237.09" r="1.35" fill="#c3c3c8" />
<circle cx="187.63" cy="237.87" r="1.35" fill="#c3c3c8" />
<circle cx="191.71" cy="249.48" r="1.35" fill="#c3c3c8" />
<circle cx="191.02" cy="231.50" r="1.35" fill="#c3c3c8" />
<circle cx="189.74" cy="251.27" r="1.35" fill="#c3c3c8" />
<circle cx="196.90" cy="242.37" r="1.35" fill="#c3c3c8" />
<circle cx="189.69" cy="253.76" r="1.35" fill="#c3c3c8" />
<circle cx="191.42" cy="229.30" r="1.35" fill="#c3c3c8" />
<circle cx="188.79" cy="252.73" r="1.35" fill="#c3c3c8" />
<circle cx="195.60" cy="246.82" r="1.35" fill="#c3c3c8" />
<circle cx="192.19" cy="243.83" r="1.35" fill="#c3c3c8" />
<circle cx="189.76" cy="260.50" r="1.35" fill="#c3c3c8" />
<circle cx="191.03" cy="247.01" r="1.35" fill="#c3c3c8" />
<circle cx="195.69" cy="254.37" r="1.35" fill="#c3c3c8" />
<circle cx="192.18" cy="232.72" r="1.35" fill="#c3c3c8" />
<circle cx="192.98" cy="225.69" r="1.35" fill="#c3c3c8" />
<circle cx="195.84" cy="235.22" r="1.35" fill="#c3c3c8" />
<circle cx="196.01" cy="231.60" r="1.35" fill="#c3c3c8" />
<circle cx="191.26" cy="231.02" r="1.35" fill="#c3c3c8" />
<circle cx="191.76" cy="228.21" r="1.35" fill="#c3c3c8" />
<circle cx="187.53" cy="250.45" r="1.35" fill="#c3c3c8" />
<circle cx="190.31" cy="230.67" r="1.35" fill="#c3c3c8" />
<circle cx="190.52" cy="240.40" r="1.35" fill="#c3c3c8" />
<circle cx="191.78" cy="246.95" r="1.35" fill="#c3c3c8" />
<circle cx="194.09" cy="235.54" r="1.35" fill="#c3c3c8" />
<circle cx="196.79" cy="255.96" r="1.35" fill="#c3c3c8" />
<circle cx="188.07" cy="254.86" r="1.35" fill="#c3c3c8" />
<circle cx="196.56" cy="253.04" r="1.35" fill="#c3c3c8" />
<circle cx="188.90" cy="255.00" r="1.35" fill="#c3c3c8" />
<circle cx="193.83" cy="221.12" r="1.35" fill="#c3c3c8" />
<circle cx="187.61" cy="260.00" r="1.35" fill="#c3c3c8" />
<circle cx="194.06" cy="230.88" r="1.35" fill="#c3c3c8" />
<circle cx="188.52" cy="226.42" r="1.35" fill="#c3c3c8" />
<circle cx="189.84" cy="252.72" r="1.35" fill="#c3c3c8" />
<circle cx="190.96" cy="226.84" r="1.35" fill="#c3c3c8" />
<circle cx="196.54" cy="253.35" r="1.35" fill="#c3c3c8" />
<circle cx="189.18" cy="257.48" r="1.35" fill="#c3c3c8" />
<circle cx="193.58" cy="252.92" r="1.35" fill="#c3c3c8" />
<circle cx="194.18" cy="257.60" r="1.35" fill="#c3c3c8" />
<circle cx="195.38" cy="255.31" r="1.35" fill="#c3c3c8" />
<circle cx="189.47" cy="249.25" r="1.35" fill="#c3c3c8" />
<circle cx="192.81" cy="251.29" r="1.35" fill="#c3c3c8" />
<circle cx="191.89" cy="257.13" r="1.35" fill="#c3c3c8" />
<circle cx="193.05" cy="231.48" r="1.35" fill="#c3c3c8" />
<circle cx="189.84" cy="226.28" r="1.35" fill="#c3c3c8" />
<circle cx="192.43" cy="222.93" r="1.35" fill="#c3c3c8" />
<circle cx="192.17" cy="226.49" r="1.35" fill="#c3c3c8" />
<circle cx="192.41" cy="241.17" r="1.35" fill="#c3c3c8" />
<circle cx="192.90" cy="256.31" r="1.35" fill="#c3c3c8" />
<circle cx="187.57" cy="255.39" r="1.35" fill="#c3c3c8" />
<circle cx="192.18" cy="243.85" r="1.35" fill="#c3c3c8" />
<circle cx="194.15" cy="255.38" r="1.35" fill="#c3c3c8" />
<circle cx="191.25" cy="237.88" r="1.35" fill="#c3c3c8" />
<circle cx="197.11" cy="223.63" r="1.35" fill="#c3c3c8" />
<circle cx="193.87" cy="246.90" r="1.35" fill="#c3c3c8" />
<circle cx="187.79" cy="245.80" r="1.35" fill="#c3c3c8" />
<circle cx="194.33" cy="259.16" r="1.35" fill="#c3c3c8" />
<circle cx="190.80" cy="261.24" r="1.35" fill="#c3c3c8" />
<circle cx="192.61" cy="240.61" r="1.35" fill="#c3c3c8" />
<circle cx="196.48" cy="221.91" r="1.35" fill="#c3c3c8" />
<circle cx="194.68" cy="246.45" r="1.35" fill="#c3c3c8" />
<circle cx="190.89" cy="256.26" r="1.35" fill="#c3c3c8" />
<circle cx="191.16" cy="240.19" r="1.35" fill="#c3c3c8" />
<circle cx="192.76" cy="252.48" r="1.35" fill="#c3c3c8" />
<circle cx="189.61" cy="238.56" r="1.35" fill="#c3c3c8" />
<circle cx="191.72" cy="243.49" r="1.35" fill="#c3c3c8" />
<circle cx="195.77" cy="232.65" r="1.35" fill="#c3c3c8" />
<circle cx="195.78" cy="237.25" r="1.35" fill="#c3c3c8" />
<circle cx="192.54" cy="231.78" r="1.35" fill="#c3c3c8" />
<circle cx="192.56" cy="260.96" r="1.35" fill="#c3c3c8" />
<circle cx="194.05" cy="253.37" r="1.35" fill="#c3c3c8" />
<circle cx="190.81" cy="233.66" r="1.35" fill="#c3c3c8" />
<circle cx="190.49" cy="244.84" r="1.35" fill="#c3c3c8" />
<circle cx="193.85" cy="253.04" r="1.35" fill="#c3c3c8" />
<circle cx="187.90" cy="250.49" r="1.35" fill="#c3c3c8" />
<circle cx="196.36" cy="243.13" r="1.35" fill="#c3c3c8" />
<circle cx="188.00" cy="232.97" r="1.35" fill="#c3c3c8" />
<circle cx="187.56" cy="228.38" r="1.35" fill="#c3c3c8" />
<circle cx="196.71" cy="245.76" r="1.35" fill="#c3c3c8" />
<circle cx="194.08" cy="253.24" r="1.35" fill="#c3c3c8" />
<circle cx="194.87" cy="273.62" r="1.35" fill="#c3c3c8" />
<circle cx="192.82" cy="273.91" r="1.35" fill="#c3c3c8" />
<circle cx="193.37" cy="273.33" r="1.35" fill="#c3c3c8" />
<circle cx="193.27" cy="266.04" r="1.35" fill="#c3c3c8" />
<circle cx="193.17" cy="270.70" r="1.35" fill="#c3c3c8" />
<circle cx="193.84" cy="263.93" r="1.35" fill="#c3c3c8" />
<circle cx="189.77" cy="262.70" r="1.35" fill="#c3c3c8" />
<circle cx="193.92" cy="279.37" r="1.35" fill="#c3c3c8" />
<circle cx="193.09" cy="269.01" r="1.35" fill="#c3c3c8" />
<circle cx="194.26" cy="276.94" r="1.35" fill="#c3c3c8" />
<circle cx="192.43" cy="266.90" r="1.35" fill="#c3c3c8" />
<circle cx="190.61" cy="270.01" r="1.35" fill="#c3c3c8" />
<circle cx="190.73" cy="270.18" r="1.35" fill="#c3c3c8" />
<circle cx="192.99" cy="279.74" r="1.35" fill="#c3c3c8" />
<circle cx="188.88" cy="272.78" r="1.35" fill="#c3c3c8" />
<circle cx="188.78" cy="264.26" r="1.35" fill="#c3c3c8" />
<circle cx="194.17" cy="272.93" r="1.35" fill="#c3c3c8" />
<circle cx="194.93" cy="270.48" r="1.35" fill="#c3c3c8" />
<circle cx="188.60" cy="269.36" r="1.35" fill="#c3c3c8" />
<circle cx="192.64" cy="279.82" r="1.35" fill="#c3c3c8" />
<circle cx="195.37" cy="271.03" r="1.35" fill="#c3c3c8" />
<circle cx="191.39" cy="263.94" r="1.35" fill="#c3c3c8" />
<circle cx="193.01" cy="266.03" r="1.35" fill="#c3c3c8" />
<circle cx="189.56" cy="262.30" r="1.35" fill="#c3c3c8" />
<circle cx="188.53" cy="274.99" r="1.35" fill="#c3c3c8" />
<circle cx="189.35" cy="280.36" r="1.35" fill="#c3c3c8" />
<circle cx="189.12" cy="278.52" r="1.35" fill="#c3c3c8" />
<circle cx="189.40" cy="262.34" r="1.35" fill="#c3c3c8" />
<circle cx="193.54" cy="266.60" r="1.35" fill="#c3c3c8" />
<circle cx="193.63" cy="265.56" r="1.35" fill="#c3c3c8" />
<circle cx="188.85" cy="276.71" r="1.35" fill="#c3c3c8" />
<circle cx="193.49" cy="278.25" r="1.35" fill="#c3c3c8" />
<circle cx="193.61" cy="263.60" r="1.35" fill="#c3c3c8" />
<circle cx="192.90" cy="275.48" r="1.35" fill="#c3c3c8" />
<circle cx="191.72" cy="279.71" r="1.35" fill="#c3c3c8" />
<g stroke="#5a1f7a" stroke-width="1.1" fill="none">
<line x1="71.7" y1="213.2" x2="132.5" y2="300.8"/>
<line x1="71" y1="217.9" x2="132.5" y2="300.8"/>
<line x1="76.4" y1="218" x2="132.5" y2="300.8"/>
<line x1="73.7" y1="220.2" x2="132.5" y2="300.8"/>
<line x1="71" y1="225.9" x2="132.5" y2="300.8"/>
<line x1="76.4" y1="226.5" x2="132.5" y2="300.8"/>
<line x1="74" y1="214" x2="132.5" y2="300.8"/>
<line x1="72.5" y1="222.5" x2="132.5" y2="300.8"/>
<line x1="71.7" y1="213.2" x2="133.5" y2="301"/>
<line x1="71" y1="217.9" x2="133.5" y2="301"/>
<line x1="76.4" y1="218" x2="133.5" y2="301"/>
<line x1="73.7" y1="220.2" x2="133.5" y2="301"/>
<line x1="71" y1="225.9" x2="133.5" y2="301"/>
<line x1="76.4" y1="226.5" x2="133.5" y2="301"/>
<line x1="71.7" y1="213.2" x2="134" y2="241.1"/>
<line x1="76.4" y1="218" x2="132.5" y2="255.8"/>
<line x1="73.7" y1="220.2" x2="133.5" y2="265.4"/>
<line x1="71" y1="225.9" x2="133" y2="285.6"/>
<line x1="76.4" y1="226.5" x2="135" y2="285.6"/>
<line x1="71" y1="217.9" x2="132" y2="262"/>
<line x1="134" y1="241.1" x2="190.8" y2="300.8"/>
<line x1="132.5" y1="255.8" x2="190.8" y2="300.8"/>
<line x1="133.5" y1="265.4" x2="190.8" y2="300.8"/>
<line x1="133" y1="285.6" x2="190.8" y2="300.8"/>
<line x1="135" y1="285.6" x2="190.8" y2="300.8"/>
<line x1="132" y1="262" x2="190.8" y2="300.8"/>
<line x1="74" y1="214" x2="190.8" y2="300.8"/>
</g>
<circle cx="71.70" cy="213.20" r="1.5" fill="#5a1f7a" />
<circle cx="71.00" cy="217.90" r="1.5" fill="#5a1f7a" />
<circle cx="76.40" cy="218.00" r="1.5" fill="#5a1f7a" />
<circle cx="73.70" cy="220.20" r="1.5" fill="#5a1f7a" />
<circle cx="71.00" cy="225.90" r="1.5" fill="#5a1f7a" />
<circle cx="76.40" cy="226.50" r="1.5" fill="#5a1f7a" />
<circle cx="134.00" cy="241.10" r="1.5" fill="#5a1f7a" />
<circle cx="132.50" cy="255.80" r="1.5" fill="#5a1f7a" />
<circle cx="133.50" cy="265.40" r="1.5" fill="#5a1f7a" />
<circle cx="133.00" cy="285.60" r="1.5" fill="#5a1f7a" />
<circle cx="135.00" cy="285.60" r="1.5" fill="#5a1f7a" />
<g stroke="#3cb94a" stroke-width="1.1" fill="none">
<polyline points="70.2,208.9 131.5,214.8 187.8,207"/>
<polyline points="74.8,209 133.5,214.2 192.3,208"/>
<polyline points="77.9,208 135.5,215.2 197.2,207.5"/>
<polyline points="77.2,214 133,216 189.9,211"/>
</g>
<circle cx="70.20" cy="208.90" r="1.5" fill="#3cb94a" />
<circle cx="74.80" cy="209.00" r="1.5" fill="#3cb94a" />
<circle cx="77.90" cy="208.00" r="1.5" fill="#3cb94a" />
<circle cx="77.20" cy="214.00" r="1.5" fill="#3cb94a" />
<circle cx="187.80" cy="207.00" r="1.5" fill="#3cb94a" />
<circle cx="192.30" cy="208.00" r="1.5" fill="#3cb94a" />
<circle cx="197.20" cy="207.50" r="1.5" fill="#3cb94a" />
<circle cx="189.90" cy="211.00" r="1.5" fill="#3cb94a" />
<text x="48.00" y="199.10" font-size="7.3" fill="#222" stroke="#222" stroke-width="0.2" textLength="33.8" lengthAdjust="spacingAndGlyphs" >HIST1H1E</text>
<text x="49.00" y="222.80" font-size="7.3" fill="#222" stroke="#222" stroke-width="0.2" textLength="15.799999999999997" lengthAdjust="spacingAndGlyphs" >PIM1</text>
<text x="45.40" y="246.00" font-size="7.3" fill="#222" stroke="#222" stroke-width="0.2" textLength="34.6" lengthAdjust="spacingAndGlyphs" >HIST1H1D</text>
<text x="89.00" y="223.40" font-size="7.3" fill="#222" stroke="#222" stroke-width="0.2" textLength="25" lengthAdjust="spacingAndGlyphs" >MYD88</text>
<text x="131.70" y="201.00" font-size="7.3" fill="#222" stroke="#222" stroke-width="0.2" textLength="18.600000000000023" lengthAdjust="spacingAndGlyphs" >MLL2</text>
<text x="116.70" y="209.20" font-size="7.3" fill="#222" stroke="#222" stroke-width="0.2" textLength="16.60000000000001" lengthAdjust="spacingAndGlyphs" >MLL2</text>
<text x="135.60" y="222.10" font-size="7.3" fill="#222" stroke="#222" stroke-width="0.2" textLength="23.200000000000017" lengthAdjust="spacingAndGlyphs" >MEF2B</text>
<text x="146.50" y="252.20" font-size="7.3" fill="#222" stroke="#222" stroke-width="0.2" textLength="32.30000000000001" lengthAdjust="spacingAndGlyphs" >HIST1H1E</text>
<text x="81.30" y="285.50" font-size="7.3" fill="#222" stroke="#222" stroke-width="0.2" textLength="34.7" lengthAdjust="spacingAndGlyphs" >HIST1H1D</text>
<text x="104.40" y="298.20" font-size="7.3" fill="#222" stroke="#222" stroke-width="0.2" textLength="16.5" lengthAdjust="spacingAndGlyphs" >PIM1</text>
<text x="144.90" y="299.50" font-size="7.3" fill="#222" stroke="#222" stroke-width="0.2" textLength="15.5" lengthAdjust="spacingAndGlyphs" >PIM1</text>
<text x="170.00" y="206.30" font-size="7.3" fill="#222" stroke="#222" stroke-width="0.2" textLength="17.5" lengthAdjust="spacingAndGlyphs" >MLL2</text>
<text x="194.70" y="207.10" font-size="7.3" fill="#222" stroke="#222" stroke-width="0.2" textLength="23.5" lengthAdjust="spacingAndGlyphs" >MEF2B</text>
<text x="170.50" y="221.40" font-size="7.3" fill="#222" stroke="#222" stroke-width="0.2" textLength="17.80000000000001" lengthAdjust="spacingAndGlyphs" >MLL2</text>
<text x="195.50" y="218.80" font-size="7.3" fill="#222" stroke="#222" stroke-width="0.2" textLength="24.30000000000001" lengthAdjust="spacingAndGlyphs" >MYD88</text>
<text x="182.60" y="289.60" font-size="7.3" fill="#222" stroke="#222" stroke-width="0.2" textLength="33.099999999999994" lengthAdjust="spacingAndGlyphs" >HIST1H1E</text>
<text x="198.80" y="297.60" font-size="7.3" fill="#222" stroke="#222" stroke-width="0.2" textLength="29.69999999999999" lengthAdjust="spacingAndGlyphs" >HIST1H1D</text>
<line x1="58.60" y1="200.00" x2="73.30" y2="214.80" stroke="#222" stroke-width="0.6" />
<line x1="57.80" y1="238.00" x2="74.00" y2="220.20" stroke="#222" stroke-width="0.6" />
<line x1="114.50" y1="221.00" x2="133.00" y2="214.50" stroke="#222" stroke-width="0.6" />
<line x1="142.00" y1="203.00" x2="134.00" y2="214.50" stroke="#222" stroke-width="0.6" />
<line x1="150.00" y1="253.50" x2="133.50" y2="265.40" stroke="#222" stroke-width="0.6" />
<line x1="116.50" y1="283.20" x2="131.00" y2="285.60" stroke="#222" stroke-width="0.6" />
<line x1="121.50" y1="296.00" x2="131.50" y2="300.50" stroke="#222" stroke-width="0.6" />
<line x1="161.00" y1="297.00" x2="171.00" y2="298.50" stroke="#222" stroke-width="0.6" />
<line x1="188.00" y1="210.50" x2="190.00" y2="206.00" stroke="#222" stroke-width="0.6" />
<line x1="186.00" y1="290.50" x2="188.00" y2="299.00" stroke="#222" stroke-width="0.6" />
<line x1="198.00" y1="296.50" x2="192.50" y2="300.00" stroke="#222" stroke-width="0.6" />
<text x="277.30" y="15.60" font-size="11.5" font-weight="bold" fill="#000" >C</text>
<text x="383.50" y="16.20" font-size="9.6" text-anchor="middle" stroke="#231f20" stroke-width="0.2" textLength="87.5" lengthAdjust="spacingAndGlyphs" >Pretreatment ctDNA</text>
<text x="383.00" y="26.60" font-size="9.6" text-anchor="middle" stroke="#231f20" stroke-width="0.2" textLength="53.5" lengthAdjust="spacingAndGlyphs" >(log hGE/ml)</text>
<polygon points="295.6,86.3 295.60,20.25 296.90,20.25 296.90,21.11 298.20,21.11 298.20,22.23 299.50,22.23 299.50,23.02 300.80,23.02 300.80,23.17 302.10,23.17 302.10,23.33 303.40,23.33 303.40,23.49 304.70,23.49 304.70,23.81 306.00,23.81 306.00,24.53 307.30,24.53 307.30,25.18 308.60,25.18 308.60,25.35 309.90,25.35 309.90,25.51 311.20,25.51 311.20,25.66 312.50,25.66 312.50,25.88 313.80,25.88 313.80,26.34 315.10,26.34 315.10,26.45 316.40,26.45 316.40,26.55 317.70,26.55 317.70,26.66 319.00,26.66 319.00,26.77 320.30,26.77 320.30,27.09 321.60,27.09 321.60,27.48 322.90,27.48 322.90,27.87 324.20,27.87 324.20,28.03 325.50,28.03 325.50,28.07 326.80,28.07 326.80,28.12 328.10,28.12 328.10,28.16 329.40,28.16 329.40,28.23 330.70,28.23 330.70,28.92 332.00,28.92 332.00,29.38 333.30,29.38 333.30,29.62 334.60,29.62 334.60,29.78 335.90,29.78 335.90,29.94 337.20,29.94 337.20,30.51 338.50,30.51 338.50,30.85 339.80,30.85 339.80,31.14 341.10,31.14 341.10,31.43 342.40,31.43 342.40,31.73 343.70,31.73 343.70,32.63 345.00,32.63 345.00,32.90 346.30,32.90 346.30,33.02 347.60,33.02 347.60,33.14 348.90,33.14 348.90,33.26 350.20,33.26 350.20,33.78 351.50,33.78 351.50,34.34 352.80,34.34 352.80,34.66 354.10,34.66 354.10,34.99 355.40,34.99 355.40,35.12 356.70,35.12 356.70,35.25 358.00,35.25 358.00,35.38 359.30,35.38 359.30,35.51 360.60,35.51 360.60,35.90 361.90,35.90 361.90,36.07 363.20,36.07 363.20,36.18 364.50,36.18 364.50,36.28 365.80,36.28 365.80,36.38 367.10,36.38 367.10,36.48 368.40,36.48 368.40,36.66 369.70,36.66 369.70,36.85 371.00,36.85 371.00,37.05 372.30,37.05 372.30,37.14 373.60,37.14 373.60,37.18 374.90,37.18 374.90,37.23 376.20,37.23 376.20,37.28 377.50,37.28 377.50,37.33 378.80,37.33 378.80,37.38 380.10,37.38 380.10,37.45 381.40,37.45 381.40,37.54 382.70,37.54 382.70,37.62 384.00,37.62 384.00,37.71 385.30,37.71 385.30,37.80 386.60,37.80 386.60,38.05 387.90,38.05 387.90,38.23 389.20,38.23 389.20,38.31 390.50,38.31 390.50,38.39 391.80,38.39 391.80,38.47 393.10,38.47 393.10,38.52 394.40,38.52 394.40,38.56 395.70,38.56 395.70,38.60 397.00,38.60 397.00,38.63 398.30,38.63 398.30,38.67 399.60,38.67 399.60,38.73 400.90,38.73 400.90,38.91 402.20,38.91 402.20,39.17 403.50,39.17 403.50,39.43 404.80,39.43 404.80,39.69 406.10,39.69 406.10,39.84 407.40,39.84 407.40,39.90 408.70,39.90 408.70,39.97 410.00,39.97 410.00,40.03 411.30,40.03 411.30,40.10 412.60,40.10 412.60,40.14 413.90,40.14 413.90,40.19 415.20,40.19 415.20,40.23 416.50,40.23 416.50,40.27 417.80,40.27 417.80,40.45 419.10,40.45 419.10,40.87 420.40,40.87 420.40,41.29 421.70,41.29 421.70,41.66 423.00,41.66 423.00,41.88 424.30,41.88 424.30,42.09 425.60,42.09 425.60,42.31 426.90,42.31 426.90,42.53 428.20,42.53 428.20,42.74 429.50,42.74 429.50,42.96 430.80,42.96 430.80,43.18 432.10,43.18 432.10,43.54 433.40,43.54 433.40,43.92 434.70,43.92 434.70,44.29 436.00,44.29 436.00,44.63 437.30,44.63 437.30,44.97 438.60,44.97 438.60,45.31 439.90,45.31 439.90,45.78 441.20,45.78 441.20,46.43 442.50,46.43 442.50,47.75 443.80,47.75 443.80,50.18 445.10,50.18 445.10,51.11 446.40,51.11 446.40,52.04 447.70,52.04 447.70,53.08 449.00,53.08 449.00,54.12 450.30,54.12 450.30,54.99 451.60,54.99 451.60,55.80 452.90,55.80 452.90,56.60 454.20,56.60 454.20,57.41 455.50,57.41 455.50,86.3" fill="#205e93"/>
<g>
<rect x="296.90" y="21.11" width="1.30" height="65.19" fill="#2a6590" />
<rect x="299.50" y="23.02" width="1.30" height="63.28" fill="#2a6590" />
<rect x="302.10" y="23.33" width="1.30" height="62.97" fill="#2a6590" />
<rect x="304.70" y="23.81" width="1.30" height="62.49" fill="#2a6590" />
<rect x="307.30" y="25.18" width="1.30" height="61.12" fill="#2a6590" />
<rect x="309.90" y="25.51" width="1.30" height="60.79" fill="#2a6590" />
<rect x="312.50" y="25.88" width="1.30" height="60.42" fill="#2a6590" />
<rect x="315.10" y="26.45" width="1.30" height="59.85" fill="#2a6590" />
<rect x="317.70" y="26.66" width="1.30" height="59.64" fill="#2a6590" />
<rect x="320.30" y="27.09" width="1.30" height="59.21" fill="#2a6590" />
<rect x="322.90" y="27.87" width="1.30" height="58.43" fill="#2a6590" />
<rect x="325.50" y="28.07" width="1.30" height="58.23" fill="#2a6590" />
<rect x="328.10" y="28.16" width="1.30" height="58.14" fill="#2a6590" />
<rect x="330.70" y="28.92" width="1.30" height="57.38" fill="#2a6590" />
<rect x="333.30" y="29.62" width="1.30" height="56.68" fill="#2a6590" />
<rect x="335.90" y="29.94" width="1.30" height="56.36" fill="#2a6590" />
<rect x="338.50" y="30.85" width="1.30" height="55.45" fill="#2a6590" />
<rect x="341.10" y="31.43" width="1.30" height="54.87" fill="#2a6590" />
<rect x="343.70" y="32.63" width="1.30" height="53.67" fill="#2a6590" />
<rect x="346.30" y="33.02" width="1.30" height="53.28" fill="#2a6590" />
<rect x="348.90" y="33.26" width="1.30" height="53.04" fill="#2a6590" />
<rect x="351.50" y="34.34" width="1.30" height="51.96" fill="#2a6590" />
<rect x="354.10" y="34.99" width="1.30" height="51.31" fill="#2a6590" />
<rect x="356.70" y="35.25" width="1.30" height="51.05" fill="#2a6590" />
<rect x="359.30" y="35.51" width="1.30" height="50.79" fill="#2a6590" />
<rect x="361.90" y="36.07" width="1.30" height="50.23" fill="#2a6590" />
<rect x="364.50" y="36.28" width="1.30" height="50.02" fill="#2a6590" />
<rect x="367.10" y="36.48" width="1.30" height="49.82" fill="#2a6590" />
<rect x="369.70" y="36.85" width="1.30" height="49.45" fill="#2a6590" />
<rect x="372.30" y="37.14" width="1.30" height="49.16" fill="#2a6590" />
<rect x="374.90" y="37.23" width="1.30" height="49.07" fill="#2a6590" />
<rect x="377.50" y="37.33" width="1.30" height="48.97" fill="#2a6590" />
<rect x="380.10" y="37.45" width="1.30" height="48.85" fill="#2a6590" />
<rect x="382.70" y="37.62" width="1.30" height="48.68" fill="#2a6590" />
<rect x="385.30" y="37.80" width="1.30" height="48.50" fill="#2a6590" />
<rect x="387.90" y="38.23" width="1.30" height="48.07" fill="#2a6590" />
<rect x="390.50" y="38.39" width="1.30" height="47.91" fill="#2a6590" />
<rect x="393.10" y="38.52" width="1.30" height="47.78" fill="#2a6590" />
<rect x="395.70" y="38.60" width="1.30" height="47.70" fill="#2a6590" />
<rect x="398.30" y="38.67" width="1.30" height="47.63" fill="#2a6590" />
<rect x="400.90" y="38.91" width="1.30" height="47.39" fill="#2a6590" />
<rect x="403.50" y="39.43" width="1.30" height="46.87" fill="#2a6590" />
<rect x="406.10" y="39.84" width="1.30" height="46.46" fill="#2a6590" />
<rect x="408.70" y="39.97" width="1.30" height="46.33" fill="#2a6590" />
<rect x="411.30" y="40.10" width="1.30" height="46.20" fill="#2a6590" />
<rect x="413.90" y="40.19" width="1.30" height="46.11" fill="#2a6590" />
<rect x="416.50" y="40.27" width="1.30" height="46.03" fill="#2a6590" />
<rect x="419.10" y="40.87" width="1.30" height="45.43" fill="#2a6590" />
<rect x="421.70" y="41.66" width="1.30" height="44.64" fill="#2a6590" />
<rect x="424.30" y="42.09" width="1.30" height="44.21" fill="#2a6590" />
<rect x="426.90" y="42.53" width="1.30" height="43.77" fill="#2a6590" />
<rect x="429.50" y="42.96" width="1.30" height="43.34" fill="#2a6590" />
<rect x="432.10" y="43.54" width="1.30" height="42.76" fill="#2a6590" />
<rect x="434.70" y="44.29" width="1.30" height="42.01" fill="#2a6590" />
<rect x="437.30" y="44.97" width="1.30" height="41.33" fill="#2a6590" />
<rect x="439.90" y="45.78" width="1.30" height="40.52" fill="#2a6590" />
<rect x="442.50" y="47.75" width="1.30" height="38.55" fill="#2a6590" />
<rect x="445.10" y="51.11" width="1.30" height="35.19" fill="#2a6590" />
<rect x="447.70" y="53.08" width="1.30" height="33.22" fill="#2a6590" />
<rect x="450.30" y="54.99" width="1.30" height="31.31" fill="#2a6590" />
<rect x="452.90" y="56.60" width="1.30" height="29.70" fill="#2a6590" />
<rect x="304.80" y="24.11" width="2.10" height="62.19" fill="#fcc22a" />
<rect x="330.10" y="28.80" width="1.80" height="57.50" fill="#fcc22a" />
<rect x="350.00" y="33.75" width="1.60" height="52.55" fill="#fcc22a" />
<rect x="361.60" y="36.20" width="5.10" height="50.10" fill="#fcc22a" />
<rect x="368.10" y="36.82" width="4.00" height="49.48" fill="#fcc22a" />
<rect x="378.20" y="37.36" width="1.70" height="48.94" fill="#fcc22a" />
<rect x="386.60" y="38.08" width="1.60" height="48.22" fill="#fcc22a" />
<rect x="391.50" y="38.46" width="1.60" height="47.84" fill="#fcc22a" />
<rect x="399.80" y="38.79" width="1.70" height="47.51" fill="#fcc22a" />
<rect x="418.10" y="40.95" width="3.80" height="45.35" fill="#fcc22a" />
<rect x="431.60" y="43.71" width="3.50" height="42.59" fill="#fcc22a" />
<rect x="308.50" y="25.36" width="1.70" height="60.94" fill="#dc1c36" />
<rect x="311.80" y="25.75" width="1.60" height="60.55" fill="#dc1c36" />
<rect x="321.80" y="27.57" width="1.50" height="58.73" fill="#dc1c36" />
<rect x="353.20" y="34.80" width="1.60" height="51.50" fill="#dc1c36" />
<rect x="343.00" y="31.25" width="1.60" height="55.05" fill="#fff" />
<rect x="359.90" y="34.75" width="1.70" height="51.55" fill="#fff" />
</g>
<rect x="455.00" y="70.00" width="1.60" height="16.30" fill="#fcc22a" />
<rect x="456.60" y="73.60" width="1.10" height="12.70" fill="#205e93" />
<rect x="457.70" y="73.60" width="2.10" height="12.70" fill="#fcc22a" />
<rect x="459.80" y="73.60" width="1.40" height="12.70" fill="#205e93" />
<line x1="295.20" y1="17.00" x2="295.20" y2="87.00" stroke="#000" stroke-width="1.1" />
<line x1="294.60" y1="86.60" x2="461.50" y2="86.60" stroke="#000" stroke-width="1.1" />
<line x1="292.30" y1="27.50" x2="295.20" y2="27.50" stroke="#000" stroke-width="0.9" />
<text x="289.30" y="30.90" font-size="9.6" text-anchor="end" stroke="#231f20" stroke-width="0.2" textLength="4.4" lengthAdjust="spacingAndGlyphs" >4</text>
<line x1="292.30" y1="44.60" x2="295.20" y2="44.60" stroke="#000" stroke-width="0.9" />
<text x="289.30" y="48.00" font-size="9.6" text-anchor="end" stroke="#231f20" stroke-width="0.2" textLength="4.4" lengthAdjust="spacingAndGlyphs" >2</text>
<line x1="292.30" y1="61.20" x2="295.20" y2="61.20" stroke="#000" stroke-width="0.9" />
<text x="289.30" y="64.60" font-size="9.6" text-anchor="end" stroke="#231f20" stroke-width="0.2" textLength="4.4" lengthAdjust="spacingAndGlyphs" >0</text>
<line x1="292.30" y1="74.00" x2="295.20" y2="74.00" stroke="#000" stroke-width="0.9" />
<text x="289.30" y="77.40" font-size="9.6" text-anchor="end" stroke="#231f20" stroke-width="0.2" textLength="11.4" lengthAdjust="spacingAndGlyphs" >ND</text>
<line x1="295.50" y1="74.00" x2="461.50" y2="74.00" stroke="#111" stroke-width="1.1" stroke-dasharray="1.6 1.4"/>
<g>
<rect x="295.00" y="89.10" width="2.00" height="11.60" fill="#ffedA0" />
<rect x="296.40" y="89.10" width="2.30" height="11.60" fill="#d7191c" />
<rect x="298.10" y="89.10" width="4.10" height="11.60" fill="#ffedA0" />
<rect x="301.60" y="89.10" width="9.00" height="11.60" fill="#d7191c" />
<rect x="310.00" y="89.10" width="2.40" height="11.60" fill="#ffedA0" />
<rect x="311.80" y="89.10" width="8.60" height="11.60" fill="#d7191c" />
<rect x="319.80" y="89.10" width="3.70" height="11.60" fill="#ffedA0" />
<rect x="322.90" y="89.10" width="2.70" height="11.60" fill="#d7191c" />
<rect x="325.00" y="89.10" width="5.70" height="11.60" fill="#fed98e" />
<rect x="330.10" y="89.10" width="3.50" height="11.60" fill="#d7191c" />
<rect x="333.00" y="89.10" width="5.80" height="11.60" fill="#fed98e" />
<rect x="338.20" y="89.10" width="2.50" height="11.60" fill="#d7191c" />
<rect x="340.10" y="89.10" width="2.10" height="11.60" fill="#ffedA0" />
<rect x="341.60" y="89.10" width="2.30" height="11.60" fill="#d7191c" />
<rect x="343.30" y="89.10" width="12.10" height="11.60" fill="#fed98e" />
<rect x="354.80" y="89.10" width="7.40" height="11.60" fill="#d7191c" />
<rect x="361.60" y="89.10" width="1.40" height="11.60" fill="#ffedA0" />
<rect x="362.40" y="89.10" width="8.10" height="11.60" fill="#fed98e" />
<rect x="369.90" y="89.10" width="2.20" height="11.60" fill="#d7191c" />
<rect x="371.50" y="89.10" width="2.30" height="11.60" fill="#ffedA0" />
<rect x="373.20" y="89.10" width="2.20" height="11.60" fill="#d7191c" />
<rect x="374.80" y="89.10" width="2.70" height="11.60" fill="#ffedA0" />
<rect x="376.90" y="89.10" width="3.60" height="11.60" fill="#d7191c" />
<rect x="379.90" y="89.10" width="2.30" height="11.60" fill="#ffedA0" />
<rect x="381.60" y="89.10" width="2.40" height="11.60" fill="#d7191c" />
<rect x="383.40" y="89.10" width="4.00" height="11.60" fill="#ffedA0" />
<rect x="386.80" y="89.10" width="2.00" height="11.60" fill="#d7191c" />
<rect x="388.20" y="89.10" width="4.20" height="11.60" fill="#ffedA0" />
<rect x="391.80" y="89.10" width="1.90" height="11.60" fill="#d7191c" />
<rect x="393.10" y="89.10" width="4.30" height="11.60" fill="#ffedA0" />
<rect x="396.80" y="89.10" width="2.00" height="11.60" fill="#d7191c" />
<rect x="398.20" y="89.10" width="2.50" height="11.60" fill="#ffedA0" />
<rect x="400.10" y="89.10" width="2.40" height="11.60" fill="#d7191c" />
<rect x="401.90" y="89.10" width="5.60" height="11.60" fill="#fed98e" />
<rect x="406.90" y="89.10" width="1.90" height="11.60" fill="#d7191c" />
<rect x="408.20" y="89.10" width="2.20" height="11.60" fill="#ffedA0" />
<rect x="409.80" y="89.10" width="2.40" height="11.60" fill="#d7191c" />
<rect x="411.60" y="89.10" width="3.80" height="11.60" fill="#ffedA0" />
<rect x="414.80" y="89.10" width="5.80" height="11.60" fill="#d7191c" />
<rect x="420.00" y="89.10" width="3.80" height="11.60" fill="#fed98e" />
<rect x="423.20" y="89.10" width="3.90" height="11.60" fill="#abd9e9" />
<rect x="426.50" y="89.10" width="4.00" height="11.60" fill="#fed98e" />
<rect x="429.90" y="89.10" width="4.20" height="11.60" fill="#d7191c" />
<rect x="433.50" y="89.10" width="2.20" height="11.60" fill="#ffedA0" />
<rect x="435.10" y="89.10" width="3.60" height="11.60" fill="#abd9e9" />
<rect x="438.10" y="89.10" width="2.40" height="11.60" fill="#fed98e" />
<rect x="439.90" y="89.10" width="2.20" height="11.60" fill="#2c7bb6" />
<rect x="441.50" y="89.10" width="2.30" height="11.60" fill="#ffedA0" />
<rect x="443.20" y="89.10" width="2.20" height="11.60" fill="#abd9e9" />
<rect x="444.80" y="89.10" width="2.20" height="11.60" fill="#ffedA0" />
<rect x="446.40" y="89.10" width="2.20" height="11.60" fill="#2c7bb6" />
<rect x="448.00" y="89.10" width="2.20" height="11.60" fill="#ffedA0" />
<rect x="449.60" y="89.10" width="2.80" height="11.60" fill="#d7191c" />
<rect x="451.80" y="89.10" width="2.20" height="11.60" fill="#ffedA0" />
<rect x="453.40" y="89.10" width="2.20" height="11.60" fill="#abd9e9" />
<rect x="455.00" y="89.10" width="2.20" height="11.60" fill="#ffedA0" />
<rect x="456.60" y="89.10" width="2.20" height="11.60" fill="#2c7bb6" />
<rect x="458.20" y="89.10" width="2.20" height="11.60" fill="#fed98e" />
<rect x="459.80" y="89.10" width="2.00" height="11.60" fill="#d7191c" />
<rect x="295.00" y="103.09" width="4.40" height="11.60" fill="#fed98e" />
<rect x="298.80" y="103.09" width="6.60" height="11.60" fill="#ffffbf" />
<rect x="304.80" y="103.09" width="2.50" height="11.60" fill="#fc8d59" />
<rect x="306.70" y="103.09" width="4.10" height="11.60" fill="#ffffbf" />
<rect x="310.20" y="103.09" width="3.20" height="11.60" fill="#e0f3f8" />
<rect x="312.80" y="103.09" width="2.80" height="11.60" fill="#d7191c" />
<rect x="315.00" y="103.09" width="3.80" height="11.60" fill="#fc8d59" />
<rect x="318.20" y="103.09" width="2.50" height="11.60" fill="#d7191c" />
<rect x="320.10" y="103.09" width="6.80" height="11.60" fill="#fed98e" />
<rect x="326.30" y="103.09" width="2.80" height="11.60" fill="#e0f3f8" />
<rect x="328.50" y="103.09" width="2.20" height="11.60" fill="#ffffbf" />
<rect x="330.10" y="103.09" width="2.40" height="11.60" fill="#fc8d59" />
<rect x="331.90" y="103.09" width="3.60" height="11.60" fill="#fed98e" />
<rect x="334.90" y="103.09" width="3.90" height="11.60" fill="#e0f3f8" />
<rect x="338.20" y="103.09" width="3.80" height="11.60" fill="#ffffbf" />
<rect x="341.40" y="103.09" width="6.00" height="11.60" fill="#fed98e" />
<rect x="346.80" y="103.09" width="2.20" height="11.60" fill="#fc8d59" />
<rect x="348.40" y="103.09" width="2.20" height="11.60" fill="#ffffbf" />
<rect x="350.00" y="103.09" width="2.20" height="11.60" fill="#fed98e" />
<rect x="351.60" y="103.09" width="1.70" height="11.60" fill="#ffffbf" />
<rect x="352.70" y="103.09" width="6.00" height="11.60" fill="#fed98e" />
<rect x="358.10" y="103.09" width="2.20" height="11.60" fill="#d7191c" />
<rect x="359.70" y="103.09" width="2.20" height="11.60" fill="#fc8d59" />
<rect x="361.30" y="103.09" width="2.80" height="11.60" fill="#ffffbf" />
<rect x="363.50" y="103.09" width="2.20" height="11.60" fill="#e0f3f8" />
<rect x="365.10" y="103.09" width="2.20" height="11.60" fill="#ffffbf" />
<rect x="366.70" y="103.09" width="2.20" height="11.60" fill="#e0f3f8" />
<rect x="368.30" y="103.09" width="4.40" height="11.60" fill="#ffffbf" />
<rect x="372.10" y="103.09" width="6.50" height="11.60" fill="#fed98e" />
<rect x="378.00" y="103.09" width="2.20" height="11.60" fill="#fc8d59" />
<rect x="379.60" y="103.09" width="2.20" height="11.60" fill="#ffffbf" />
<rect x="381.20" y="103.09" width="2.20" height="11.60" fill="#e0f3f8" />
<rect x="382.80" y="103.09" width="2.30" height="11.60" fill="#ffffbf" />
<rect x="384.50" y="103.09" width="2.70" height="11.60" fill="#e0f3f8" />
<rect x="386.60" y="103.09" width="2.20" height="11.60" fill="#fc8d59" />
<rect x="388.20" y="103.09" width="2.80" height="11.60" fill="#ffffbf" />
<rect x="390.40" y="103.09" width="2.20" height="11.60" fill="#e0f3f8" />
<rect x="392.00" y="103.09" width="2.20" height="11.60" fill="#fc8d59" />
<rect x="393.60" y="103.09" width="6.50" height="11.60" fill="#fed98e" />
<rect x="399.50" y="103.09" width="1.70" height="11.60" fill="#e0f3f8" />
<rect x="400.60" y="103.09" width="3.30" height="11.60" fill="#fc8d59" />
<rect x="403.30" y="103.09" width="5.50" height="11.60" fill="#ffffbf" />
<rect x="408.20" y="103.09" width="2.50" height="11.60" fill="#e0f3f8" />
<rect x="410.10" y="103.09" width="2.40" height="11.60" fill="#ffffbf" />
<rect x="411.90" y="103.09" width="8.70" height="11.60" fill="#fed98e" />
<rect x="420.00" y="103.09" width="2.20" height="11.60" fill="#e0f3f8" />
<rect x="421.60" y="103.09" width="3.80" height="11.60" fill="#ffffbf" />
<rect x="424.80" y="103.09" width="2.30" height="11.60" fill="#e0f3f8" />
<rect x="426.50" y="103.09" width="2.20" height="11.60" fill="#ffffbf" />
<rect x="428.10" y="103.09" width="2.40" height="11.60" fill="#e0f3f8" />
<rect x="429.90" y="103.09" width="2.50" height="11.60" fill="#fc8d59" />
<rect x="431.80" y="103.09" width="2.30" height="11.60" fill="#fed98e" />
<rect x="433.50" y="103.09" width="3.80" height="11.60" fill="#e0f3f8" />
<rect x="436.70" y="103.09" width="2.00" height="11.60" fill="#74add1" />
<rect x="438.10" y="103.09" width="9.40" height="11.60" fill="#e0f3f8" />
<rect x="446.90" y="103.09" width="1.90" height="11.60" fill="#74add1" />
<rect x="448.20" y="103.09" width="4.20" height="11.60" fill="#fed98e" />
<rect x="451.80" y="103.09" width="5.40" height="11.60" fill="#e0f3f8" />
<rect x="456.60" y="103.09" width="2.20" height="11.60" fill="#2c7bb6" />
<rect x="458.20" y="103.09" width="2.20" height="11.60" fill="#fed98e" />
<rect x="459.80" y="103.09" width="2.00" height="11.60" fill="#fc8d59" />
<rect x="295.00" y="117.08" width="3.70" height="11.60" fill="#d6604d" />
<rect x="298.10" y="117.08" width="2.40" height="11.60" fill="#f4f2f2" />
<rect x="299.90" y="117.08" width="2.20" height="11.60" fill="#f6d3cc" />
<rect x="301.50" y="117.08" width="3.90" height="11.60" fill="#eaa3a0" />
<rect x="304.80" y="117.08" width="3.80" height="11.60" fill="#d6604d" />
<rect x="308.00" y="117.08" width="3.80" height="11.60" fill="#f6d3cc" />
<rect x="311.20" y="117.08" width="2.80" height="11.60" fill="#d5dff0" />
<rect x="313.40" y="117.08" width="3.80" height="11.60" fill="#b2182b" />
<rect x="316.60" y="117.08" width="1.90" height="11.60" fill="#f4f2f2" />
<rect x="317.90" y="117.08" width="2.50" height="11.60" fill="#b2182b" />
<rect x="319.80" y="117.08" width="2.60" height="11.60" fill="#f4f2f2" />
<rect x="321.80" y="117.08" width="3.80" height="11.60" fill="#d6604d" />
<rect x="325.00" y="117.08" width="2.40" height="11.60" fill="#4a78c0" />
<rect x="326.80" y="117.08" width="2.30" height="11.60" fill="#f6d3cc" />
<rect x="328.50" y="117.08" width="2.20" height="11.60" fill="#d5dff0" />
<rect x="330.10" y="117.08" width="2.20" height="11.60" fill="#d6604d" />
<rect x="331.70" y="117.08" width="2.20" height="11.60" fill="#f4f2f2" />
<rect x="333.30" y="117.08" width="2.20" height="11.60" fill="#93acd8" />
<rect x="334.90" y="117.08" width="2.80" height="11.60" fill="#d5dff0" />
<rect x="337.10" y="117.08" width="2.20" height="11.60" fill="#eaa3a0" />
<rect x="338.70" y="117.08" width="2.20" height="11.60" fill="#d6604d" />
<rect x="340.30" y="117.08" width="2.80" height="11.60" fill="#f6d3cc" />
<rect x="342.50" y="117.08" width="2.70" height="11.60" fill="#93acd8" />
<rect x="344.60" y="117.08" width="2.80" height="11.60" fill="#f6d3cc" />
<rect x="346.80" y="117.08" width="2.20" height="11.60" fill="#b2182b" />
<rect x="348.40" y="117.08" width="2.20" height="11.60" fill="#4a78c0" />
<rect x="350.00" y="117.08" width="2.20" height="11.60" fill="#b2182b" />
<rect x="351.60" y="117.08" width="1.70" height="11.60" fill="#f4f2f2" />
<rect x="352.70" y="117.08" width="2.70" height="11.60" fill="#93acd8" />
<rect x="354.80" y="117.08" width="2.30" height="11.60" fill="#eaa3a0" />
<rect x="356.50" y="117.08" width="2.20" height="11.60" fill="#f4f2f2" />
<rect x="358.10" y="117.08" width="2.20" height="11.60" fill="#d6604d" />
<rect x="359.70" y="117.08" width="3.80" height="11.60" fill="#d5dff0" />
<rect x="362.90" y="117.08" width="2.80" height="11.60" fill="#f4f2f2" />
<rect x="365.10" y="117.08" width="2.70" height="11.60" fill="#d5dff0" />
<rect x="367.20" y="117.08" width="3.30" height="11.60" fill="#f4f2f2" />
<rect x="369.90" y="117.08" width="2.20" height="11.60" fill="#d5dff0" />
<rect x="371.50" y="117.08" width="2.30" height="11.60" fill="#d6604d" />
<rect x="373.20" y="117.08" width="3.80" height="11.60" fill="#f4f2f2" />
<rect x="376.40" y="117.08" width="2.40" height="11.60" fill="#2a62ad" />
<rect x="378.20" y="117.08" width="2.60" height="11.60" fill="#f6d3cc" />
<rect x="380.20" y="117.08" width="2.70" height="11.60" fill="#eaa3a0" />
<rect x="382.30" y="117.08" width="2.80" height="11.60" fill="#f6d3cc" />
<rect x="384.50" y="117.08" width="2.70" height="11.60" fill="#f4f2f2" />
<rect x="386.60" y="117.08" width="3.80" height="11.60" fill="#d6604d" />
<rect x="389.80" y="117.08" width="2.30" height="11.60" fill="#f4f2f2" />
<rect x="391.50" y="117.08" width="2.20" height="11.60" fill="#2a62ad" />
<rect x="393.10" y="117.08" width="2.20" height="11.60" fill="#f6d3cc" />
<rect x="394.70" y="117.08" width="2.70" height="11.60" fill="#d6604d" />
<rect x="396.80" y="117.08" width="3.30" height="11.60" fill="#f4f2f2" />
<rect x="399.50" y="117.08" width="2.30" height="11.60" fill="#4a78c0" />
<rect x="401.20" y="117.08" width="2.20" height="11.60" fill="#b2182b" />
<rect x="402.80" y="117.08" width="2.20" height="11.60" fill="#4a78c0" />
<rect x="404.40" y="117.08" width="2.20" height="11.60" fill="#eaa3a0" />
<rect x="406.00" y="117.08" width="2.80" height="11.60" fill="#d5dff0" />
<rect x="408.20" y="117.08" width="1.60" height="11.60" fill="#f4f2f2" />
<rect x="409.20" y="117.08" width="2.20" height="11.60" fill="#eaa3a0" />
<rect x="410.80" y="117.08" width="1.70" height="11.60" fill="#f4f2f2" />
<rect x="411.90" y="117.08" width="3.30" height="11.60" fill="#b2182b" />
<rect x="414.60" y="117.08" width="2.80" height="11.60" fill="#f6d3cc" />
<rect x="416.80" y="117.08" width="3.80" height="11.60" fill="#4a78c0" />
<rect x="420.00" y="117.08" width="3.80" height="11.60" fill="#d5dff0" />
<rect x="423.20" y="117.08" width="3.90" height="11.60" fill="#eaa3a0" />
<rect x="426.50" y="117.08" width="3.80" height="11.60" fill="#f4f2f2" />
<rect x="429.70" y="117.08" width="3.30" height="11.60" fill="#d6604d" />
<rect x="432.40" y="117.08" width="2.70" height="11.60" fill="#4a78c0" />
<rect x="434.50" y="117.08" width="2.80" height="11.60" fill="#f6d3cc" />
<rect x="436.70" y="117.08" width="3.30" height="11.60" fill="#f4f2f2" />
<rect x="439.40" y="117.08" width="2.70" height="11.60" fill="#eaa3a0" />
<rect x="441.50" y="117.08" width="2.80" height="11.60" fill="#f4f2f2" />
<rect x="443.70" y="117.08" width="3.30" height="11.60" fill="#d5dff0" />
<rect x="446.40" y="117.08" width="2.70" height="11.60" fill="#d6604d" />
<rect x="448.50" y="117.08" width="2.30" height="11.60" fill="#f4f2f2" />
<rect x="450.20" y="117.08" width="2.20" height="11.60" fill="#eaa3a0" />
<rect x="451.80" y="117.08" width="2.20" height="11.60" fill="#f6d3cc" />
<rect x="453.40" y="117.08" width="2.70" height="11.60" fill="#f4f2f2" />
<rect x="455.50" y="117.08" width="2.80" height="11.60" fill="#f6d3cc" />
<rect x="457.70" y="117.08" width="4.10" height="11.60" fill="#b2182b" />
<rect x="295.00" y="131.07" width="17.40" height="11.60" fill="#e31a1c" />
<rect x="311.80" y="131.07" width="2.20" height="11.60" fill="#fed976" />
<rect x="313.40" y="131.07" width="22.10" height="11.60" fill="#e31a1c" />
<rect x="334.90" y="131.07" width="2.20" height="11.60" fill="#fed976" />
<rect x="336.50" y="131.07" width="2.30" height="11.60" fill="#e31a1c" />
<rect x="338.20" y="131.07" width="2.20" height="11.60" fill="#fed976" />
<rect x="339.80" y="131.07" width="27.50" height="11.60" fill="#e31a1c" />
<rect x="366.70" y="131.07" width="2.00" height="11.60" fill="#fed976" />
<rect x="368.10" y="131.07" width="2.40" height="11.60" fill="#e31a1c" />
<rect x="369.90" y="131.07" width="2.20" height="11.60" fill="#fed976" />
<rect x="371.50" y="131.07" width="9.30" height="11.60" fill="#e31a1c" />
<rect x="380.20" y="131.07" width="3.20" height="11.60" fill="#fed976" />
<rect x="382.80" y="131.07" width="7.60" height="11.60" fill="#e31a1c" />
<rect x="389.80" y="131.07" width="2.60" height="11.60" fill="#fed976" />
<rect x="391.80" y="131.07" width="17.00" height="11.60" fill="#e31a1c" />
<rect x="408.20" y="131.07" width="3.80" height="11.60" fill="#fed976" />
<rect x="411.40" y="131.07" width="9.20" height="11.60" fill="#e31a1c" />
<rect x="420.00" y="131.07" width="2.20" height="11.60" fill="#fed976" />
<rect x="421.60" y="131.07" width="3.80" height="11.60" fill="#e31a1c" />
<rect x="424.80" y="131.07" width="2.80" height="11.60" fill="#abd9e9" />
<rect x="427.00" y="131.07" width="5.40" height="11.60" fill="#e31a1c" />
<rect x="431.80" y="131.07" width="2.30" height="11.60" fill="#fed976" />
<rect x="433.50" y="131.07" width="4.30" height="11.60" fill="#e31a1c" />
<rect x="437.20" y="131.07" width="2.20" height="11.60" fill="#fed976" />
<rect x="438.80" y="131.07" width="1.70" height="11.60" fill="#e31a1c" />
<rect x="439.90" y="131.07" width="2.20" height="11.60" fill="#abd9e9" />
<rect x="441.50" y="131.07" width="3.90" height="11.60" fill="#fed976" />
<rect x="444.80" y="131.07" width="2.70" height="11.60" fill="#e31a1c" />
<rect x="446.90" y="131.07" width="2.20" height="11.60" fill="#abd9e9" />
<rect x="448.50" y="131.07" width="5.50" height="11.60" fill="#e31a1c" />
<rect x="453.40" y="131.07" width="2.20" height="11.60" fill="#fed976" />
<rect x="455.00" y="131.07" width="2.80" height="11.60" fill="#e31a1c" />
<rect x="457.20" y="131.07" width="2.20" height="11.60" fill="#fed976" />
<rect x="458.80" y="131.07" width="2.20" height="11.60" fill="#e31a1c" />
<rect x="460.40" y="131.07" width="1.40" height="11.60" fill="#fed976" />
<rect x="295.00" y="145.06" width="2.00" height="11.60" fill="#a6d7ea" />
<rect x="296.40" y="145.06" width="2.30" height="11.60" fill="#d7191c" />
<rect x="298.10" y="145.06" width="2.10" height="11.60" fill="#a6d7ea" />
<rect x="299.60" y="145.06" width="2.80" height="11.60" fill="#2c7bb6" />
<rect x="301.80" y="145.06" width="8.70" height="11.60" fill="#fee090" />
<rect x="309.90" y="145.06" width="2.50" height="11.60" fill="#2c7bb6" />
<rect x="311.80" y="145.06" width="7.40" height="11.60" fill="#fee090" />
<rect x="318.60" y="145.06" width="5.10" height="11.60" fill="#a6d7ea" />
<rect x="323.10" y="145.06" width="2.20" height="11.60" fill="#fee090" />
<rect x="324.70" y="145.06" width="2.70" height="11.60" fill="#2c7bb6" />
<rect x="326.80" y="145.06" width="3.90" height="11.60" fill="#a6d7ea" />
<rect x="330.10" y="145.06" width="3.80" height="11.60" fill="#fee090" />
<rect x="333.30" y="145.06" width="2.20" height="11.60" fill="#a6d7ea" />
<rect x="334.90" y="145.06" width="3.90" height="11.60" fill="#2c7bb6" />
<rect x="338.20" y="145.06" width="3.80" height="11.60" fill="#a6d7ea" />
<rect x="341.40" y="145.06" width="2.50" height="11.60" fill="#fee090" />
<rect x="343.30" y="145.06" width="1.90" height="11.60" fill="#a6d7ea" />
<rect x="344.60" y="145.06" width="2.80" height="11.60" fill="#2c7bb6" />
<rect x="346.80" y="145.06" width="3.80" height="11.60" fill="#a6d7ea" />
<rect x="350.00" y="145.06" width="5.40" height="11.60" fill="#2c7bb6" />
<rect x="354.80" y="145.06" width="3.90" height="11.60" fill="#fee090" />
<rect x="358.10" y="145.06" width="2.40" height="11.60" fill="#d7191c" />
<rect x="359.90" y="145.06" width="2.30" height="11.60" fill="#a6d7ea" />
<rect x="361.60" y="145.06" width="2.10" height="11.60" fill="#2c7bb6" />
<rect x="363.10" y="145.06" width="2.40" height="11.60" fill="#a6d7ea" />
<rect x="364.90" y="145.06" width="2.40" height="11.60" fill="#2c7bb6" />
<rect x="366.70" y="145.06" width="2.00" height="11.60" fill="#a6d7ea" />
<rect x="368.10" y="145.06" width="2.40" height="11.60" fill="#2c7bb6" />
<rect x="369.90" y="145.06" width="2.20" height="11.60" fill="#fee090" />
<rect x="371.50" y="145.06" width="2.30" height="11.60" fill="#a6d7ea" />
<rect x="373.20" y="145.06" width="2.40" height="11.60" fill="#fee090" />
<rect x="375.00" y="145.06" width="2.30" height="11.60" fill="#2c7bb6" />
<rect x="376.70" y="145.06" width="4.10" height="11.60" fill="#fee090" />
<rect x="380.20" y="145.06" width="1.80" height="11.60" fill="#2c7bb6" />
<rect x="381.40" y="145.06" width="2.00" height="11.60" fill="#d7191c" />
<rect x="382.80" y="145.06" width="4.40" height="11.60" fill="#a6d7ea" />
<rect x="386.60" y="145.06" width="2.60" height="11.60" fill="#fee090" />
<rect x="388.60" y="145.06" width="2.10" height="11.60" fill="#a6d7ea" />
<rect x="390.10" y="145.06" width="2.30" height="11.60" fill="#2c7bb6" />
<rect x="391.80" y="145.06" width="1.90" height="11.60" fill="#fee090" />
<rect x="393.10" y="145.06" width="2.20" height="11.60" fill="#2c7bb6" />
<rect x="394.70" y="145.06" width="4.40" height="11.60" fill="#a6d7ea" />
<rect x="398.50" y="145.06" width="2.20" height="11.60" fill="#2c7bb6" />
<rect x="400.10" y="145.06" width="2.20" height="11.60" fill="#d7191c" />
<rect x="401.70" y="145.06" width="1.70" height="11.60" fill="#2c7bb6" />
<rect x="402.80" y="145.06" width="4.90" height="11.60" fill="#a6d7ea" />
<rect x="407.10" y="145.06" width="1.90" height="11.60" fill="#d7191c" />
<rect x="408.40" y="145.06" width="3.80" height="11.60" fill="#fee090" />
<rect x="411.60" y="145.06" width="2.30" height="11.60" fill="#2c7bb6" />
<rect x="413.30" y="145.06" width="2.10" height="11.60" fill="#a6d7ea" />
<rect x="414.80" y="145.06" width="5.80" height="11.60" fill="#fee090" />
<rect x="420.00" y="145.06" width="3.80" height="11.60" fill="#a6d7ea" />
<rect x="423.20" y="145.06" width="4.10" height="11.60" fill="#2c7bb6" />
<rect x="426.70" y="145.06" width="3.80" height="11.60" fill="#a6d7ea" />
<rect x="429.90" y="145.06" width="4.20" height="11.60" fill="#fee090" />
<rect x="433.50" y="145.06" width="3.80" height="11.60" fill="#a6d7ea" />
<rect x="436.70" y="145.06" width="7.10" height="11.60" fill="#2c7bb6" />
<rect x="443.20" y="145.06" width="7.60" height="11.60" fill="#a6d7ea" />
<rect x="450.20" y="145.06" width="3.80" height="11.60" fill="#fee090" />
<rect x="453.40" y="145.06" width="5.40" height="11.60" fill="#a6d7ea" />
<rect x="458.20" y="145.06" width="2.20" height="11.60" fill="#fee090" />
<rect x="459.80" y="145.06" width="2.00" height="11.60" fill="#2c7bb6" />
<rect x="295.00" y="159.05" width="113.50" height="11.60" fill="#e31a1c" />
<rect x="407.90" y="159.05" width="2.80" height="11.60" fill="#f4f4f4" />
<rect x="410.10" y="159.05" width="13.70" height="11.60" fill="#e31a1c" />
<rect x="423.20" y="159.05" width="2.60" height="11.60" fill="#f4f4f4" />
<rect x="425.20" y="159.05" width="10.50" height="11.60" fill="#e31a1c" />
<rect x="435.10" y="159.05" width="3.80" height="11.60" fill="#f4f4f4" />
<rect x="438.30" y="159.05" width="2.20" height="11.60" fill="#e31a1c" />
<rect x="439.90" y="159.05" width="2.50" height="11.60" fill="#f4f4f4" />
<rect x="441.80" y="159.05" width="2.30" height="11.60" fill="#e31a1c" />
<rect x="443.50" y="159.05" width="2.10" height="11.60" fill="#f4f4f4" />
<rect x="445.00" y="159.05" width="2.50" height="11.60" fill="#e31a1c" />
<rect x="446.90" y="159.05" width="1.90" height="11.60" fill="#f4f4f4" />
<rect x="448.20" y="159.05" width="4.20" height="11.60" fill="#e31a1c" />
<rect x="451.80" y="159.05" width="2.20" height="11.60" fill="#f4f4f4" />
<rect x="453.40" y="159.05" width="4.00" height="11.60" fill="#e31a1c" />
<rect x="456.80" y="159.05" width="3.60" height="11.60" fill="#f4f4f4" />
<rect x="459.80" y="159.05" width="2.00" height="11.60" fill="#e31a1c" />
<rect x="295.00" y="173.04" width="2.30" height="11.60" fill="#f2f2f2" />
<rect x="296.70" y="173.04" width="11.90" height="11.60" fill="#4daf4a" />
<rect x="308.00" y="173.04" width="4.40" height="11.60" fill="#f2f2f2" />
<rect x="311.80" y="173.04" width="4.90" height="11.60" fill="#4daf4a" />
<rect x="316.10" y="173.04" width="2.40" height="11.60" fill="#f2f2f2" />
<rect x="317.90" y="173.04" width="2.50" height="11.60" fill="#4daf4a" />
<rect x="319.80" y="173.04" width="3.70" height="11.60" fill="#f2f2f2" />
<rect x="322.90" y="173.04" width="2.70" height="11.60" fill="#4daf4a" />
<rect x="325.00" y="173.04" width="2.10" height="11.60" fill="#f2f2f2" />
<rect x="326.50" y="173.04" width="2.30" height="11.60" fill="#4daf4a" />
<rect x="328.20" y="173.04" width="2.20" height="11.60" fill="#f2f2f2" />
<rect x="329.80" y="173.04" width="5.70" height="11.60" fill="#4daf4a" />
<rect x="334.90" y="173.04" width="2.60" height="11.60" fill="#f2f2f2" />
<rect x="336.90" y="173.04" width="8.30" height="11.60" fill="#4daf4a" />
<rect x="344.60" y="173.04" width="2.60" height="11.60" fill="#f2f2f2" />
<rect x="346.60" y="173.04" width="4.00" height="11.60" fill="#4daf4a" />
<rect x="350.00" y="173.04" width="2.50" height="11.60" fill="#f2f2f2" />
<rect x="351.90" y="173.04" width="5.40" height="11.60" fill="#4daf4a" />
<rect x="356.70" y="173.04" width="2.30" height="11.60" fill="#f2f2f2" />
<rect x="358.40" y="173.04" width="5.30" height="11.60" fill="#4daf4a" />
<rect x="363.10" y="173.04" width="2.60" height="11.60" fill="#f2f2f2" />
<rect x="365.10" y="173.04" width="7.00" height="11.60" fill="#4daf4a" />
<rect x="371.50" y="173.04" width="2.60" height="11.60" fill="#f2f2f2" />
<rect x="373.50" y="173.04" width="18.60" height="11.60" fill="#4daf4a" />
<rect x="391.50" y="173.04" width="2.40" height="11.60" fill="#f2f2f2" />
<rect x="393.30" y="173.04" width="5.50" height="11.60" fill="#4daf4a" />
<rect x="398.20" y="173.04" width="2.50" height="11.60" fill="#f2f2f2" />
<rect x="400.10" y="173.04" width="13.80" height="11.60" fill="#4daf4a" />
<rect x="413.30" y="173.04" width="4.10" height="11.60" fill="#f2f2f2" />
<rect x="416.80" y="173.04" width="3.80" height="11.60" fill="#4daf4a" />
<rect x="420.00" y="173.04" width="7.30" height="11.60" fill="#f2f2f2" />
<rect x="426.70" y="173.04" width="10.60" height="11.60" fill="#4daf4a" />
<rect x="436.70" y="173.04" width="5.40" height="11.60" fill="#f2f2f2" />
<rect x="441.50" y="173.04" width="2.30" height="11.60" fill="#4daf4a" />
<rect x="443.20" y="173.04" width="2.40" height="11.60" fill="#f2f2f2" />
<rect x="445.00" y="173.04" width="2.30" height="11.60" fill="#4daf4a" />
<rect x="446.70" y="173.04" width="3.80" height="11.60" fill="#f2f2f2" />
<rect x="449.90" y="173.04" width="2.50" height="11.60" fill="#4daf4a" />
<rect x="451.80" y="173.04" width="7.00" height="11.60" fill="#f2f2f2" />
<rect x="458.20" y="173.04" width="2.20" height="11.60" fill="#4daf4a" />
<rect x="459.80" y="173.04" width="2.00" height="11.60" fill="#f2f2f2" />
<rect x="295.00" y="187.03" width="166.80" height="11.60" fill="#f0f0f0" />
<rect x="296.70" y="187.03" width="1.60" height="11.60" fill="#984ea3" />
<rect x="301.50" y="187.03" width="1.70" height="11.60" fill="#984ea3" />
<rect x="306.70" y="187.03" width="4.70" height="11.60" fill="#984ea3" />
<rect x="315.00" y="187.03" width="1.60" height="11.60" fill="#984ea3" />
<rect x="318.20" y="187.03" width="1.60" height="11.60" fill="#984ea3" />
<rect x="323.10" y="187.03" width="1.90" height="11.60" fill="#984ea3" />
<rect x="326.50" y="187.03" width="3.60" height="11.60" fill="#984ea3" />
<rect x="331.70" y="187.03" width="1.60" height="11.60" fill="#984ea3" />
<rect x="343.00" y="187.03" width="1.80" height="11.60" fill="#984ea3" />
<rect x="346.60" y="187.03" width="1.50" height="11.60" fill="#984ea3" />
<rect x="356.70" y="187.03" width="1.40" height="11.60" fill="#984ea3" />
<rect x="361.60" y="187.03" width="1.50" height="11.60" fill="#984ea3" />
<rect x="364.90" y="187.03" width="1.80" height="11.60" fill="#984ea3" />
<rect x="375.00" y="187.03" width="1.70" height="11.60" fill="#984ea3" />
<rect x="383.40" y="187.03" width="3.20" height="11.60" fill="#984ea3" />
<rect x="393.10" y="187.03" width="1.60" height="11.60" fill="#984ea3" />
<rect x="396.80" y="187.03" width="1.70" height="11.60" fill="#984ea3" />
<rect x="411.60" y="187.03" width="1.70" height="11.60" fill="#984ea3" />
<rect x="434.90" y="187.03" width="1.80" height="11.60" fill="#984ea3" />
<rect x="438.10" y="187.03" width="1.80" height="11.60" fill="#984ea3" />
<rect x="448.20" y="187.03" width="1.70" height="11.60" fill="#984ea3" />
<rect x="459.80" y="187.03" width="2.00" height="11.60" fill="#984ea3" />
<rect x="295.00" y="201.02" width="166.80" height="11.60" fill="#f0f0f0" />
<rect x="304.80" y="201.02" width="5.10" height="11.60" fill="#ff7f00" />
<rect x="311.80" y="201.02" width="1.60" height="11.60" fill="#ff7f00" />
<rect x="316.60" y="201.02" width="1.60" height="11.60" fill="#ff7f00" />
<rect x="321.80" y="201.02" width="1.50" height="11.60" fill="#ff7f00" />
<rect x="333.00" y="201.02" width="1.90" height="11.60" fill="#ff7f00" />
<rect x="340.10" y="201.02" width="3.20" height="11.60" fill="#ff7f00" />
<rect x="352.20" y="201.02" width="5.90" height="11.60" fill="#ff7f00" />
<rect x="360.20" y="201.02" width="3.30" height="11.60" fill="#ff7f00" />
<rect x="366.70" y="201.02" width="1.40" height="11.60" fill="#ff7f00" />
<rect x="369.90" y="201.02" width="1.90" height="11.60" fill="#ff7f00" />
<rect x="376.90" y="201.02" width="3.30" height="11.60" fill="#ff7f00" />
<rect x="381.80" y="201.02" width="1.40" height="11.60" fill="#ff7f00" />
<rect x="385.00" y="201.02" width="2.20" height="11.60" fill="#ff7f00" />
<rect x="390.40" y="201.02" width="3.20" height="11.60" fill="#ff7f00" />
<rect x="396.80" y="201.02" width="3.30" height="11.60" fill="#ff7f00" />
<rect x="402.20" y="201.02" width="3.30" height="11.60" fill="#ff7f00" />
<rect x="408.20" y="201.02" width="3.70" height="11.60" fill="#ff7f00" />
<rect x="415.20" y="201.02" width="6.70" height="11.60" fill="#ff7f00" />
<rect x="428.10" y="201.02" width="1.80" height="11.60" fill="#ff7f00" />
<rect x="433.10" y="201.02" width="2.00" height="11.60" fill="#ff7f00" />
<rect x="438.30" y="201.02" width="1.90" height="11.60" fill="#ff7f00" />
<rect x="445.00" y="201.02" width="1.90" height="11.60" fill="#ff7f00" />
<rect x="455.00" y="201.02" width="1.80" height="11.60" fill="#ff7f00" />
<rect x="295.00" y="215.01" width="2.00" height="11.60" fill="#b5b5b5" />
<rect x="296.40" y="215.01" width="5.70" height="11.60" fill="#3b6db5" />
<rect x="301.50" y="215.01" width="2.30" height="11.60" fill="#e7298a" />
<rect x="303.20" y="215.01" width="4.10" height="11.60" fill="#3b6db5" />
<rect x="306.70" y="215.01" width="1.90" height="11.60" fill="#b5b5b5" />
<rect x="308.00" y="215.01" width="2.50" height="11.60" fill="#3b6db5" />
<rect x="309.90" y="215.01" width="2.50" height="11.60" fill="#b5b5b5" />
<rect x="311.80" y="215.01" width="7.40" height="11.60" fill="#3b6db5" />
<rect x="318.60" y="215.01" width="2.10" height="11.60" fill="#b5b5b5" />
<rect x="320.10" y="215.01" width="13.50" height="11.60" fill="#3b6db5" />
<rect x="333.00" y="215.01" width="2.30" height="11.60" fill="#8dd3c7" />
<rect x="334.70" y="215.01" width="2.80" height="11.60" fill="#ffff99" />
<rect x="336.90" y="215.01" width="6.70" height="11.60" fill="#3b6db5" />
<rect x="343.00" y="215.01" width="2.20" height="11.60" fill="#ffff99" />
<rect x="344.60" y="215.01" width="2.80" height="11.60" fill="#3b6db5" />
<rect x="346.80" y="215.01" width="3.80" height="11.60" fill="#b5b5b5" />
<rect x="350.00" y="215.01" width="10.50" height="11.60" fill="#3b6db5" />
<rect x="359.90" y="215.01" width="2.50" height="11.60" fill="#b5b5b5" />
<rect x="361.80" y="215.01" width="1.90" height="11.60" fill="#3b6db5" />
<rect x="363.10" y="215.01" width="2.40" height="11.60" fill="#8dd3c7" />
<rect x="364.90" y="215.01" width="5.60" height="11.60" fill="#3b6db5" />
<rect x="369.90" y="215.01" width="2.80" height="11.60" fill="#e7298a" />
<rect x="372.10" y="215.01" width="3.50" height="11.60" fill="#3b6db5" />
<rect x="375.00" y="215.01" width="2.30" height="11.60" fill="#ffff99" />
<rect x="376.70" y="215.01" width="2.10" height="11.60" fill="#8dd3c7" />
<rect x="378.20" y="215.01" width="14.20" height="11.60" fill="#3b6db5" />
<rect x="391.80" y="215.01" width="2.10" height="11.60" fill="#8dd3c7" />
<rect x="393.30" y="215.01" width="24.10" height="11.60" fill="#3b6db5" />
<rect x="416.80" y="215.01" width="1.90" height="11.60" fill="#bebada" />
<rect x="418.10" y="215.01" width="2.30" height="11.60" fill="#8dd3c7" />
<rect x="419.80" y="215.01" width="3.80" height="11.60" fill="#3b6db5" />
<rect x="423.00" y="215.01" width="2.80" height="11.60" fill="#b5b5b5" />
<rect x="425.20" y="215.01" width="13.50" height="11.60" fill="#3b6db5" />
<rect x="438.10" y="215.01" width="2.70" height="11.60" fill="#e7298a" />
<rect x="440.20" y="215.01" width="5.40" height="11.60" fill="#3b6db5" />
<rect x="445.00" y="215.01" width="2.50" height="11.60" fill="#b5b5b5" />
<rect x="446.90" y="215.01" width="8.70" height="11.60" fill="#3b6db5" />
<rect x="455.00" y="215.01" width="2.40" height="11.60" fill="#b5b5b5" />
<rect x="456.80" y="215.01" width="5.00" height="11.60" fill="#3b6db5" />
<rect x="295.00" y="229.00" width="2.00" height="11.60" fill="#c4c4c4" />
<rect x="296.40" y="229.00" width="2.30" height="11.60" fill="#2a7ab9" />
<rect x="298.10" y="229.00" width="2.40" height="11.60" fill="#c4c4c4" />
<rect x="299.90" y="229.00" width="2.20" height="11.60" fill="#2a7ab9" />
<rect x="301.50" y="229.00" width="1.90" height="11.60" fill="#c4c4c4" />
<rect x="302.80" y="229.00" width="2.60" height="11.60" fill="#ff7f0e" />
<rect x="304.80" y="229.00" width="3.80" height="11.60" fill="#c4c4c4" />
<rect x="308.00" y="229.00" width="2.80" height="11.60" fill="#ff7f0e" />
<rect x="310.20" y="229.00" width="3.20" height="11.60" fill="#c4c4c4" />
<rect x="312.80" y="229.00" width="2.50" height="11.60" fill="#2a7ab9" />
<rect x="314.70" y="229.00" width="2.50" height="11.60" fill="#ff7f0e" />
<rect x="316.60" y="229.00" width="3.80" height="11.60" fill="#c4c4c4" />
<rect x="319.80" y="229.00" width="3.90" height="11.60" fill="#ff7f0e" />
<rect x="323.10" y="229.00" width="2.50" height="11.60" fill="#2a7ab9" />
<rect x="325.00" y="229.00" width="2.10" height="11.60" fill="#ff7f0e" />
<rect x="326.50" y="229.00" width="2.30" height="11.60" fill="#2a7ab9" />
<rect x="328.20" y="229.00" width="2.50" height="11.60" fill="#c4c4c4" />
<rect x="330.10" y="229.00" width="3.80" height="11.60" fill="#2a7ab9" />
<rect x="333.30" y="229.00" width="4.40" height="11.60" fill="#c4c4c4" />
<rect x="337.10" y="229.00" width="3.60" height="11.60" fill="#2a7ab9" />
<rect x="340.10" y="229.00" width="3.50" height="11.60" fill="#ff7f0e" />
<rect x="343.00" y="229.00" width="2.20" height="11.60" fill="#c4c4c4" />
<rect x="344.60" y="229.00" width="2.80" height="11.60" fill="#ff7f0e" />
<rect x="346.80" y="229.00" width="3.80" height="11.60" fill="#c4c4c4" />
<rect x="350.00" y="229.00" width="3.80" height="11.60" fill="#ff7f0e" />
<rect x="353.20" y="229.00" width="2.20" height="11.60" fill="#c4c4c4" />
<rect x="354.80" y="229.00" width="2.80" height="11.60" fill="#ff7f0e" />
<rect x="357.00" y="229.00" width="3.50" height="11.60" fill="#2a7ab9" />
<rect x="359.90" y="229.00" width="2.30" height="11.60" fill="#c4c4c4" />
<rect x="361.60" y="229.00" width="2.10" height="11.60" fill="#2a7ab9" />
<rect x="363.10" y="229.00" width="2.40" height="11.60" fill="#c4c4c4" />
<rect x="364.90" y="229.00" width="5.60" height="11.60" fill="#ff7f0e" />
<rect x="369.90" y="229.00" width="2.80" height="11.60" fill="#c4c4c4" />
<rect x="372.10" y="229.00" width="3.50" height="11.60" fill="#2a7ab9" />
<rect x="375.00" y="229.00" width="3.80" height="11.60" fill="#c4c4c4" />
<rect x="378.20" y="229.00" width="2.60" height="11.60" fill="#ff7f0e" />
<rect x="380.20" y="229.00" width="5.40" height="11.60" fill="#2a7ab9" />
<rect x="385.00" y="229.00" width="3.80" height="11.60" fill="#ff7f0e" />
<rect x="388.20" y="229.00" width="2.20" height="11.60" fill="#c4c4c4" />
<rect x="389.80" y="229.00" width="2.60" height="11.60" fill="#2a7ab9" />
<rect x="391.80" y="229.00" width="1.90" height="11.60" fill="#c4c4c4" />
<rect x="393.10" y="229.00" width="2.50" height="11.60" fill="#ff7f0e" />
<rect x="395.00" y="229.00" width="2.40" height="11.60" fill="#2a7ab9" />
<rect x="396.80" y="229.00" width="7.10" height="11.60" fill="#ff7f0e" />
<rect x="403.30" y="229.00" width="1.70" height="11.60" fill="#c4c4c4" />
<rect x="404.40" y="229.00" width="4.40" height="11.60" fill="#2a7ab9" />
<rect x="408.20" y="229.00" width="2.50" height="11.60" fill="#ff7f0e" />
<rect x="410.10" y="229.00" width="7.30" height="11.60" fill="#2a7ab9" />
<rect x="416.80" y="229.00" width="3.80" height="11.60" fill="#c4c4c4" />
<rect x="420.00" y="229.00" width="3.80" height="11.60" fill="#ff7f0e" />
<rect x="423.20" y="229.00" width="2.20" height="11.60" fill="#c4c4c4" />
<rect x="424.80" y="229.00" width="2.50" height="11.60" fill="#2a7ab9" />
<rect x="426.70" y="229.00" width="2.30" height="11.60" fill="#ff7f0e" />
<rect x="428.40" y="229.00" width="2.10" height="11.60" fill="#2a7ab9" />
<rect x="429.90" y="229.00" width="5.80" height="11.60" fill="#ff7f0e" />
<rect x="435.10" y="229.00" width="2.70" height="11.60" fill="#2a7ab9" />
<rect x="437.20" y="229.00" width="3.30" height="11.60" fill="#c4c4c4" />
<rect x="439.90" y="229.00" width="2.50" height="11.60" fill="#2a7ab9" />
<rect x="441.80" y="229.00" width="2.70" height="11.60" fill="#ff7f0e" />
<rect x="443.90" y="229.00" width="3.60" height="11.60" fill="#c4c4c4" />
<rect x="446.90" y="229.00" width="2.20" height="11.60" fill="#ff7f0e" />
<rect x="448.50" y="229.00" width="2.30" height="11.60" fill="#2a7ab9" />
<rect x="450.20" y="229.00" width="5.40" height="11.60" fill="#ff7f0e" />
<rect x="455.00" y="229.00" width="2.80" height="11.60" fill="#c4c4c4" />
<rect x="457.20" y="229.00" width="4.60" height="11.60" fill="#ff7f0e" />
<rect x="295.00" y="242.99" width="3.70" height="11.60" fill="#8fb8de" />
<rect x="298.10" y="242.99" width="2.40" height="11.60" fill="#9fd9c4" />
<rect x="299.90" y="242.99" width="7.40" height="11.60" fill="#d9d9d9" />
<rect x="306.70" y="242.99" width="1.90" height="11.60" fill="#8fb8de" />
<rect x="308.00" y="242.99" width="2.80" height="11.60" fill="#fdb97d" />
<rect x="310.20" y="242.99" width="2.20" height="11.60" fill="#d9d9d9" />
<rect x="311.80" y="242.99" width="2.20" height="11.60" fill="#8fb8de" />
<rect x="313.40" y="242.99" width="3.80" height="11.60" fill="#d9d9d9" />
<rect x="316.60" y="242.99" width="4.10" height="11.60" fill="#8fb8de" />
<rect x="320.10" y="242.99" width="2.30" height="11.60" fill="#d9d9d9" />
<rect x="321.80" y="242.99" width="2.10" height="11.60" fill="#fdb97d" />
<rect x="323.30" y="242.99" width="5.50" height="11.60" fill="#d9d9d9" />
<rect x="328.20" y="242.99" width="4.10" height="11.60" fill="#fdb97d" />
<rect x="331.70" y="242.99" width="1.90" height="11.60" fill="#d9d9d9" />
<rect x="333.00" y="242.99" width="2.50" height="11.60" fill="#9fd9c4" />
<rect x="334.90" y="242.99" width="2.60" height="11.60" fill="#ffffb3" />
<rect x="336.90" y="242.99" width="5.30" height="11.60" fill="#8fb8de" />
<rect x="341.60" y="242.99" width="2.30" height="11.60" fill="#fdb97d" />
<rect x="343.30" y="242.99" width="2.50" height="11.60" fill="#ffffb3" />
<rect x="345.20" y="242.99" width="3.80" height="11.60" fill="#fdb97d" />
<rect x="348.40" y="242.99" width="2.20" height="11.60" fill="#ffffb3" />
<rect x="350.00" y="242.99" width="2.20" height="11.60" fill="#d9d9d9" />
<rect x="351.60" y="242.99" width="2.20" height="11.60" fill="#fdb97d" />
<rect x="353.20" y="242.99" width="2.60" height="11.60" fill="#9fd9c4" />
<rect x="355.20" y="242.99" width="3.80" height="11.60" fill="#d9d9d9" />
<rect x="358.40" y="242.99" width="2.10" height="11.60" fill="#ffffb3" />
<rect x="359.90" y="242.99" width="2.30" height="11.60" fill="#d9d9d9" />
<rect x="361.60" y="242.99" width="2.10" height="11.60" fill="#9fd9c4" />
<rect x="363.10" y="242.99" width="2.40" height="11.60" fill="#d9d9d9" />
<rect x="364.90" y="242.99" width="2.70" height="11.60" fill="#ffffb3" />
<rect x="367.00" y="242.99" width="5.70" height="11.60" fill="#fdb97d" />
<rect x="372.10" y="242.99" width="3.50" height="11.60" fill="#8fb8de" />
<rect x="375.00" y="242.99" width="2.30" height="11.60" fill="#ffffb3" />
<rect x="376.70" y="242.99" width="2.10" height="11.60" fill="#9fd9c4" />
<rect x="378.20" y="242.99" width="2.60" height="11.60" fill="#d9d9d9" />
<rect x="380.20" y="242.99" width="7.00" height="11.60" fill="#8fb8de" />
<rect x="386.60" y="242.99" width="2.60" height="11.60" fill="#fdb97d" />
<rect x="388.60" y="242.99" width="2.10" height="11.60" fill="#d9d9d9" />
<rect x="390.10" y="242.99" width="2.30" height="11.60" fill="#8fb8de" />
<rect x="391.80" y="242.99" width="1.90" height="11.60" fill="#9fd9c4" />
<rect x="393.10" y="242.99" width="2.50" height="11.60" fill="#fdb97d" />
<rect x="395.00" y="242.99" width="2.40" height="11.60" fill="#8fb8de" />
<rect x="396.80" y="242.99" width="3.90" height="11.60" fill="#9fd9c4" />
<rect x="400.10" y="242.99" width="3.80" height="11.60" fill="#d9d9d9" />
<rect x="403.30" y="242.99" width="3.30" height="11.60" fill="#9fd9c4" />
<rect x="406.00" y="242.99" width="1.70" height="11.60" fill="#8fb8de" />
<rect x="407.10" y="242.99" width="2.20" height="11.60" fill="#d9d9d9" />
<rect x="408.70" y="242.99" width="2.20" height="11.60" fill="#9fd9c4" />
<rect x="410.30" y="242.99" width="2.20" height="11.60" fill="#d9d9d9" />
<rect x="411.90" y="242.99" width="2.20" height="11.60" fill="#fdb97d" />
<rect x="413.50" y="242.99" width="2.30" height="11.60" fill="#d9d9d9" />
<rect x="415.20" y="242.99" width="2.20" height="11.60" fill="#8fb8de" />
<rect x="416.80" y="242.99" width="2.20" height="11.60" fill="#ffffb3" />
<rect x="418.40" y="242.99" width="2.20" height="11.60" fill="#9fd9c4" />
<rect x="420.00" y="242.99" width="3.80" height="11.60" fill="#d9d9d9" />
<rect x="423.20" y="242.99" width="2.60" height="11.60" fill="#fdb97d" />
<rect x="425.20" y="242.99" width="2.90" height="11.60" fill="#8fb8de" />
<rect x="427.50" y="242.99" width="3.00" height="11.60" fill="#d9d9d9" />
<rect x="429.90" y="242.99" width="4.20" height="11.60" fill="#fdb97d" />
<rect x="433.50" y="242.99" width="2.20" height="11.60" fill="#d9d9d9" />
<rect x="435.10" y="242.99" width="2.70" height="11.60" fill="#fdb97d" />
<rect x="437.20" y="242.99" width="1.70" height="11.60" fill="#d9d9d9" />
<rect x="438.30" y="242.99" width="2.50" height="11.60" fill="#fdb97d" />
<rect x="440.20" y="242.99" width="2.50" height="11.60" fill="#d9d9d9" />
<rect x="442.10" y="242.99" width="2.20" height="11.60" fill="#fdb97d" />
<rect x="443.70" y="242.99" width="4.40" height="11.60" fill="#c4c4c4" />
<rect x="447.50" y="242.99" width="3.30" height="11.60" fill="#8fb8de" />
<rect x="450.20" y="242.99" width="2.20" height="11.60" fill="#d9d9d9" />
<rect x="451.80" y="242.99" width="2.20" height="11.60" fill="#fdb97d" />
<rect x="453.40" y="242.99" width="2.20" height="11.60" fill="#d9d9d9" />
<rect x="455.00" y="242.99" width="2.80" height="11.60" fill="#fdb97d" />
<rect x="457.20" y="242.99" width="4.60" height="11.60" fill="#c4c4c4" />
<rect x="295.00" y="256.98" width="2.00" height="11.60" fill="#a66a84" />
<rect x="296.40" y="256.98" width="1.20" height="11.60" fill="#ee7a4e" />
<rect x="297.00" y="256.98" width="3.50" height="11.60" fill="#a50026" />
<rect x="299.90" y="256.98" width="2.20" height="11.60" fill="#fdcf8a" />
<rect x="301.50" y="256.98" width="1.70" height="11.60" fill="#ee7a4e" />
<rect x="302.60" y="256.98" width="2.80" height="11.60" fill="#fdcf8a" />
<rect x="304.80" y="256.98" width="3.80" height="11.60" fill="#a50026" />
<rect x="308.00" y="256.98" width="2.50" height="11.60" fill="#fdcf8a" />
<rect x="309.90" y="256.98" width="5.70" height="11.60" fill="#a50026" />
<rect x="315.00" y="256.98" width="2.20" height="11.60" fill="#a66a84" />
<rect x="316.60" y="256.98" width="1.90" height="11.60" fill="#ee7a4e" />
<rect x="317.90" y="256.98" width="4.50" height="11.60" fill="#2f3593" />
<rect x="321.80" y="256.98" width="1.90" height="11.60" fill="#fdcf8a" />
<rect x="323.10" y="256.98" width="2.20" height="11.60" fill="#a50026" />
<rect x="324.70" y="256.98" width="2.20" height="11.60" fill="#2f3593" />
<rect x="326.30" y="256.98" width="1.90" height="11.60" fill="#a50026" />
<rect x="327.60" y="256.98" width="1.70" height="11.60" fill="#a66a84" />
<rect x="328.70" y="256.98" width="2.00" height="11.60" fill="#2f3593" />
<rect x="330.10" y="256.98" width="2.70" height="11.60" fill="#a50026" />
<rect x="332.20" y="256.98" width="1.70" height="11.60" fill="#fdcf8a" />
<rect x="333.30" y="256.98" width="4.40" height="11.60" fill="#fee6a0" />
<rect x="337.10" y="256.98" width="2.70" height="11.60" fill="#a66a84" />
<rect x="339.20" y="256.98" width="3.30" height="11.60" fill="#a50026" />
<rect x="341.90" y="256.98" width="2.00" height="11.60" fill="#fdcf8a" />
<rect x="343.30" y="256.98" width="4.60" height="11.60" fill="#a50026" />
<rect x="347.30" y="256.98" width="2.20" height="11.60" fill="#fdcf8a" />
<rect x="348.90" y="256.98" width="1.70" height="11.60" fill="#2f3593" />
<rect x="350.00" y="256.98" width="2.80" height="11.60" fill="#a50026" />
<rect x="352.20" y="256.98" width="2.20" height="11.60" fill="#fdcf8a" />
<rect x="353.80" y="256.98" width="2.00" height="11.60" fill="#a66a84" />
<rect x="355.20" y="256.98" width="5.10" height="11.60" fill="#a50026" />
<rect x="359.70" y="256.98" width="2.50" height="11.60" fill="#a66a84" />
<rect x="361.60" y="256.98" width="1.90" height="11.60" fill="#ee7a4e" />
<rect x="362.90" y="256.98" width="2.80" height="11.60" fill="#2f3593" />
<rect x="365.10" y="256.98" width="2.20" height="11.60" fill="#a66a84" />
<rect x="366.70" y="256.98" width="6.00" height="11.60" fill="#2f3593" />
<rect x="372.10" y="256.98" width="7.00" height="11.60" fill="#a50026" />
<rect x="378.50" y="256.98" width="2.30" height="11.60" fill="#a66a84" />
<rect x="380.20" y="256.98" width="2.20" height="11.60" fill="#fee6a0" />
<rect x="381.80" y="256.98" width="3.80" height="11.60" fill="#a50026" />
<rect x="385.00" y="256.98" width="2.00" height="11.60" fill="#fdcf8a" />
<rect x="386.40" y="256.98" width="3.50" height="11.60" fill="#2f3593" />
<rect x="389.30" y="256.98" width="3.10" height="11.60" fill="#a50026" />
<rect x="391.80" y="256.98" width="1.90" height="11.60" fill="#2f3593" />
<rect x="393.10" y="256.98" width="1.90" height="11.60" fill="#fdcf8a" />
<rect x="394.40" y="256.98" width="3.40" height="11.60" fill="#a50026" />
<rect x="397.20" y="256.98" width="1.90" height="11.60" fill="#fee6a0" />
<rect x="398.50" y="256.98" width="2.70" height="11.60" fill="#2f3593" />
<rect x="400.60" y="256.98" width="2.80" height="11.60" fill="#a50026" />
<rect x="402.80" y="256.98" width="2.20" height="11.60" fill="#2f3593" />
<rect x="404.40" y="256.98" width="4.40" height="11.60" fill="#a50026" />
<rect x="408.20" y="256.98" width="2.70" height="11.60" fill="#2f3593" />
<rect x="410.30" y="256.98" width="2.20" height="11.60" fill="#a50026" />
<rect x="411.90" y="256.98" width="2.00" height="11.60" fill="#2f3593" />
<rect x="413.30" y="256.98" width="6.20" height="11.60" fill="#a50026" />
<rect x="418.90" y="256.98" width="2.20" height="11.60" fill="#fdcf8a" />
<rect x="420.50" y="256.98" width="2.30" height="11.60" fill="#2f3593" />
<rect x="422.20" y="256.98" width="3.20" height="11.60" fill="#fdcf8a" />
<rect x="424.80" y="256.98" width="2.80" height="11.60" fill="#a50026" />
<rect x="427.00" y="256.98" width="2.20" height="11.60" fill="#fee6a0" />
<rect x="428.60" y="256.98" width="2.20" height="11.60" fill="#a50026" />
<rect x="430.20" y="256.98" width="2.80" height="11.60" fill="#a66a84" />
<rect x="432.40" y="256.98" width="6.50" height="11.60" fill="#fee6a0" />
<rect x="438.30" y="256.98" width="6.00" height="11.60" fill="#2f3593" />
<rect x="443.70" y="256.98" width="2.20" height="11.60" fill="#a50026" />
<rect x="445.30" y="256.98" width="3.80" height="11.60" fill="#2f3593" />
<rect x="448.50" y="256.98" width="2.30" height="11.60" fill="#fdcf8a" />
<rect x="450.20" y="256.98" width="7.00" height="11.60" fill="#2f3593" />
<rect x="456.60" y="256.98" width="1.70" height="11.60" fill="#a66a84" />
<rect x="457.70" y="256.98" width="1.70" height="11.60" fill="#ee7a4e" />
<rect x="458.80" y="256.98" width="3.00" height="11.60" fill="#c8c8c8" />
</g>
<text x="463.80" y="98.50" font-size="9.8" stroke="#231f20" stroke-width="0.2" textLength="20.0" lengthAdjust="spacingAndGlyphs" >aaIPI*</text>
<text x="463.80" y="112.49" font-size="9.8" stroke="#231f20" stroke-width="0.2" textLength="30.8" lengthAdjust="spacingAndGlyphs" >CNS-IPI*</text>
<text x="463.80" y="126.48" font-size="9.8" stroke="#231f20" stroke-width="0.2" textLength="14.7" lengthAdjust="spacingAndGlyphs" >Age</text>
<text x="463.80" y="140.47" font-size="9.8" stroke="#231f20" stroke-width="0.2" textLength="23.6" lengthAdjust="spacingAndGlyphs" >Stage*</text>
<text x="463.80" y="154.46" font-size="9.8" stroke="#231f20" stroke-width="0.2" textLength="22.4" lengthAdjust="spacingAndGlyphs" >ECOG</text>
<text x="463.80" y="168.45" font-size="9.8" stroke="#231f20" stroke-width="0.2" textLength="18.5" lengthAdjust="spacingAndGlyphs" >LDH*</text>
<text x="463.80" y="182.44" font-size="9.8" stroke="#231f20" stroke-width="0.2" textLength="27" lengthAdjust="spacingAndGlyphs" >B-symp.</text>
<text x="463.80" y="196.43" font-size="9.8" stroke="#231f20" stroke-width="0.2" textLength="33.4" lengthAdjust="spacingAndGlyphs" >Bone M.*</text>
<text x="463.80" y="210.42" font-size="9.8" stroke="#231f20" stroke-width="0.2" textLength="14.7" lengthAdjust="spacingAndGlyphs" >Bulk</text>
<text x="463.80" y="224.41" font-size="9.8" stroke="#231f20" stroke-width="0.2" textLength="33.4" lengthAdjust="spacingAndGlyphs" >Histology</text>
<text x="463.80" y="238.40" font-size="9.8" stroke="#231f20" stroke-width="0.2" textLength="29.2" lengthAdjust="spacingAndGlyphs" >Subtype</text>
<text x="463.80" y="252.39" font-size="9.8" stroke="#231f20" stroke-width="0.2" textLength="25.1" lengthAdjust="spacingAndGlyphs" >Cluster</text>
<text x="463.80" y="266.48" font-size="10.2" font-weight="bold" fill="#111" textLength="43.9" lengthAdjust="spacingAndGlyphs" >#RCH/#TW</text>
<g>
<rect x="295.00" y="271.95" width="166.80" height="7.50" fill="#efefef" />
<rect x="302.10" y="271.95" width="1.10" height="7.50" fill="#e4262b" />
<rect x="303.20" y="271.95" width="1.60" height="7.50" fill="#1e1e1e" />
<rect x="308.00" y="271.95" width="1.10" height="7.50" fill="#e4262b" />
<rect x="309.10" y="271.95" width="1.30" height="7.50" fill="#3a86c8" />
<rect x="310.40" y="271.95" width="1.40" height="7.50" fill="#e4262b" />
<rect x="315.00" y="271.95" width="1.60" height="7.50" fill="#1e1e1e" />
<rect x="316.60" y="271.95" width="3.00" height="7.50" fill="#3a86c8" />
<rect x="319.60" y="271.95" width="3.50" height="7.50" fill="#e4262b" />
<rect x="323.10" y="271.95" width="1.60" height="7.50" fill="#1e1e1e" />
<rect x="326.80" y="271.95" width="1.40" height="7.50" fill="#e4262b" />
<rect x="328.20" y="271.95" width="1.30" height="7.50" fill="#3a86c8" />
<rect x="329.50" y="271.95" width="2.20" height="7.50" fill="#1e1e1e" />
<rect x="336.90" y="271.95" width="1.30" height="7.50" fill="#1e1e1e" />
<rect x="346.80" y="271.95" width="1.00" height="7.50" fill="#e4262b" />
<rect x="348.80" y="271.95" width="1.20" height="7.50" fill="#3a86c8" />
<rect x="351.60" y="271.95" width="1.10" height="7.50" fill="#1e1e1e" />
<rect x="354.80" y="271.95" width="1.40" height="7.50" fill="#e4262b" />
<rect x="365.10" y="271.95" width="1.60" height="7.50" fill="#3a86c8" />
<rect x="368.80" y="271.95" width="1.10" height="7.50" fill="#3a86c8" />
<rect x="369.90" y="271.95" width="1.60" height="7.50" fill="#e4262b" />
<rect x="373.50" y="271.95" width="1.50" height="7.50" fill="#3a86c8" />
<rect x="380.20" y="271.95" width="1.60" height="7.50" fill="#3a86c8" />
<rect x="383.60" y="271.95" width="1.40" height="7.50" fill="#e4262b" />
<rect x="385.00" y="271.95" width="1.60" height="7.50" fill="#3a86c8" />
<rect x="388.60" y="271.95" width="1.50" height="7.50" fill="#3a86c8" />
<rect x="399.00" y="271.95" width="1.10" height="7.50" fill="#3a86c8" />
<rect x="402.20" y="271.95" width="1.10" height="7.50" fill="#e4262b" />
<rect x="404.90" y="271.95" width="2.20" height="7.50" fill="#e4262b" />
<rect x="408.70" y="271.95" width="1.40" height="7.50" fill="#e4262b" />
<rect x="413.50" y="271.95" width="1.30" height="7.50" fill="#e4262b" />
<rect x="420.00" y="271.95" width="1.90" height="7.50" fill="#f7901e" />
<rect x="423.80" y="271.95" width="1.40" height="7.50" fill="#e4262b" />
<rect x="430.20" y="271.95" width="1.60" height="7.50" fill="#1e1e1e" />
<rect x="431.80" y="271.95" width="3.30" height="7.50" fill="#e4262b" />
<rect x="435.10" y="271.95" width="1.60" height="7.50" fill="#1e1e1e" />
<rect x="436.70" y="271.95" width="1.60" height="7.50" fill="#e4262b" />
<rect x="455.00" y="271.95" width="1.60" height="7.50" fill="#1e1e1e" />
<rect x="295.00" y="281.58" width="166.80" height="7.50" fill="#efefef" />
<rect x="306.90" y="281.58" width="1.30" height="7.50" fill="#3a86c8" />
<rect x="308.20" y="281.58" width="1.70" height="7.50" fill="#9b4fb0" />
<rect x="321.80" y="281.58" width="1.30" height="7.50" fill="#e4262b" />
<rect x="328.20" y="281.58" width="1.60" height="7.50" fill="#3a86c8" />
<rect x="329.80" y="281.58" width="2.10" height="7.50" fill="#f7901e" />
<rect x="340.10" y="281.58" width="1.30" height="7.50" fill="#e4262b" />
<rect x="341.40" y="281.58" width="1.60" height="7.50" fill="#9b4fb0" />
<rect x="345.20" y="281.58" width="1.60" height="7.50" fill="#e4262b" />
<rect x="346.80" y="281.58" width="1.60" height="7.50" fill="#1e1e1e" />
<rect x="348.40" y="281.58" width="1.60" height="7.50" fill="#3a86c8" />
<rect x="355.20" y="281.58" width="1.30" height="7.50" fill="#3a86c8" />
<rect x="365.10" y="281.58" width="1.60" height="7.50" fill="#3a86c8" />
<rect x="368.30" y="281.58" width="3.80" height="7.50" fill="#e4262b" />
<rect x="387.20" y="281.58" width="1.00" height="7.50" fill="#f7901e" />
<rect x="393.30" y="281.58" width="1.40" height="7.50" fill="#1e1e1e" />
<rect x="407.10" y="281.58" width="1.10" height="7.50" fill="#f7901e" />
<rect x="411.90" y="281.58" width="1.40" height="7.50" fill="#3a86c8" />
<rect x="423.80" y="281.58" width="1.40" height="7.50" fill="#3a86c8" />
<rect x="427.00" y="281.58" width="1.40" height="7.50" fill="#1e1e1e" />
<rect x="430.20" y="281.58" width="3.30" height="7.50" fill="#3a86c8" />
<rect x="435.10" y="281.58" width="1.90" height="7.50" fill="#3a86c8" />
<rect x="437.00" y="281.58" width="1.30" height="7.50" fill="#1e1e1e" />
<rect x="438.30" y="281.58" width="1.60" height="7.50" fill="#e4262b" />
<rect x="451.80" y="281.58" width="1.60" height="7.50" fill="#9b4fb0" />
<rect x="455.00" y="281.58" width="1.60" height="7.50" fill="#3a86c8" />
<rect x="295.00" y="291.21" width="166.80" height="7.50" fill="#efefef" />
<rect x="296.70" y="291.21" width="1.40" height="7.50" fill="#3a86c8" />
<rect x="306.90" y="291.21" width="1.30" height="7.50" fill="#e4262b" />
<rect x="311.80" y="291.21" width="1.40" height="7.50" fill="#3a86c8" />
<rect x="316.60" y="291.21" width="1.30" height="7.50" fill="#3a86c8" />
<rect x="321.80" y="291.21" width="1.30" height="7.50" fill="#3a86c8" />
<rect x="330.10" y="291.21" width="1.60" height="7.50" fill="#3a86c8" />
<rect x="338.40" y="291.21" width="1.00" height="7.50" fill="#1e1e1e" />
<rect x="339.40" y="291.21" width="0.90" height="7.50" fill="#3a86c8" />
<rect x="348.40" y="291.21" width="1.60" height="7.50" fill="#1e1e1e" />
<rect x="353.40" y="291.21" width="1.40" height="7.50" fill="#3a86c8" />
<rect x="357.00" y="291.21" width="1.60" height="7.50" fill="#3a86c8" />
<rect x="358.60" y="291.21" width="1.30" height="7.50" fill="#f7901e" />
<rect x="375.00" y="291.21" width="1.70" height="7.50" fill="#3a86c8" />
<rect x="380.20" y="291.21" width="2.60" height="7.50" fill="#3a86c8" />
<rect x="390.10" y="291.21" width="1.70" height="7.50" fill="#3a86c8" />
<rect x="393.30" y="291.21" width="1.40" height="7.50" fill="#3a86c8" />
<rect x="394.70" y="291.21" width="2.10" height="7.50" fill="#1e1e1e" />
<rect x="401.70" y="291.21" width="1.30" height="7.50" fill="#3a86c8" />
<rect x="404.90" y="291.21" width="2.70" height="7.50" fill="#f7901e" />
<rect x="416.80" y="291.21" width="3.00" height="7.50" fill="#3a86c8" />
<rect x="425.20" y="291.21" width="1.50" height="7.50" fill="#3a86c8" />
<rect x="448.50" y="291.21" width="1.40" height="7.50" fill="#f7901e" />
<rect x="455.00" y="291.21" width="1.60" height="7.50" fill="#3a86c8" />
<rect x="295.00" y="300.84" width="166.80" height="7.50" fill="#efefef" />
<rect x="302.10" y="300.84" width="2.70" height="7.50" fill="#f7901e" />
<rect x="306.70" y="300.84" width="1.10" height="7.50" fill="#3a86c8" />
<rect x="308.60" y="300.84" width="1.30" height="7.50" fill="#3a86c8" />
<rect x="311.80" y="300.84" width="1.40" height="7.50" fill="#3a86c8" />
<rect x="316.60" y="300.84" width="1.20" height="7.50" fill="#3a86c8" />
<rect x="318.50" y="300.84" width="1.30" height="7.50" fill="#3a86c8" />
<rect x="321.80" y="300.84" width="1.20" height="7.50" fill="#3a86c8" />
<rect x="323.60" y="300.84" width="2.70" height="7.50" fill="#3a86c8" />
<rect x="330.10" y="300.84" width="1.60" height="7.50" fill="#3a86c8" />
<rect x="334.90" y="300.84" width="1.30" height="7.50" fill="#3a86c8" />
<rect x="337.00" y="300.84" width="2.80" height="7.50" fill="#3a86c8" />
<rect x="345.50" y="300.84" width="1.10" height="7.50" fill="#3a86c8" />
<rect x="346.80" y="300.84" width="1.60" height="7.50" fill="#f7901e" />
<rect x="348.40" y="300.84" width="1.60" height="7.50" fill="#3a86c8" />
<rect x="351.60" y="300.84" width="1.40" height="7.50" fill="#3a86c8" />
<rect x="354.80" y="300.84" width="1.40" height="7.50" fill="#3a86c8" />
<rect x="366.70" y="300.84" width="1.40" height="7.50" fill="#3a86c8" />
<rect x="388.60" y="300.84" width="1.50" height="7.50" fill="#3a86c8" />
<rect x="393.30" y="300.84" width="1.40" height="7.50" fill="#3a86c8" />
<rect x="411.90" y="300.84" width="1.40" height="7.50" fill="#e4262b" />
<rect x="428.40" y="300.84" width="1.30" height="7.50" fill="#3a86c8" />
<rect x="431.80" y="300.84" width="1.30" height="7.50" fill="#3a86c8" />
<rect x="295.00" y="310.47" width="166.80" height="7.50" fill="#efefef" />
<rect x="296.70" y="310.47" width="1.40" height="7.50" fill="#3a86c8" />
<rect x="299.90" y="310.47" width="1.90" height="7.50" fill="#e4262b" />
<rect x="301.80" y="310.47" width="1.40" height="7.50" fill="#3a86c8" />
<rect x="309.90" y="310.47" width="1.50" height="7.50" fill="#3a86c8" />
<rect x="316.80" y="310.47" width="3.00" height="7.50" fill="#3a86c8" />
<rect x="321.80" y="310.47" width="1.30" height="7.50" fill="#3a86c8" />
<rect x="325.00" y="310.47" width="1.50" height="7.50" fill="#3a86c8" />
<rect x="334.90" y="310.47" width="1.60" height="7.50" fill="#1e1e1e" />
<rect x="336.50" y="310.47" width="1.70" height="7.50" fill="#3a86c8" />
<rect x="343.30" y="310.47" width="1.50" height="7.50" fill="#3a86c8" />
<rect x="348.40" y="310.47" width="1.60" height="7.50" fill="#3a86c8" />
<rect x="353.20" y="310.47" width="1.60" height="7.50" fill="#3a86c8" />
<rect x="358.40" y="310.47" width="1.50" height="7.50" fill="#3a86c8" />
<rect x="375.00" y="310.47" width="1.70" height="7.50" fill="#3a86c8" />
<rect x="383.40" y="310.47" width="1.60" height="7.50" fill="#3a86c8" />
<rect x="392.00" y="310.47" width="1.60" height="7.50" fill="#3a86c8" />
<rect x="393.60" y="310.47" width="1.40" height="7.50" fill="#1e1e1e" />
<rect x="398.70" y="310.47" width="1.40" height="7.50" fill="#3a86c8" />
<rect x="417.00" y="310.47" width="2.80" height="7.50" fill="#3a86c8" />
<rect x="431.80" y="310.47" width="1.30" height="7.50" fill="#1e1e1e" />
<rect x="437.00" y="310.47" width="1.30" height="7.50" fill="#3a86c8" />
<rect x="448.50" y="310.47" width="1.40" height="7.50" fill="#3a86c8" />
<rect x="451.80" y="310.47" width="1.40" height="7.50" fill="#3a86c8" />
<rect x="295.00" y="320.10" width="166.80" height="7.50" fill="#efefef" />
<rect x="296.70" y="320.10" width="1.40" height="7.50" fill="#3a86c8" />
<rect x="301.80" y="320.10" width="3.00" height="7.50" fill="#3a86c8" />
<rect x="308.20" y="320.10" width="1.70" height="7.50" fill="#f7901e" />
<rect x="320.10" y="320.10" width="1.40" height="7.50" fill="#9b4fb0" />
<rect x="321.50" y="320.10" width="1.40" height="7.50" fill="#3a86c8" />
<rect x="328.20" y="320.10" width="3.50" height="7.50" fill="#3a86c8" />
<rect x="341.90" y="320.10" width="1.40" height="7.50" fill="#3a86c8" />
<rect x="346.80" y="320.10" width="3.20" height="7.50" fill="#3a86c8" />
<rect x="357.00" y="320.10" width="1.40" height="7.50" fill="#3a86c8" />
<rect x="367.00" y="320.10" width="5.10" height="7.50" fill="#3a86c8" />
<rect x="378.20" y="320.10" width="1.70" height="7.50" fill="#3a86c8" />
<rect x="386.80" y="320.10" width="1.40" height="7.50" fill="#3a86c8" />
<rect x="393.30" y="320.10" width="1.70" height="7.50" fill="#3a86c8" />
<rect x="396.80" y="320.10" width="1.40" height="7.50" fill="#3a86c8" />
<rect x="401.70" y="320.10" width="1.60" height="7.50" fill="#3a86c8" />
<rect x="408.40" y="320.10" width="1.70" height="7.50" fill="#3a86c8" />
<rect x="420.00" y="320.10" width="1.90" height="7.50" fill="#3a86c8" />
<rect x="430.20" y="320.10" width="1.60" height="7.50" fill="#3a86c8" />
<rect x="451.80" y="320.10" width="1.60" height="7.50" fill="#3a86c8" />
<rect x="455.00" y="320.10" width="1.80" height="7.50" fill="#3a86c8" />
<rect x="295.00" y="329.73" width="166.80" height="7.50" fill="#efefef" />
<rect x="298.10" y="329.73" width="1.80" height="7.50" fill="#1e1e1e" />
<rect x="315.00" y="329.73" width="1.80" height="7.50" fill="#3a86c8" />
<rect x="321.80" y="329.73" width="1.30" height="7.50" fill="#1e1e1e" />
<rect x="333.30" y="329.73" width="1.60" height="7.50" fill="#1e1e1e" />
<rect x="334.90" y="329.73" width="2.00" height="7.50" fill="#e4262b" />
<rect x="338.20" y="329.73" width="1.60" height="7.50" fill="#3a86c8" />
<rect x="343.30" y="329.73" width="1.50" height="7.50" fill="#1e1e1e" />
<rect x="348.40" y="329.73" width="1.60" height="7.50" fill="#1e1e1e" />
<rect x="353.20" y="329.73" width="1.60" height="7.50" fill="#e4262b" />
<rect x="360.20" y="329.73" width="1.40" height="7.50" fill="#1e1e1e" />
<rect x="363.50" y="329.73" width="3.20" height="7.50" fill="#1e1e1e" />
<rect x="370.20" y="329.73" width="1.30" height="7.50" fill="#3a86c8" />
<rect x="375.00" y="329.73" width="1.90" height="7.50" fill="#e4262b" />
<rect x="376.90" y="329.73" width="1.10" height="7.50" fill="#9b4fb0" />
<rect x="380.20" y="329.73" width="1.60" height="7.50" fill="#3a86c8" />
<rect x="385.00" y="329.73" width="1.60" height="7.50" fill="#1e1e1e" />
<rect x="392.00" y="329.73" width="1.30" height="7.50" fill="#3a86c8" />
<rect x="396.80" y="329.73" width="1.70" height="7.50" fill="#3a86c8" />
<rect x="398.50" y="329.73" width="1.30" height="7.50" fill="#1e1e1e" />
<rect x="403.30" y="329.73" width="1.60" height="7.50" fill="#e4262b" />
<rect x="408.40" y="329.73" width="1.70" height="7.50" fill="#3a86c8" />
<rect x="418.40" y="329.73" width="1.60" height="7.50" fill="#e4262b" />
<rect x="451.80" y="329.73" width="1.60" height="7.50" fill="#1e1e1e" />
<rect x="295.00" y="339.36" width="166.80" height="7.50" fill="#efefef" />
<rect x="296.70" y="339.36" width="1.40" height="7.50" fill="#3a86c8" />
<rect x="305.00" y="339.36" width="1.70" height="7.50" fill="#1e1e1e" />
<rect x="313.20" y="339.36" width="1.50" height="7.50" fill="#f7901e" />
<rect x="316.60" y="339.36" width="1.60" height="7.50" fill="#f7901e" />
<rect x="333.30" y="339.36" width="1.60" height="7.50" fill="#f7901e" />
<rect x="353.20" y="339.36" width="1.60" height="7.50" fill="#1e1e1e" />
<rect x="363.50" y="339.36" width="1.40" height="7.50" fill="#f7901e" />
<rect x="376.90" y="339.36" width="1.30" height="7.50" fill="#f7901e" />
<rect x="386.80" y="339.36" width="1.40" height="7.50" fill="#1e1e1e" />
<rect x="392.00" y="339.36" width="1.30" height="7.50" fill="#1e1e1e" />
<rect x="396.80" y="339.36" width="1.40" height="7.50" fill="#3a86c8" />
<rect x="403.30" y="339.36" width="1.60" height="7.50" fill="#1e1e1e" />
<rect x="406.50" y="339.36" width="1.90" height="7.50" fill="#1e1e1e" />
<rect x="408.40" y="339.36" width="1.70" height="7.50" fill="#3a86c8" />
<rect x="410.10" y="339.36" width="1.80" height="7.50" fill="#f7901e" />
<rect x="418.40" y="339.36" width="1.40" height="7.50" fill="#1e1e1e" />
<rect x="419.80" y="339.36" width="2.10" height="7.50" fill="#3a86c8" />
<rect x="427.00" y="339.36" width="1.60" height="7.50" fill="#e4262b" />
<rect x="433.50" y="339.36" width="1.60" height="7.50" fill="#e4262b" />
<rect x="455.00" y="339.36" width="1.60" height="7.50" fill="#1e1e1e" />
<rect x="295.00" y="348.99" width="166.80" height="7.50" fill="#efefef" />
<rect x="315.00" y="348.99" width="1.80" height="7.50" fill="#3a86c8" />
<rect x="328.20" y="348.99" width="1.60" height="7.50" fill="#3a86c8" />
<rect x="353.20" y="348.99" width="1.60" height="7.50" fill="#3a86c8" />
<rect x="358.40" y="348.99" width="1.50" height="7.50" fill="#3a86c8" />
<rect x="365.10" y="348.99" width="1.60" height="7.50" fill="#1e1e1e" />
<rect x="366.70" y="348.99" width="1.40" height="7.50" fill="#3a86c8" />
<rect x="370.20" y="348.99" width="1.30" height="7.50" fill="#3a86c8" />
<rect x="373.50" y="348.99" width="1.50" height="7.50" fill="#1e1e1e" />
<rect x="381.80" y="348.99" width="1.40" height="7.50" fill="#3a86c8" />
<rect x="392.00" y="348.99" width="1.30" height="7.50" fill="#1e1e1e" />
<rect x="398.70" y="348.99" width="1.40" height="7.50" fill="#3a86c8" />
<rect x="403.30" y="348.99" width="1.60" height="7.50" fill="#3a86c8" />
<rect x="404.90" y="348.99" width="2.00" height="7.50" fill="#e4262b" />
<rect x="408.40" y="348.99" width="1.70" height="7.50" fill="#3a86c8" />
<rect x="415.20" y="348.99" width="1.60" height="7.50" fill="#e4262b" />
<rect x="418.40" y="348.99" width="1.40" height="7.50" fill="#1e1e1e" />
<rect x="425.20" y="348.99" width="1.50" height="7.50" fill="#3a86c8" />
<rect x="437.00" y="348.99" width="1.30" height="7.50" fill="#3a86c8" />
<rect x="453.40" y="348.99" width="1.60" height="7.50" fill="#3a86c8" />
<rect x="295.00" y="358.62" width="166.80" height="7.50" fill="#efefef" />
<rect x="295.10" y="358.62" width="1.30" height="7.50" fill="#3a86c8" />
<rect x="306.70" y="358.62" width="1.50" height="7.50" fill="#3a86c8" />
<rect x="311.80" y="358.62" width="1.40" height="7.50" fill="#3a86c8" />
<rect x="316.60" y="358.62" width="1.60" height="7.50" fill="#3a86c8" />
<rect x="336.90" y="358.62" width="1.30" height="7.50" fill="#3a86c8" />
<rect x="338.80" y="358.62" width="1.20" height="7.50" fill="#3a86c8" />
<rect x="340.30" y="358.62" width="1.10" height="7.50" fill="#3a86c8" />
<rect x="370.20" y="358.62" width="3.00" height="7.50" fill="#3a86c8" />
<rect x="383.40" y="358.62" width="1.60" height="7.50" fill="#3a86c8" />
<rect x="393.30" y="358.62" width="3.50" height="7.50" fill="#3a86c8" />
<rect x="404.90" y="358.62" width="2.20" height="7.50" fill="#3a86c8" />
<rect x="415.20" y="358.62" width="1.60" height="7.50" fill="#3a86c8" />
<rect x="425.20" y="358.62" width="1.50" height="7.50" fill="#3a86c8" />
<rect x="428.40" y="358.62" width="1.50" height="7.50" fill="#3a86c8" />
<rect x="437.00" y="358.62" width="1.30" height="7.50" fill="#3a86c8" />
<rect x="295.00" y="368.25" width="166.80" height="7.50" fill="#efefef" />
<rect x="341.90" y="368.25" width="1.40" height="7.50" fill="#3a86c8" />
<rect x="345.20" y="368.25" width="1.60" height="7.50" fill="#3a86c8" />
<rect x="352.00" y="368.25" width="1.30" height="7.50" fill="#3a86c8" />
<rect x="353.60" y="368.25" width="1.20" height="7.50" fill="#3a86c8" />
<rect x="367.00" y="368.25" width="1.30" height="7.50" fill="#3a86c8" />
<rect x="370.20" y="368.25" width="1.30" height="7.50" fill="#3a86c8" />
<rect x="386.80" y="368.25" width="1.40" height="7.50" fill="#3a86c8" />
<rect x="403.30" y="368.25" width="1.60" height="7.50" fill="#3a86c8" />
<rect x="408.40" y="368.25" width="1.40" height="7.50" fill="#3a86c8" />
<rect x="411.90" y="368.25" width="1.40" height="7.50" fill="#3a86c8" />
<rect x="420.20" y="368.25" width="1.40" height="7.50" fill="#3a86c8" />
<rect x="428.40" y="368.25" width="6.50" height="7.50" fill="#3a86c8" />
<rect x="442.10" y="368.25" width="1.40" height="7.50" fill="#3a86c8" />
<rect x="453.90" y="368.25" width="1.40" height="7.50" fill="#3a86c8" />
<rect x="295.00" y="377.88" width="166.80" height="7.50" fill="#efefef" />
<rect x="318.60" y="377.88" width="1.50" height="7.50" fill="#f7901e" />
<rect x="341.90" y="377.88" width="1.40" height="7.50" fill="#3a86c8" />
<rect x="345.20" y="377.88" width="1.60" height="7.50" fill="#3a86c8" />
<rect x="363.50" y="377.88" width="1.40" height="7.50" fill="#9b4fb0" />
<rect x="364.90" y="377.88" width="5.00" height="7.50" fill="#3a86c8" />
<rect x="380.20" y="377.88" width="1.60" height="7.50" fill="#1e1e1e" />
<rect x="385.00" y="377.88" width="1.80" height="7.50" fill="#3a86c8" />
<rect x="386.80" y="377.88" width="1.40" height="7.50" fill="#9b4fb0" />
<rect x="396.80" y="377.88" width="1.40" height="7.50" fill="#3a86c8" />
<rect x="403.30" y="377.88" width="1.60" height="7.50" fill="#3a86c8" />
<rect x="408.40" y="377.88" width="1.40" height="7.50" fill="#3a86c8" />
<rect x="418.70" y="377.88" width="1.30" height="7.50" fill="#3a86c8" />
<rect x="420.00" y="377.88" width="1.60" height="7.50" fill="#1e1e1e" />
<rect x="442.10" y="377.88" width="1.40" height="7.50" fill="#1e1e1e" />
<rect x="450.20" y="377.88" width="1.60" height="7.50" fill="#e4262b" />
<rect x="295.00" y="387.51" width="166.80" height="7.50" fill="#efefef" />
<rect x="298.30" y="387.51" width="1.60" height="7.50" fill="#3a86c8" />
<rect x="316.80" y="387.51" width="1.40" height="7.50" fill="#3a86c8" />
<rect x="321.80" y="387.51" width="1.50" height="7.50" fill="#3a86c8" />
<rect x="330.10" y="387.51" width="1.80" height="7.50" fill="#1e1e1e" />
<rect x="334.90" y="387.51" width="1.60" height="7.50" fill="#3a86c8" />
<rect x="343.30" y="387.51" width="1.50" height="7.50" fill="#3a86c8" />
<rect x="348.40" y="387.51" width="1.60" height="7.50" fill="#3a86c8" />
<rect x="353.40" y="387.51" width="1.40" height="7.50" fill="#3a86c8" />
<rect x="365.10" y="387.51" width="1.60" height="7.50" fill="#3a86c8" />
<rect x="370.20" y="387.51" width="1.30" height="7.50" fill="#3a86c8" />
<rect x="375.00" y="387.51" width="1.70" height="7.50" fill="#f7901e" />
<rect x="393.30" y="387.51" width="1.40" height="7.50" fill="#f7901e" />
<rect x="402.20" y="387.51" width="2.70" height="7.50" fill="#3a86c8" />
<rect x="416.80" y="387.51" width="1.30" height="7.50" fill="#3a86c8" />
<rect x="420.00" y="387.51" width="1.60" height="7.50" fill="#3a86c8" />
<rect x="295.00" y="397.14" width="166.80" height="7.50" fill="#efefef" />
<rect x="298.30" y="397.14" width="1.60" height="7.50" fill="#1e1e1e" />
<rect x="321.80" y="397.14" width="1.50" height="7.50" fill="#3a86c8" />
<rect x="334.90" y="397.14" width="1.60" height="7.50" fill="#3a86c8" />
<rect x="353.40" y="397.14" width="1.40" height="7.50" fill="#3a86c8" />
<rect x="358.40" y="397.14" width="1.50" height="7.50" fill="#3a86c8" />
<rect x="375.00" y="397.14" width="1.70" height="7.50" fill="#3a86c8" />
<rect x="390.10" y="397.14" width="3.00" height="7.50" fill="#3a86c8" />
<rect x="396.80" y="397.14" width="3.30" height="7.50" fill="#3a86c8" />
<rect x="403.30" y="397.14" width="1.60" height="7.50" fill="#3a86c8" />
<rect x="413.50" y="397.14" width="3.30" height="7.50" fill="#3a86c8" />
<rect x="416.80" y="397.14" width="1.30" height="7.50" fill="#1e1e1e" />
<rect x="418.10" y="397.14" width="1.70" height="7.50" fill="#3a86c8" />
<rect x="433.80" y="397.14" width="1.30" height="7.50" fill="#3a86c8" />
<rect x="295.00" y="406.77" width="166.80" height="7.50" fill="#efefef" />
<rect x="298.30" y="406.77" width="1.60" height="7.50" fill="#f7901e" />
<rect x="316.80" y="406.77" width="3.00" height="7.50" fill="#3a86c8" />
<rect x="348.40" y="406.77" width="3.20" height="7.50" fill="#3a86c8" />
<rect x="365.10" y="406.77" width="1.60" height="7.50" fill="#3a86c8" />
<rect x="371.80" y="406.77" width="1.40" height="7.50" fill="#3a86c8" />
<rect x="375.00" y="406.77" width="1.70" height="7.50" fill="#f7901e" />
<rect x="380.20" y="406.77" width="1.60" height="7.50" fill="#3a86c8" />
<rect x="398.70" y="406.77" width="1.40" height="7.50" fill="#3a86c8" />
<rect x="413.50" y="406.77" width="1.30" height="7.50" fill="#3a86c8" />
<rect x="416.80" y="406.77" width="3.00" height="7.50" fill="#3a86c8" />
<rect x="421.90" y="406.77" width="1.30" height="7.50" fill="#3a86c8" />
<rect x="425.20" y="406.77" width="1.30" height="7.50" fill="#f7901e" />
<rect x="450.20" y="406.77" width="1.60" height="7.50" fill="#3a86c8" />
<rect x="295.00" y="416.40" width="166.80" height="7.50" fill="#efefef" />
<rect x="311.80" y="416.40" width="1.40" height="7.50" fill="#3a86c8" />
<rect x="328.20" y="416.40" width="1.60" height="7.50" fill="#3a86c8" />
<rect x="357.00" y="416.40" width="1.40" height="7.50" fill="#3a86c8" />
<rect x="373.50" y="416.40" width="1.50" height="7.50" fill="#3a86c8" />
<rect x="380.20" y="416.40" width="1.60" height="7.50" fill="#3a86c8" />
<rect x="381.80" y="416.40" width="1.60" height="7.50" fill="#f7901e" />
<rect x="390.10" y="416.40" width="1.70" height="7.50" fill="#3a86c8" />
<rect x="403.30" y="416.40" width="1.60" height="7.50" fill="#3a86c8" />
<rect x="406.00" y="416.40" width="0.90" height="7.50" fill="#3a86c8" />
<rect x="408.70" y="416.40" width="1.40" height="7.50" fill="#3a86c8" />
<rect x="410.10" y="416.40" width="1.50" height="7.50" fill="#f7901e" />
<rect x="413.30" y="416.40" width="1.30" height="7.50" fill="#3a86c8" />
<rect x="425.20" y="416.40" width="2.90" height="7.50" fill="#3a86c8" />
<rect x="440.20" y="416.40" width="1.30" height="7.50" fill="#3a86c8" />
<rect x="448.90" y="416.40" width="1.30" height="7.50" fill="#3a86c8" />
<rect x="295.00" y="426.03" width="166.80" height="7.50" fill="#efefef" />
<rect x="308.20" y="426.03" width="1.70" height="7.50" fill="#3a86c8" />
<rect x="309.90" y="426.03" width="1.50" height="7.50" fill="#e4262b" />
<rect x="316.60" y="426.03" width="1.60" height="7.50" fill="#e4262b" />
<rect x="319.80" y="426.03" width="1.70" height="7.50" fill="#1e1e1e" />
<rect x="321.50" y="426.03" width="1.60" height="7.50" fill="#e4262b" />
<rect x="360.20" y="426.03" width="1.40" height="7.50" fill="#1e1e1e" />
<rect x="370.20" y="426.03" width="1.30" height="7.50" fill="#1e1e1e" />
<rect x="385.00" y="426.03" width="1.60" height="7.50" fill="#3a86c8" />
<rect x="386.60" y="426.03" width="1.30" height="7.50" fill="#1e1e1e" />
<rect x="398.50" y="426.03" width="1.60" height="7.50" fill="#3a86c8" />
<rect x="401.90" y="426.03" width="1.40" height="7.50" fill="#1e1e1e" />
<rect x="408.40" y="426.03" width="1.70" height="7.50" fill="#1e1e1e" />
<rect x="417.00" y="426.03" width="3.00" height="7.50" fill="#3a86c8" />
<rect x="453.40" y="426.03" width="1.60" height="7.50" fill="#e4262b" />
<rect x="295.00" y="435.66" width="166.80" height="7.50" fill="#efefef" />
<rect x="313.20" y="435.66" width="1.50" height="7.50" fill="#1e1e1e" />
<rect x="344.80" y="435.66" width="2.00" height="7.50" fill="#3a86c8" />
<rect x="348.40" y="435.66" width="1.60" height="7.50" fill="#3a86c8" />
<rect x="350.00" y="435.66" width="1.90" height="7.50" fill="#f7901e" />
<rect x="357.00" y="435.66" width="1.40" height="7.50" fill="#3a86c8" />
<rect x="360.20" y="435.66" width="1.40" height="7.50" fill="#1e1e1e" />
<rect x="367.00" y="435.66" width="1.30" height="7.50" fill="#3a86c8" />
<rect x="378.50" y="435.66" width="3.30" height="7.50" fill="#3a86c8" />
<rect x="383.60" y="435.66" width="1.40" height="7.50" fill="#3a86c8" />
<rect x="386.80" y="435.66" width="1.40" height="7.50" fill="#3a86c8" />
<rect x="406.90" y="435.66" width="1.30" height="7.50" fill="#3a86c8" />
<rect x="430.20" y="435.66" width="1.60" height="7.50" fill="#3a86c8" />
<rect x="435.10" y="435.66" width="1.60" height="7.50" fill="#3a86c8" />
<rect x="442.10" y="435.66" width="1.40" height="7.50" fill="#3a86c8" />
<rect x="295.00" y="445.29" width="166.80" height="7.50" fill="#efefef" />
<rect x="299.90" y="445.29" width="1.60" height="7.50" fill="#3a86c8" />
<rect x="305.00" y="445.29" width="1.40" height="7.50" fill="#3a86c8" />
<rect x="313.20" y="445.29" width="1.50" height="7.50" fill="#3a86c8" />
<rect x="328.20" y="445.29" width="1.60" height="7.50" fill="#3a86c8" />
<rect x="334.90" y="445.29" width="1.60" height="7.50" fill="#3a86c8" />
<rect x="348.40" y="445.29" width="1.60" height="7.50" fill="#3a86c8" />
<rect x="358.40" y="445.29" width="1.50" height="7.50" fill="#9b4fb0" />
<rect x="368.50" y="445.29" width="3.00" height="7.50" fill="#3a86c8" />
<rect x="380.20" y="445.29" width="1.60" height="7.50" fill="#3a86c8" />
<rect x="385.00" y="445.29" width="1.80" height="7.50" fill="#9b4fb0" />
<rect x="400.10" y="445.29" width="1.60" height="7.50" fill="#3a86c8" />
<rect x="408.40" y="445.29" width="3.50" height="7.50" fill="#3a86c8" />
<rect x="442.10" y="445.29" width="1.40" height="7.50" fill="#3a86c8" />
<rect x="295.00" y="456.00" width="166.80" height="12.00" fill="#efefef" />
<rect x="295.00" y="470.00" width="166.80" height="12.00" fill="#efefef" />
<rect x="296.40" y="456.00" width="1.90" height="12.00" fill="#000" />
<rect x="301.30" y="456.00" width="1.90" height="12.00" fill="#000" />
<rect x="306.70" y="456.00" width="8.30" height="12.00" fill="#000" />
<rect x="321.50" y="456.00" width="1.60" height="12.00" fill="#000" />
<rect x="326.80" y="456.00" width="1.70" height="12.00" fill="#000" />
<rect x="334.90" y="456.00" width="1.60" height="12.00" fill="#000" />
<rect x="343.00" y="456.00" width="1.80" height="12.00" fill="#000" />
<rect x="346.80" y="456.00" width="1.60" height="12.00" fill="#000" />
<rect x="353.00" y="456.00" width="1.80" height="12.00" fill="#000" />
<rect x="359.90" y="456.00" width="1.70" height="12.00" fill="#000" />
<rect x="372.10" y="456.00" width="2.90" height="12.00" fill="#000" />
<rect x="383.20" y="456.00" width="1.80" height="12.00" fill="#000" />
<rect x="386.80" y="456.00" width="3.30" height="12.00" fill="#000" />
<rect x="408.40" y="456.00" width="1.70" height="12.00" fill="#000" />
<rect x="413.30" y="456.00" width="1.50" height="12.00" fill="#000" />
<rect x="418.70" y="456.00" width="2.90" height="12.00" fill="#000" />
<rect x="425.20" y="456.00" width="1.50" height="12.00" fill="#000" />
<rect x="428.40" y="456.00" width="1.50" height="12.00" fill="#000" />
<rect x="296.40" y="470.00" width="1.90" height="12.00" fill="#000" />
<rect x="301.30" y="470.00" width="1.90" height="12.00" fill="#000" />
<rect x="306.70" y="470.00" width="3.20" height="12.00" fill="#000" />
<rect x="311.40" y="470.00" width="3.60" height="12.00" fill="#000" />
<rect x="321.50" y="470.00" width="1.60" height="12.00" fill="#000" />
<rect x="326.80" y="470.00" width="1.70" height="12.00" fill="#000" />
<rect x="334.90" y="470.00" width="1.60" height="12.00" fill="#000" />
<rect x="343.00" y="470.00" width="1.80" height="12.00" fill="#000" />
<rect x="346.80" y="470.00" width="1.60" height="12.00" fill="#000" />
<rect x="353.00" y="470.00" width="1.80" height="12.00" fill="#000" />
<rect x="373.20" y="470.00" width="1.80" height="12.00" fill="#000" />
<rect x="383.20" y="470.00" width="1.80" height="12.00" fill="#000" />
<rect x="408.40" y="470.00" width="1.70" height="12.00" fill="#000" />
<rect x="413.30" y="470.00" width="1.50" height="12.00" fill="#000" />
<rect x="420.00" y="470.00" width="1.60" height="12.00" fill="#000" />
<rect x="428.40" y="470.00" width="1.50" height="12.00" fill="#000" />
</g>
<text x="292.40" y="279.50" font-size="9.2" text-anchor="end" font-style="italic" stroke="#231f20" stroke-width="0.2" textLength="19.3" lengthAdjust="spacingAndGlyphs" >MLL2</text>
<text x="463.00" y="279.10" font-size="9.2" stroke="#231f20" stroke-width="0.2" textLength="14.9" lengthAdjust="spacingAndGlyphs" >40%</text>
<text x="292.40" y="289.13" font-size="9.2" text-anchor="end" font-style="italic" stroke="#231f20" stroke-width="0.2" textLength="29.6" lengthAdjust="spacingAndGlyphs" >CREBBP</text>
<text x="463.00" y="288.73" font-size="9.2" stroke="#231f20" stroke-width="0.2" textLength="14.9" lengthAdjust="spacingAndGlyphs" >27%</text>
<text x="292.40" y="298.76" font-size="9.2" text-anchor="end" font-style="italic" stroke="#231f20" stroke-width="0.2" textLength="18.2" lengthAdjust="spacingAndGlyphs" >PIM1</text>
<text x="463.00" y="298.36" font-size="9.2" stroke="#231f20" stroke-width="0.2" textLength="14.9" lengthAdjust="spacingAndGlyphs" >26%</text>
<text x="292.40" y="308.39" font-size="9.2" text-anchor="end" font-style="italic" stroke="#231f20" stroke-width="0.2" textLength="17.7" lengthAdjust="spacingAndGlyphs" >TP53</text>
<text x="463.00" y="307.99" font-size="9.2" stroke="#231f20" stroke-width="0.2" textLength="14.9" lengthAdjust="spacingAndGlyphs" >25%</text>
<text x="292.40" y="318.02" font-size="9.2" text-anchor="end" font-style="italic" stroke="#231f20" stroke-width="0.2" textLength="35.8" lengthAdjust="spacingAndGlyphs" >HIST1H1E</text>
<text x="463.00" y="317.62" font-size="9.2" stroke="#231f20" stroke-width="0.2" textLength="14.9" lengthAdjust="spacingAndGlyphs" >25%</text>
<text x="292.40" y="327.65" font-size="9.2" text-anchor="end" font-style="italic" stroke="#231f20" stroke-width="0.2" textLength="18.8" lengthAdjust="spacingAndGlyphs" >BCL2</text>
<text x="463.00" y="327.25" font-size="9.2" stroke="#231f20" stroke-width="0.2" textLength="14.9" lengthAdjust="spacingAndGlyphs" >25%</text>
<text x="292.40" y="337.28" font-size="9.2" text-anchor="end" font-style="italic" stroke="#231f20" stroke-width="0.2" textLength="25" lengthAdjust="spacingAndGlyphs" >SOCS1</text>
<text x="463.00" y="336.88" font-size="9.2" stroke="#231f20" stroke-width="0.2" textLength="14.9" lengthAdjust="spacingAndGlyphs" >24%</text>
<text x="292.40" y="346.91" font-size="9.2" text-anchor="end" font-style="italic" stroke="#231f20" stroke-width="0.2" textLength="16.6" lengthAdjust="spacingAndGlyphs" >B2M</text>
<text x="463.00" y="346.51" font-size="9.2" stroke="#231f20" stroke-width="0.2" textLength="14.9" lengthAdjust="spacingAndGlyphs" >20%</text>
<text x="292.40" y="356.54" font-size="9.2" text-anchor="end" font-style="italic" stroke="#231f20" stroke-width="0.2" textLength="19.7" lengthAdjust="spacingAndGlyphs" >BTG1</text>
<text x="463.00" y="356.14" font-size="9.2" stroke="#231f20" stroke-width="0.2" textLength="14.9" lengthAdjust="spacingAndGlyphs" >19%</text>
<text x="292.40" y="366.17" font-size="9.2" text-anchor="end" font-style="italic" stroke="#231f20" stroke-width="0.2" textLength="26.2" lengthAdjust="spacingAndGlyphs" >MYD88</text>
<text x="463.00" y="365.77" font-size="9.2" stroke="#231f20" stroke-width="0.2" textLength="14.9" lengthAdjust="spacingAndGlyphs" >17%</text>
<text x="292.40" y="375.80" font-size="9.2" text-anchor="end" font-style="italic" stroke="#231f20" stroke-width="0.2" textLength="18.8" lengthAdjust="spacingAndGlyphs" >EZH2</text>
<text x="463.00" y="375.40" font-size="9.2" stroke="#231f20" stroke-width="0.2" textLength="14.9" lengthAdjust="spacingAndGlyphs" >17%</text>
<text x="292.40" y="385.43" font-size="9.2" text-anchor="end" font-style="italic" stroke="#231f20" stroke-width="0.2" textLength="26.6" lengthAdjust="spacingAndGlyphs" >GNA13</text>
<text x="463.00" y="385.03" font-size="9.2" stroke="#231f20" stroke-width="0.2" textLength="14.9" lengthAdjust="spacingAndGlyphs" >17%</text>
<text x="292.40" y="395.06" font-size="9.2" text-anchor="end" font-style="italic" stroke="#231f20" stroke-width="0.2" textLength="19.9" lengthAdjust="spacingAndGlyphs" >SGK1</text>
<text x="463.00" y="394.66" font-size="9.2" stroke="#231f20" stroke-width="0.2" textLength="14.9" lengthAdjust="spacingAndGlyphs" >16%</text>
<text x="292.40" y="404.69" font-size="9.2" text-anchor="end" font-style="italic" stroke="#231f20" stroke-width="0.2" textLength="20.2" lengthAdjust="spacingAndGlyphs" >ACTB</text>
<text x="463.00" y="404.29" font-size="9.2" stroke="#231f20" stroke-width="0.2" textLength="14.9" lengthAdjust="spacingAndGlyphs" >16%</text>
<text x="292.40" y="414.32" font-size="9.2" text-anchor="end" font-style="italic" stroke="#231f20" stroke-width="0.2" textLength="24.5" lengthAdjust="spacingAndGlyphs" >DUSP2</text>
<text x="463.00" y="413.92" font-size="9.2" stroke="#231f20" stroke-width="0.2" textLength="14.9" lengthAdjust="spacingAndGlyphs" >16%</text>
<text x="292.40" y="423.95" font-size="9.2" text-anchor="end" font-style="italic" stroke="#231f20" stroke-width="0.2" textLength="19.9" lengthAdjust="spacingAndGlyphs" >BTG2</text>
<text x="463.00" y="423.55" font-size="9.2" stroke="#231f20" stroke-width="0.2" textLength="14.9" lengthAdjust="spacingAndGlyphs" >15%</text>
<text x="292.40" y="433.58" font-size="9.2" text-anchor="end" font-style="italic" stroke="#231f20" stroke-width="0.2" textLength="27.8" lengthAdjust="spacingAndGlyphs" >ARID1A</text>
<text x="463.00" y="433.18" font-size="9.2" stroke="#231f20" stroke-width="0.2" textLength="14.9" lengthAdjust="spacingAndGlyphs" >15%</text>
<text x="292.40" y="443.21" font-size="9.2" text-anchor="end" font-style="italic" stroke="#231f20" stroke-width="0.2" textLength="25.3" lengthAdjust="spacingAndGlyphs" >MEF2B</text>
<text x="463.00" y="442.81" font-size="9.2" stroke="#231f20" stroke-width="0.2" textLength="14.9" lengthAdjust="spacingAndGlyphs" >15%</text>
<text x="292.40" y="452.84" font-size="9.2" text-anchor="end" font-style="italic" stroke="#231f20" stroke-width="0.2" textLength="30.4" lengthAdjust="spacingAndGlyphs" >CARD11</text>
<text x="463.00" y="452.44" font-size="9.2" stroke="#231f20" stroke-width="0.2" textLength="14.9" lengthAdjust="spacingAndGlyphs" >15%</text>
<text x="291.50" y="465.50" font-size="10.2" text-anchor="end" stroke="#231f20" stroke-width="0.2" textLength="26.5" lengthAdjust="spacingAndGlyphs" >Failure</text>
<text x="291.50" y="479.60" font-size="10.2" text-anchor="end" stroke="#231f20" stroke-width="0.2" textLength="24" lengthAdjust="spacingAndGlyphs" >Death</text>
<polyline points="461.5,270 512.7,270 512.7,525 490,525" fill="none" stroke="#333" stroke-width="0.8" stroke-dasharray="0.9 1.3"/>
<polyline points="295,309 242.6,309 164,446.5" fill="none" stroke="#333" stroke-width="0.8" stroke-dasharray="0.9 1.3"/>
<text x="7.80" y="349.40" font-size="11.5" font-weight="bold" fill="#000" >D</text>
<line x1="56.00" y1="356.50" x2="56.00" y2="440.00" stroke="#111" stroke-width="1.1" />
<line x1="56.00" y1="443.20" x2="56.00" y2="447.00" stroke="#111" stroke-width="1.1" />
<line x1="54.50" y1="440.00" x2="57.50" y2="441.50" stroke="#111" stroke-width="0.8" />
<line x1="54.50" y1="441.70" x2="57.50" y2="443.20" stroke="#111" stroke-width="0.8" />
<line x1="55.50" y1="446.80" x2="163.50" y2="446.80" stroke="#111" stroke-width="1.1" />
<line x1="53.20" y1="360.20" x2="56.00" y2="360.20" stroke="#111" stroke-width="0.9" />
<text x="51.00" y="363.10" font-size="8.0" text-anchor="end" stroke="#231f20" stroke-width="0.2" textLength="14.8" lengthAdjust="spacingAndGlyphs" >5.00</text>
<line x1="53.20" y1="372.90" x2="56.00" y2="372.90" stroke="#111" stroke-width="0.9" />
<text x="51.00" y="375.80" font-size="8.0" text-anchor="end" stroke="#231f20" stroke-width="0.2" textLength="14.8" lengthAdjust="spacingAndGlyphs" >4.00</text>
<line x1="53.20" y1="385.80" x2="56.00" y2="385.80" stroke="#111" stroke-width="0.9" />
<text x="51.00" y="388.70" font-size="8.0" text-anchor="end" stroke="#231f20" stroke-width="0.2" textLength="14.8" lengthAdjust="spacingAndGlyphs" >3.00</text>
<line x1="53.20" y1="398.60" x2="56.00" y2="398.60" stroke="#111" stroke-width="0.9" />
<text x="51.00" y="401.50" font-size="8.0" text-anchor="end" stroke="#231f20" stroke-width="0.2" textLength="14.8" lengthAdjust="spacingAndGlyphs" >2.00</text>
<line x1="53.20" y1="411.30" x2="56.00" y2="411.30" stroke="#111" stroke-width="0.9" />
<text x="51.00" y="414.20" font-size="8.0" text-anchor="end" stroke="#231f20" stroke-width="0.2" textLength="14.8" lengthAdjust="spacingAndGlyphs" >1.00</text>
<line x1="53.20" y1="424.10" x2="56.00" y2="424.10" stroke="#111" stroke-width="0.9" />
<text x="51.00" y="427.00" font-size="8.0" text-anchor="end" stroke="#231f20" stroke-width="0.2" textLength="14.8" lengthAdjust="spacingAndGlyphs" >0.00</text>
<line x1="53.20" y1="436.60" x2="56.00" y2="436.60" stroke="#111" stroke-width="0.9" />
<text x="51.00" y="439.50" font-size="8.0" text-anchor="end" stroke="#231f20" stroke-width="0.2" textLength="19" lengthAdjust="spacingAndGlyphs" >−1.00</text>
<line x1="53.20" y1="444.30" x2="56.00" y2="444.30" stroke="#111" stroke-width="0.9" />
<text x="51.00" y="447.20" font-size="8.0" text-anchor="end" stroke="#231f20" stroke-width="0.2" textLength="10.5" lengthAdjust="spacingAndGlyphs" >ND</text>
<text x="15.30" y="401.50" font-size="8.4" text-anchor="middle" stroke="#231f20" stroke-width="0.2" textLength="91" lengthAdjust="spacingAndGlyphs" transform="rotate(-90 15.30 401.50)" >Pretreatment ctDNA burden</text>
<text x="24.30" y="402.00" font-size="8.4" text-anchor="middle" stroke="#231f20" stroke-width="0.2" textLength="43" lengthAdjust="spacingAndGlyphs" transform="rotate(-90 24.30 402.00)" >(log hGE/ml)</text>
<rect x="67.8" y="383.1" width="35.7" height="11.1" fill="#86a5c8" stroke="#333" stroke-width="0.8"/>
<line x1="67.80" y1="387.70" x2="103.50" y2="387.70" stroke="#222" stroke-width="1.0" />
<rect x="115.8" y="369.9" width="35.7" height="13.2" fill="#e8909f" stroke="#333" stroke-width="0.8"/>
<line x1="115.80" y1="375.10" x2="151.50" y2="375.10" stroke="#222" stroke-width="1.0" />
<line x1="85.80" y1="360.00" x2="85.80" y2="417.00" stroke="#333" stroke-width="0.8" />
<line x1="133.50" y1="365.00" x2="133.50" y2="398.00" stroke="#333" stroke-width="0.8" />
<circle cx="82.23" cy="390.10" r="1.5" fill="#1a4f8a" />
<circle cx="88.83" cy="387.44" r="1.5" fill="#1a4f8a" />
<circle cx="81.97" cy="388.81" r="1.5" fill="#1a4f8a" />
<circle cx="87.23" cy="392.28" r="1.5" fill="#1a4f8a" />
<circle cx="82.75" cy="385.76" r="1.5" fill="#1a4f8a" />
<circle cx="88.09" cy="390.54" r="1.5" fill="#1a4f8a" />
<circle cx="89.59" cy="391.43" r="1.5" fill="#1a4f8a" />
<circle cx="85.44" cy="388.04" r="1.5" fill="#1a4f8a" />
<circle cx="90.68" cy="388.45" r="1.5" fill="#1a4f8a" />
<circle cx="83.57" cy="385.77" r="1.5" fill="#1a4f8a" />
<circle cx="86.14" cy="389.51" r="1.5" fill="#1a4f8a" />
<circle cx="84.60" cy="388.78" r="1.5" fill="#1a4f8a" />
<circle cx="86.70" cy="391.29" r="1.5" fill="#1a4f8a" />
<circle cx="89.14" cy="389.64" r="1.5" fill="#1a4f8a" />
<circle cx="81.53" cy="390.68" r="1.5" fill="#1a4f8a" />
<circle cx="81.83" cy="388.52" r="1.5" fill="#1a4f8a" />
<circle cx="81.73" cy="389.01" r="1.5" fill="#1a4f8a" />
<circle cx="83.26" cy="389.70" r="1.5" fill="#1a4f8a" />
<circle cx="90.79" cy="388.93" r="1.5" fill="#1a4f8a" />
<circle cx="88.06" cy="385.45" r="1.5" fill="#1a4f8a" />
<circle cx="84.84" cy="391.20" r="1.5" fill="#1a4f8a" />
<circle cx="85.48" cy="390.29" r="1.5" fill="#1a4f8a" />
<circle cx="86.12" cy="385.85" r="1.5" fill="#1a4f8a" />
<circle cx="87.57" cy="386.45" r="1.5" fill="#1a4f8a" />
<circle cx="90.24" cy="387.80" r="1.5" fill="#1a4f8a" />
<circle cx="88.09" cy="389.01" r="1.5" fill="#1a4f8a" />
<circle cx="88.70" cy="387.17" r="1.5" fill="#1a4f8a" />
<circle cx="88.93" cy="388.61" r="1.5" fill="#1a4f8a" />
<circle cx="89.36" cy="390.76" r="1.5" fill="#1a4f8a" />
<circle cx="86.26" cy="386.44" r="1.5" fill="#1a4f8a" />
<circle cx="88.26" cy="390.50" r="1.5" fill="#1a4f8a" />
<circle cx="90.04" cy="388.03" r="1.5" fill="#1a4f8a" />
<circle cx="87.63" cy="390.68" r="1.5" fill="#1a4f8a" />
<circle cx="86.79" cy="389.73" r="1.5" fill="#1a4f8a" />
<circle cx="86.41" cy="386.98" r="1.5" fill="#1a4f8a" />
<circle cx="82.68" cy="387.78" r="1.5" fill="#1a4f8a" />
<circle cx="87.36" cy="392.98" r="1.5" fill="#1a4f8a" />
<circle cx="88.53" cy="391.94" r="1.5" fill="#1a4f8a" />
<circle cx="88.21" cy="391.17" r="1.5" fill="#1a4f8a" />
<circle cx="86.40" cy="391.53" r="1.5" fill="#1a4f8a" />
<circle cx="90.21" cy="388.19" r="1.5" fill="#1a4f8a" />
<circle cx="84.23" cy="393.43" r="1.5" fill="#1a4f8a" />
<circle cx="86.57" cy="392.04" r="1.5" fill="#1a4f8a" />
<circle cx="88.24" cy="385.83" r="1.5" fill="#1a4f8a" />
<circle cx="89.82" cy="391.93" r="1.5" fill="#1a4f8a" />
<circle cx="85.12" cy="364.90" r="1.5" fill="#1a4f8a" />
<circle cx="85.32" cy="377.77" r="1.5" fill="#1a4f8a" />
<circle cx="84.61" cy="366.82" r="1.5" fill="#1a4f8a" />
<circle cx="86.03" cy="362.07" r="1.5" fill="#1a4f8a" />
<circle cx="86.08" cy="365.59" r="1.5" fill="#1a4f8a" />
<circle cx="85.67" cy="368.55" r="1.5" fill="#1a4f8a" />
<circle cx="85.75" cy="382.06" r="1.5" fill="#1a4f8a" />
<circle cx="86.83" cy="373.22" r="1.5" fill="#1a4f8a" />
<circle cx="84.83" cy="364.21" r="1.5" fill="#1a4f8a" />
<circle cx="86.69" cy="380.89" r="1.5" fill="#1a4f8a" />
<circle cx="84.93" cy="365.74" r="1.5" fill="#1a4f8a" />
<circle cx="87.03" cy="377.01" r="1.5" fill="#1a4f8a" />
<circle cx="87.06" cy="364.52" r="1.5" fill="#1a4f8a" />
<circle cx="86.09" cy="380.29" r="1.5" fill="#1a4f8a" />
<circle cx="84.69" cy="369.69" r="1.5" fill="#1a4f8a" />
<circle cx="87.10" cy="360.89" r="1.5" fill="#1a4f8a" />
<circle cx="86.37" cy="365.48" r="1.5" fill="#1a4f8a" />
<circle cx="86.71" cy="365.91" r="1.5" fill="#1a4f8a" />
<circle cx="85.22" cy="373.72" r="1.5" fill="#1a4f8a" />
<circle cx="86.42" cy="364.03" r="1.5" fill="#1a4f8a" />
<circle cx="85.04" cy="361.58" r="1.5" fill="#1a4f8a" />
<circle cx="86.79" cy="372.87" r="1.5" fill="#1a4f8a" />
<circle cx="85.18" cy="374.13" r="1.5" fill="#1a4f8a" />
<circle cx="84.97" cy="381.10" r="1.5" fill="#1a4f8a" />
<circle cx="85.15" cy="360.38" r="1.5" fill="#1a4f8a" />
<circle cx="84.57" cy="370.25" r="1.5" fill="#1a4f8a" />
<circle cx="85.43" cy="364.05" r="1.5" fill="#1a4f8a" />
<circle cx="84.77" cy="373.16" r="1.5" fill="#1a4f8a" />
<circle cx="86.89" cy="368.33" r="1.5" fill="#1a4f8a" />
<circle cx="86.24" cy="382.55" r="1.5" fill="#1a4f8a" />
<circle cx="86.04" cy="375.90" r="1.5" fill="#1a4f8a" />
<circle cx="84.50" cy="363.23" r="1.5" fill="#1a4f8a" />
<circle cx="86.95" cy="360.41" r="1.5" fill="#1a4f8a" />
<circle cx="87.10" cy="376.12" r="1.5" fill="#1a4f8a" />
<circle cx="86.18" cy="360.49" r="1.5" fill="#1a4f8a" />
<circle cx="86.45" cy="371.09" r="1.5" fill="#1a4f8a" />
<circle cx="87.20" cy="367.33" r="1.5" fill="#1a4f8a" />
<circle cx="85.93" cy="361.73" r="1.5" fill="#1a4f8a" />
<circle cx="86.92" cy="376.95" r="1.5" fill="#1a4f8a" />
<circle cx="86.37" cy="376.95" r="1.5" fill="#1a4f8a" />
<circle cx="86.96" cy="412.25" r="1.5" fill="#1a4f8a" />
<circle cx="86.32" cy="402.09" r="1.5" fill="#1a4f8a" />
<circle cx="86.84" cy="414.72" r="1.5" fill="#1a4f8a" />
<circle cx="86.61" cy="403.59" r="1.5" fill="#1a4f8a" />
<circle cx="86.00" cy="413.86" r="1.5" fill="#1a4f8a" />
<circle cx="85.47" cy="408.37" r="1.5" fill="#1a4f8a" />
<circle cx="86.10" cy="407.40" r="1.5" fill="#1a4f8a" />
<circle cx="86.19" cy="395.84" r="1.5" fill="#1a4f8a" />
<circle cx="86.86" cy="416.85" r="1.5" fill="#1a4f8a" />
<circle cx="85.49" cy="410.75" r="1.5" fill="#1a4f8a" />
<circle cx="86.03" cy="410.91" r="1.5" fill="#1a4f8a" />
<circle cx="86.75" cy="404.13" r="1.5" fill="#1a4f8a" />
<circle cx="86.50" cy="395.93" r="1.5" fill="#1a4f8a" />
<circle cx="86.08" cy="394.69" r="1.5" fill="#1a4f8a" />
<circle cx="85.04" cy="405.06" r="1.5" fill="#1a4f8a" />
<circle cx="85.79" cy="410.06" r="1.5" fill="#1a4f8a" />
<circle cx="86.98" cy="408.13" r="1.5" fill="#1a4f8a" />
<circle cx="84.43" cy="399.88" r="1.5" fill="#1a4f8a" />
<circle cx="86.30" cy="400.92" r="1.5" fill="#1a4f8a" />
<circle cx="84.87" cy="398.66" r="1.5" fill="#1a4f8a" />
<circle cx="86.25" cy="414.83" r="1.5" fill="#1a4f8a" />
<circle cx="86.90" cy="404.16" r="1.5" fill="#1a4f8a" />
<circle cx="86.26" cy="401.52" r="1.5" fill="#1a4f8a" />
<circle cx="85.61" cy="398.57" r="1.5" fill="#1a4f8a" />
<circle cx="85.80" cy="436.30" r="1.5" fill="#1a4f8a" />
<circle cx="85.00" cy="443.60" r="1.5" fill="#1a4f8a" />
<circle cx="86.60" cy="443.60" r="1.5" fill="#1a4f8a" />
<circle cx="138.06" cy="386.76" r="1.6" fill="#d0213f" />
<circle cx="132.23" cy="388.77" r="1.6" fill="#d0213f" />
<circle cx="131.48" cy="380.74" r="1.6" fill="#d0213f" />
<circle cx="133.46" cy="368.68" r="1.6" fill="#d0213f" />
<circle cx="137.34" cy="387.60" r="1.6" fill="#d0213f" />
<circle cx="138.45" cy="384.20" r="1.6" fill="#d0213f" />
<circle cx="129.86" cy="372.47" r="1.6" fill="#d0213f" />
<circle cx="131.03" cy="377.17" r="1.6" fill="#d0213f" />
<circle cx="132.55" cy="370.78" r="1.6" fill="#d0213f" />
<circle cx="133.43" cy="381.89" r="1.6" fill="#d0213f" />
<circle cx="137.23" cy="373.52" r="1.6" fill="#d0213f" />
<circle cx="133.34" cy="391.51" r="1.6" fill="#d0213f" />
<circle cx="128.35" cy="367.02" r="1.6" fill="#d0213f" />
<circle cx="128.46" cy="388.57" r="1.6" fill="#d0213f" />
<circle cx="134.28" cy="384.13" r="1.6" fill="#d0213f" />
<circle cx="136.71" cy="373.34" r="1.6" fill="#d0213f" />
<circle cx="129.49" cy="365.52" r="1.6" fill="#d0213f" />
<circle cx="128.27" cy="377.28" r="1.6" fill="#d0213f" />
<circle cx="130.61" cy="387.40" r="1.6" fill="#d0213f" />
<circle cx="128.52" cy="368.80" r="1.6" fill="#d0213f" />
<circle cx="132.91" cy="381.99" r="1.6" fill="#d0213f" />
<circle cx="135.21" cy="382.01" r="1.6" fill="#d0213f" />
<circle cx="138.54" cy="386.80" r="1.6" fill="#d0213f" />
<circle cx="130.19" cy="383.48" r="1.6" fill="#d0213f" />
<circle cx="129.97" cy="377.83" r="1.6" fill="#d0213f" />
<circle cx="133.19" cy="365.29" r="1.6" fill="#d0213f" />
<circle cx="129.97" cy="384.28" r="1.6" fill="#d0213f" />
<circle cx="131.80" cy="372.35" r="1.6" fill="#d0213f" />
<circle cx="133.72" cy="383.83" r="1.6" fill="#d0213f" />
<circle cx="136.32" cy="381.59" r="1.6" fill="#d0213f" />
<circle cx="136.71" cy="375.62" r="1.6" fill="#d0213f" />
<circle cx="128.96" cy="389.47" r="1.6" fill="#d0213f" />
<circle cx="132.50" cy="395.00" r="1.6" fill="#d0213f" />
<circle cx="133.00" cy="398.00" r="1.6" fill="#d0213f" />
<polyline points="85.8,357.3 85.8,354.7 133.5,354.7 133.5,357.3" fill="none" stroke="#222" stroke-width="0.8"/>
<text x="109.70" y="354.00" font-size="10" text-anchor="middle" stroke="#231f20" stroke-width="0.2" textLength="13" lengthAdjust="spacingAndGlyphs" >***</text>
<text x="53.20" y="455.60" font-size="8.4" text-anchor="end" stroke="#231f20" stroke-width="0.2" textLength="26.2" lengthAdjust="spacingAndGlyphs" >Median</text>
<text x="82.80" y="459.70" font-size="8.6" text-anchor="middle" stroke="#231f20" stroke-width="0.2" textLength="14.8" lengthAdjust="spacingAndGlyphs" >2.73</text>
<text x="133.50" y="459.70" font-size="8.6" text-anchor="middle" stroke="#231f20" stroke-width="0.2" textLength="14.8" lengthAdjust="spacingAndGlyphs" >3.74</text>
<text x="83.30" y="469.20" font-size="8.2" text-anchor="middle" stroke="#231f20" stroke-width="0.2" textLength="50.5" lengthAdjust="spacingAndGlyphs" >Wild-type (75)</text>
<text x="135.60" y="469.20" font-size="8.2" text-anchor="middle" stroke="#231f20" stroke-width="0.2" textLength="45" lengthAdjust="spacingAndGlyphs" >Mutated (25)</text>
<text x="109.50" y="481.20" font-size="8.6" text-anchor="middle" font-style="italic" stroke="#231f20" stroke-width="0.2" textLength="16.5" lengthAdjust="spacingAndGlyphs" >TP53</text>
<text x="7.80" y="505.20" font-size="11.5" font-weight="bold" fill="#000" >E</text>
<line x1="41.70" y1="528.30" x2="41.70" y2="605.30" stroke="#111" stroke-width="1.1" />
<line x1="41.20" y1="604.80" x2="156.50" y2="604.80" stroke="#111" stroke-width="1.1" />
<line x1="39.20" y1="531.60" x2="41.70" y2="531.60" stroke="#111" stroke-width="0.9" />
<text x="36.60" y="534.40" font-size="8.0" text-anchor="end" stroke="#231f20" stroke-width="0.2" textLength="15.6" lengthAdjust="spacingAndGlyphs" >1.00</text>
<line x1="39.20" y1="549.00" x2="41.70" y2="549.00" stroke="#111" stroke-width="0.9" />
<text x="36.60" y="551.80" font-size="8.0" text-anchor="end" stroke="#231f20" stroke-width="0.2" textLength="15.6" lengthAdjust="spacingAndGlyphs" >0.75</text>
<line x1="39.20" y1="566.60" x2="41.70" y2="566.60" stroke="#111" stroke-width="0.9" />
<text x="36.60" y="569.40" font-size="8.0" text-anchor="end" stroke="#231f20" stroke-width="0.2" textLength="15.6" lengthAdjust="spacingAndGlyphs" >0.50</text>
<line x1="39.20" y1="584.20" x2="41.70" y2="584.20" stroke="#111" stroke-width="0.9" />
<text x="36.60" y="587.00" font-size="8.0" text-anchor="end" stroke="#231f20" stroke-width="0.2" textLength="15.6" lengthAdjust="spacingAndGlyphs" >0.25</text>
<line x1="39.20" y1="601.90" x2="41.70" y2="601.90" stroke="#111" stroke-width="0.9" />
<text x="36.60" y="604.70" font-size="8.0" text-anchor="end" stroke="#231f20" stroke-width="0.2" textLength="15.6" lengthAdjust="spacingAndGlyphs" >0.00</text>
<line x1="47.30" y1="604.80" x2="47.30" y2="607.60" stroke="#111" stroke-width="0.9" />
<text x="47.30" y="617.60" font-size="8.2" text-anchor="middle" stroke="#231f20" stroke-width="0.2" textLength="4.6" lengthAdjust="spacingAndGlyphs" >0</text>
<line x1="73.30" y1="604.80" x2="73.30" y2="607.60" stroke="#111" stroke-width="0.9" />
<text x="73.30" y="617.60" font-size="8.2" text-anchor="middle" stroke="#231f20" stroke-width="0.2" textLength="9.0" lengthAdjust="spacingAndGlyphs" >20</text>
<line x1="99.20" y1="604.80" x2="99.20" y2="607.60" stroke="#111" stroke-width="0.9" />
<text x="99.20" y="617.60" font-size="8.2" text-anchor="middle" stroke="#231f20" stroke-width="0.2" textLength="9.0" lengthAdjust="spacingAndGlyphs" >40</text>
<line x1="125.10" y1="604.80" x2="125.10" y2="607.60" stroke="#111" stroke-width="0.9" />
<text x="125.10" y="617.60" font-size="8.2" text-anchor="middle" stroke="#231f20" stroke-width="0.2" textLength="9.0" lengthAdjust="spacingAndGlyphs" >60</text>
<line x1="151.00" y1="604.80" x2="151.00" y2="607.60" stroke="#111" stroke-width="0.9" />
<text x="151.00" y="617.60" font-size="8.2" text-anchor="middle" stroke="#231f20" stroke-width="0.2" textLength="9.0" lengthAdjust="spacingAndGlyphs" >80</text>
<text x="99.40" y="627.60" font-size="9.4" text-anchor="middle" stroke="#231f20" stroke-width="0.2" textLength="82" lengthAdjust="spacingAndGlyphs" >Overall survival (months)</text>
<text x="14.60" y="566.70" font-size="9.0" text-anchor="middle" stroke="#231f20" stroke-width="0.2" textLength="64" lengthAdjust="spacingAndGlyphs" transform="rotate(-90 14.60 566.70)" >Survival probability</text>
<polyline points="47.3,531.5 53.2,531.5 53.2,534.1 58.8,534.1 58.8,537 60,537 60,540.1 66.5,540.1 66.5,542.7 70.8,542.7 70.8,545.6 77.2,545.6 77.2,548.2 86.1,548.2 86.1,551 130.1,551 130.1,555.9 158.3,555.9" fill="none" stroke="#d0213f" stroke-width="1.3"/>
<polyline points="47.3,531.5 55,531.5 55,532 67.7,532 67.7,533.2 71.1,533.2 71.1,534.3 78,534.3 78,536.2 85,536.2 85,537.5 88.4,537.5 88.4,539.3 91.3,539.3 91.3,540.4 96.5,540.4 96.5,541 154.2,541" fill="none" stroke="#1a5490" stroke-width="1.3"/>
<line x1="103.00" y1="539.60" x2="103.00" y2="542.40" stroke="#1a5490" stroke-width="0.7" />
<line x1="108.00" y1="539.60" x2="108.00" y2="542.40" stroke="#1a5490" stroke-width="0.7" />
<line x1="112.00" y1="539.60" x2="112.00" y2="542.40" stroke="#1a5490" stroke-width="0.7" />
<line x1="116.00" y1="539.60" x2="116.00" y2="542.40" stroke="#1a5490" stroke-width="0.7" />
<line x1="121.00" y1="539.60" x2="121.00" y2="542.40" stroke="#1a5490" stroke-width="0.7" />
<line x1="124.00" y1="539.60" x2="124.00" y2="542.40" stroke="#1a5490" stroke-width="0.7" />
<line x1="128.00" y1="539.60" x2="128.00" y2="542.40" stroke="#1a5490" stroke-width="0.7" />
<line x1="133.00" y1="539.60" x2="133.00" y2="542.40" stroke="#1a5490" stroke-width="0.7" />
<line x1="137.00" y1="539.60" x2="137.00" y2="542.40" stroke="#1a5490" stroke-width="0.7" />
<line x1="141.00" y1="539.60" x2="141.00" y2="542.40" stroke="#1a5490" stroke-width="0.7" />
<line x1="145.00" y1="539.60" x2="145.00" y2="542.40" stroke="#1a5490" stroke-width="0.7" />
<line x1="149.00" y1="539.60" x2="149.00" y2="542.40" stroke="#1a5490" stroke-width="0.7" />
<line x1="152.00" y1="539.60" x2="152.00" y2="542.40" stroke="#1a5490" stroke-width="0.7" />
<line x1="106.00" y1="549.60" x2="106.00" y2="552.40" stroke="#d0213f" stroke-width="0.7" />
<line x1="110.00" y1="549.60" x2="110.00" y2="552.40" stroke="#d0213f" stroke-width="0.7" />
<line x1="116.00" y1="549.60" x2="116.00" y2="552.40" stroke="#d0213f" stroke-width="0.7" />
<line x1="119.00" y1="549.60" x2="119.00" y2="552.40" stroke="#d0213f" stroke-width="0.7" />
<line x1="123.00" y1="549.60" x2="123.00" y2="552.40" stroke="#d0213f" stroke-width="0.7" />
<line x1="127.00" y1="549.60" x2="127.00" y2="552.40" stroke="#d0213f" stroke-width="0.7" />
<line x1="137.00" y1="554.50" x2="137.00" y2="557.30" stroke="#d0213f" stroke-width="0.7" />
<line x1="143.00" y1="554.50" x2="143.00" y2="557.30" stroke="#d0213f" stroke-width="0.7" />
<line x1="147.00" y1="554.50" x2="147.00" y2="557.30" stroke="#d0213f" stroke-width="0.7" />
<line x1="152.00" y1="554.50" x2="152.00" y2="557.30" stroke="#d0213f" stroke-width="0.7" />
<line x1="156.00" y1="554.50" x2="156.00" y2="557.30" stroke="#d0213f" stroke-width="0.7" />
<text x="108.80" y="579.20" font-size="8.0" font-style="italic" stroke="#231f20" stroke-width="0.2" textLength="15" lengthAdjust="spacingAndGlyphs" >TP53</text>
<line x1="108.80" y1="585.60" x2="114.40" y2="585.60" stroke="#d0213f" stroke-width="1.3" />
<text x="116.70" y="588.50" font-size="8.2" stroke="#231f20" stroke-width="0.2" textLength="27.5" lengthAdjust="spacingAndGlyphs" >Mutated</text>
<line x1="108.80" y1="595.40" x2="114.40" y2="595.40" stroke="#1a5490" stroke-width="1.3" />
<text x="116.70" y="598.30" font-size="8.2" stroke="#231f20" stroke-width="0.2" textLength="31.5" lengthAdjust="spacingAndGlyphs" >Wild-type</text>
<text x="48.8" y="598.3" font-size="8.2"><tspan font-style="italic">P</tspan> = 0.026</text>
<text x="40.80" y="641.30" font-size="7.2" stroke="#231f20" stroke-width="0.2" textLength="48" lengthAdjust="spacingAndGlyphs" >Number at risk</text>
<text x="36.60" y="652.90" font-size="8.2" text-anchor="end" stroke="#231f20" stroke-width="0.2" textLength="14.4" lengthAdjust="spacingAndGlyphs" >Mut</text>
<text x="36.60" y="664.30" font-size="8.2" text-anchor="end" stroke="#231f20" stroke-width="0.2" textLength="11" lengthAdjust="spacingAndGlyphs" >WT</text>
<line x1="41.70" y1="645.50" x2="41.70" y2="667.50" stroke="#111" stroke-width="1.1" />
<line x1="41.20" y1="667.00" x2="157.50" y2="667.00" stroke="#111" stroke-width="1.1" />
<line x1="39.20" y1="650.00" x2="41.70" y2="650.00" stroke="#111" stroke-width="0.9" />
<line x1="39.20" y1="661.40" x2="41.70" y2="661.40" stroke="#111" stroke-width="0.9" />
<line x1="47.30" y1="667.00" x2="47.30" y2="669.80" stroke="#111" stroke-width="0.9" />
<text x="47.30" y="678.80" font-size="8.2" text-anchor="middle" stroke="#231f20" stroke-width="0.2" textLength="4.6" lengthAdjust="spacingAndGlyphs" >0</text>
<text x="48.50" y="652.90" font-size="7.8" text-anchor="middle" stroke="#231f20" stroke-width="0.2" textLength="8.8" lengthAdjust="spacingAndGlyphs" >25</text>
<text x="48.50" y="664.30" font-size="7.8" text-anchor="middle" stroke="#231f20" stroke-width="0.2" textLength="8.8" lengthAdjust="spacingAndGlyphs" >75</text>
<line x1="73.30" y1="667.00" x2="73.30" y2="669.80" stroke="#111" stroke-width="0.9" />
<text x="73.30" y="678.80" font-size="8.2" text-anchor="middle" stroke="#231f20" stroke-width="0.2" textLength="9.0" lengthAdjust="spacingAndGlyphs" >20</text>
<text x="74.50" y="652.90" font-size="7.8" text-anchor="middle" stroke="#231f20" stroke-width="0.2" textLength="8.8" lengthAdjust="spacingAndGlyphs" >20</text>
<text x="74.50" y="664.30" font-size="7.8" text-anchor="middle" stroke="#231f20" stroke-width="0.2" textLength="8.8" lengthAdjust="spacingAndGlyphs" >72</text>
<line x1="99.20" y1="667.00" x2="99.20" y2="669.80" stroke="#111" stroke-width="0.9" />
<text x="99.20" y="678.80" font-size="8.2" text-anchor="middle" stroke="#231f20" stroke-width="0.2" textLength="9.0" lengthAdjust="spacingAndGlyphs" >40</text>
<text x="100.40" y="652.90" font-size="7.8" text-anchor="middle" stroke="#231f20" stroke-width="0.2" textLength="8.8" lengthAdjust="spacingAndGlyphs" >18</text>
<text x="100.40" y="664.30" font-size="7.8" text-anchor="middle" stroke="#231f20" stroke-width="0.2" textLength="8.8" lengthAdjust="spacingAndGlyphs" >65</text>
<line x1="125.10" y1="667.00" x2="125.10" y2="669.80" stroke="#111" stroke-width="0.9" />
<text x="125.10" y="678.80" font-size="8.2" text-anchor="middle" stroke="#231f20" stroke-width="0.2" textLength="9.0" lengthAdjust="spacingAndGlyphs" >60</text>
<text x="126.30" y="652.90" font-size="7.8" text-anchor="middle" stroke="#231f20" stroke-width="0.2" textLength="8.8" lengthAdjust="spacingAndGlyphs" >12</text>
<text x="126.30" y="664.30" font-size="7.8" text-anchor="middle" stroke="#231f20" stroke-width="0.2" textLength="8.8" lengthAdjust="spacingAndGlyphs" >36</text>
<line x1="151.00" y1="667.00" x2="151.00" y2="669.80" stroke="#111" stroke-width="0.9" />
<text x="151.00" y="678.80" font-size="8.2" text-anchor="middle" stroke="#231f20" stroke-width="0.2" textLength="9.0" lengthAdjust="spacingAndGlyphs" >80</text>
<text x="152.20" y="652.90" font-size="7.8" text-anchor="middle" stroke="#231f20" stroke-width="0.2" textLength="4.4" lengthAdjust="spacingAndGlyphs" >3</text>
<text x="152.20" y="664.30" font-size="7.8" text-anchor="middle" stroke="#231f20" stroke-width="0.2" textLength="4.4" lengthAdjust="spacingAndGlyphs" >3</text>
<text x="200.20" y="505.20" font-size="11.5" font-weight="bold" fill="#000" >F</text>
<line x1="227.90" y1="527.50" x2="227.90" y2="619.20" stroke="#111" stroke-width="1.1" />
<line x1="227.40" y1="618.70" x2="337.50" y2="618.70" stroke="#111" stroke-width="1.1" />
<line x1="225.30" y1="534.50" x2="227.90" y2="534.50" stroke="#111" stroke-width="0.9" />
<text x="223.60" y="537.50" font-size="9.0" text-anchor="end" stroke="#231f20" stroke-width="0.2" textLength="9.03" lengthAdjust="spacingAndGlyphs" >10</text>
<line x1="225.30" y1="565.20" x2="227.90" y2="565.20" stroke="#111" stroke-width="0.9" />
<text x="223.60" y="568.20" font-size="9.0" text-anchor="end" stroke="#231f20" stroke-width="0.2" textLength="4.620000000000001" lengthAdjust="spacingAndGlyphs" >3</text>
<line x1="225.30" y1="593.30" x2="227.90" y2="593.30" stroke="#111" stroke-width="0.9" />
<text x="223.60" y="596.30" font-size="9.0" text-anchor="end" stroke="#231f20" stroke-width="0.2" textLength="4.620000000000001" lengthAdjust="spacingAndGlyphs" >1</text>
<line x1="259.20" y1="618.70" x2="259.20" y2="621.50" stroke="#111" stroke-width="0.9" />
<line x1="311.50" y1="618.70" x2="311.50" y2="621.50" stroke="#111" stroke-width="0.9" />
<text x="208.60" y="567.70" font-size="9.2" text-anchor="middle" stroke="#231f20" stroke-width="0.2" textLength="98" lengthAdjust="spacingAndGlyphs" transform="rotate(-90 208.60 567.70)" >Post-GC signature (#RCH/#TW)</text>
<text x="259.00" y="631.00" font-size="8.9" text-anchor="middle" stroke="#231f20" stroke-width="0.2" textLength="34.5" lengthAdjust="spacingAndGlyphs" >Non-GCB</text>
<text x="311.50" y="631.00" font-size="8.9" text-anchor="middle" stroke="#231f20" stroke-width="0.2" textLength="16" lengthAdjust="spacingAndGlyphs" >GCB</text>
<text x="286.00" y="643.60" font-size="9.2" text-anchor="middle" stroke="#231f20" stroke-width="0.2" textLength="52" lengthAdjust="spacingAndGlyphs" >Subtype (Hans)</text>
<line x1="259.20" y1="531.00" x2="259.20" y2="604.00" stroke="#333" stroke-width="0.9" />
<line x1="311.50" y1="555.40" x2="311.50" y2="614.20" stroke="#333" stroke-width="0.9" />
<rect x="239.3" y="553.5" width="39.5" height="23.1" fill="#86a5c8" stroke="#333" stroke-width="0.8"/>
<line x1="239.30" y1="565.00" x2="278.80" y2="565.00" stroke="#222" stroke-width="1.0" />
<rect x="291.9" y="574.3" width="39.3" height="16.9" fill="#fdc98a" stroke="#333" stroke-width="0.8"/>
<line x1="291.90" y1="583.50" x2="331.20" y2="583.50" stroke="#222" stroke-width="1.0" />
<circle cx="259.20" cy="528.80" r="1.55" fill="#1a4f8a" />
<circle cx="259.20" cy="537.50" r="1.55" fill="#1a4f8a" />
<circle cx="263.18" cy="538.50" r="1.55" fill="#1a4f8a" />
<circle cx="259.20" cy="603.90" r="1.55" fill="#1a4f8a" />
<circle cx="259.20" cy="593.30" r="1.55" fill="#1a4f8a" />
<circle cx="259.20" cy="585.50" r="1.55" fill="#1a4f8a" />
<circle cx="259.20" cy="556.11" r="1.55" fill="#1a4f8a" />
<circle cx="259.20" cy="572.38" r="1.55" fill="#1a4f8a" />
<circle cx="261.85" cy="570.68" r="1.55" fill="#1a4f8a" />
<circle cx="259.20" cy="565.85" r="1.55" fill="#1a4f8a" />
<circle cx="261.85" cy="557.70" r="1.55" fill="#1a4f8a" />
<circle cx="259.20" cy="575.57" r="1.55" fill="#1a4f8a" />
<circle cx="263.18" cy="576.04" r="1.55" fill="#1a4f8a" />
<circle cx="263.18" cy="566.89" r="1.55" fill="#1a4f8a" />
<circle cx="255.22" cy="566.66" r="1.55" fill="#1a4f8a" />
<circle cx="256.55" cy="558.32" r="1.55" fill="#1a4f8a" />
<circle cx="259.20" cy="551.10" r="1.55" fill="#1a4f8a" />
<circle cx="259.20" cy="562.50" r="1.55" fill="#1a4f8a" />
<circle cx="259.20" cy="569.15" r="1.55" fill="#1a4f8a" />
<circle cx="261.85" cy="553.15" r="1.55" fill="#1a4f8a" />
<circle cx="255.22" cy="575.61" r="1.55" fill="#1a4f8a" />
<circle cx="265.83" cy="558.20" r="1.55" fill="#1a4f8a" />
<circle cx="252.57" cy="558.21" r="1.55" fill="#1a4f8a" />
<circle cx="255.22" cy="552.31" r="1.55" fill="#1a4f8a" />
<circle cx="259.20" cy="581.92" r="1.55" fill="#1a4f8a" />
<circle cx="265.83" cy="573.90" r="1.55" fill="#1a4f8a" />
<circle cx="265.83" cy="578.13" r="1.55" fill="#1a4f8a" />
<circle cx="255.22" cy="570.09" r="1.55" fill="#1a4f8a" />
<circle cx="265.83" cy="552.06" r="1.55" fill="#1a4f8a" />
<circle cx="261.85" cy="561.20" r="1.55" fill="#1a4f8a" />
<circle cx="267.15" cy="566.42" r="1.55" fill="#1a4f8a" />
<circle cx="252.57" cy="554.59" r="1.55" fill="#1a4f8a" />
<circle cx="311.50" cy="555.40" r="1.55" fill="#f7941d" />
<circle cx="314.15" cy="558.00" r="1.55" fill="#f7941d" />
<circle cx="311.50" cy="614.20" r="1.55" fill="#f7941d" />
<circle cx="311.50" cy="606.00" r="1.55" fill="#f7941d" />
<circle cx="311.50" cy="600.50" r="1.55" fill="#f7941d" />
<circle cx="311.50" cy="597.00" r="1.55" fill="#f7941d" />
<circle cx="314.15" cy="594.65" r="1.55" fill="#f7941d" />
<circle cx="311.50" cy="578.32" r="1.55" fill="#f7941d" />
<circle cx="311.50" cy="572.33" r="1.55" fill="#f7941d" />
<circle cx="311.50" cy="590.89" r="1.55" fill="#f7941d" />
<circle cx="315.48" cy="571.50" r="1.55" fill="#f7941d" />
<circle cx="310.17" cy="593.98" r="1.55" fill="#f7941d" />
<circle cx="314.15" cy="580.69" r="1.55" fill="#f7941d" />
<circle cx="311.50" cy="583.46" r="1.55" fill="#f7941d" />
<circle cx="315.48" cy="577.60" r="1.55" fill="#f7941d" />
<circle cx="308.85" cy="581.57" r="1.55" fill="#f7941d" />
<circle cx="307.52" cy="573.23" r="1.55" fill="#f7941d" />
<circle cx="311.50" cy="569.04" r="1.55" fill="#f7941d" />
<circle cx="307.52" cy="592.24" r="1.55" fill="#f7941d" />
<circle cx="314.15" cy="574.58" r="1.55" fill="#f7941d" />
<circle cx="315.48" cy="589.85" r="1.55" fill="#f7941d" />
<circle cx="318.13" cy="573.84" r="1.55" fill="#f7941d" />
<circle cx="306.20" cy="595.13" r="1.55" fill="#f7941d" />
<circle cx="316.80" cy="593.03" r="1.55" fill="#f7941d" />
<circle cx="308.85" cy="589.13" r="1.55" fill="#f7941d" />
<circle cx="304.87" cy="589.36" r="1.55" fill="#f7941d" />
<circle cx="315.48" cy="584.26" r="1.55" fill="#f7941d" />
<circle cx="318.13" cy="588.43" r="1.55" fill="#f7941d" />
<circle cx="304.87" cy="571.43" r="1.55" fill="#f7941d" />
<circle cx="318.13" cy="581.34" r="1.55" fill="#f7941d" />
<circle cx="319.45" cy="591.16" r="1.55" fill="#f7941d" />
<circle cx="302.22" cy="573.63" r="1.55" fill="#f7941d" />
<circle cx="320.78" cy="593.85" r="1.55" fill="#f7941d" />
<circle cx="303.55" cy="592.85" r="1.55" fill="#f7941d" />
<polyline points="259.2,524.5 259.2,521.9 311.5,521.9 311.5,524.5" fill="none" stroke="#222" stroke-width="0.8"/>
<text x="285.50" y="521.00" font-size="10" text-anchor="middle" stroke="#231f20" stroke-width="0.2" textLength="18" lengthAdjust="spacingAndGlyphs" >****</text>
<text x="370.50" y="505.20" font-size="11.5" font-weight="bold" fill="#000" >G</text>
<polygon points="394,505 400.2,515.2 451.4,515.2" fill="#1e4f8a"/>
<polygon points="451.4,515.2 509.8,504.4 506.5,515.2" fill="#f7941d"/>
<text x="407.50" y="514.30" font-size="6.8" text-anchor="middle" fill="#fff" stroke="#fff" stroke-width="0.2" textLength="12" lengthAdjust="spacingAndGlyphs" >ABC</text>
<text x="498.50" y="514.30" font-size="6.8" text-anchor="middle" fill="#fff" stroke="#fff" stroke-width="0.2" textLength="12.5" lengthAdjust="spacingAndGlyphs" >GCB</text>
<defs><linearGradient id="pgc" x1="0" x2="1" y1="0" y2="0">
<stop offset="0" stop-color="#a50026"/><stop offset="0.297" stop-color="#a50026"/>
<stop offset="0.315" stop-color="#c0503a"/><stop offset="0.368" stop-color="#de885a"/><stop offset="0.42" stop-color="#f6c47e"/>
<stop offset="0.48" stop-color="#fde291"/><stop offset="0.54" stop-color="#e0c094"/><stop offset="0.62" stop-color="#c0a0a0"/>
<stop offset="0.70" stop-color="#9880a8"/><stop offset="0.78" stop-color="#6a5aa0"/><stop offset="0.84" stop-color="#3a3a96"/><stop offset="1" stop-color="#313695"/>
</linearGradient></defs>
<rect x="414.5" y="519.8" width="74.7" height="10.6" fill="url(#pgc)"/>
<rect x="414.50" y="532.30" width="2.20" height="6.30" fill="#3b6db5" />
<rect x="416.20" y="532.30" width="1.20" height="6.30" fill="#b9b4d8" />
<rect x="416.90" y="532.30" width="2.50" height="6.30" fill="#3b6db5" />
<rect x="418.90" y="532.30" width="2.10" height="6.30" fill="#b5b5b5" />
<rect x="420.50" y="532.30" width="2.60" height="6.30" fill="#3b6db5" />
<rect x="422.60" y="532.30" width="1.60" height="6.30" fill="#9fd8c8" />
<rect x="423.70" y="532.30" width="1.70" height="6.30" fill="#3b6db5" />
<rect x="424.90" y="532.30" width="1.70" height="6.30" fill="#f2f2a0" />
<rect x="426.10" y="532.30" width="17.40" height="6.30" fill="#3b6db5" />
<rect x="443.00" y="532.30" width="2.00" height="6.30" fill="#c2289a" />
<rect x="444.50" y="532.30" width="5.00" height="6.30" fill="#3b6db5" />
<rect x="449.00" y="532.30" width="2.00" height="6.30" fill="#9fd8c8" />
<rect x="450.50" y="532.30" width="2.90" height="6.30" fill="#3b6db5" />
<rect x="452.90" y="532.30" width="1.80" height="6.30" fill="#9fd8c8" />
<rect x="454.20" y="532.30" width="3.30" height="6.30" fill="#3b6db5" />
<rect x="457.00" y="532.30" width="1.60" height="6.30" fill="#b5b5b5" />
<rect x="458.10" y="532.30" width="1.70" height="6.30" fill="#3b6db5" />
<rect x="459.30" y="532.30" width="2.00" height="6.30" fill="#8fa8c8" />
<rect x="460.80" y="532.30" width="2.00" height="6.30" fill="#9fd8c8" />
<rect x="462.30" y="532.30" width="6.80" height="6.30" fill="#3b6db5" />
<rect x="468.60" y="532.30" width="1.70" height="6.30" fill="#9fd8c8" />
<rect x="469.80" y="532.30" width="3.80" height="6.30" fill="#3b6db5" />
<rect x="473.10" y="532.30" width="2.00" height="6.30" fill="#9fd8c8" />
<rect x="474.60" y="532.30" width="2.80" height="6.30" fill="#3b6db5" />
<rect x="476.90" y="532.30" width="1.60" height="6.30" fill="#c2289a" />
<rect x="478.00" y="532.30" width="2.80" height="6.30" fill="#8fa8c8" />
<rect x="480.30" y="532.30" width="2.00" height="6.30" fill="#c2289a" />
<rect x="481.80" y="532.30" width="2.40" height="6.30" fill="#3b6db5" />
<rect x="483.70" y="532.30" width="1.60" height="6.30" fill="#9fd8c8" />
<rect x="484.80" y="532.30" width="4.40" height="6.30" fill="#3b6db5" />
<rect x="414.50" y="540.40" width="2.20" height="6.40" fill="#2a7ab9" />
<rect x="416.20" y="540.40" width="1.40" height="6.40" fill="#c4c4c4" />
<rect x="417.10" y="540.40" width="2.00" height="6.40" fill="#2a7ab9" />
<rect x="418.60" y="540.40" width="2.40" height="6.40" fill="#c4c4c4" />
<rect x="420.50" y="540.40" width="2.20" height="6.40" fill="#2a7ab9" />
<rect x="422.20" y="540.40" width="1.80" height="6.40" fill="#c4c4c4" />
<rect x="423.50" y="540.40" width="2.00" height="6.40" fill="#2a7ab9" />
<rect x="425.00" y="540.40" width="1.60" height="6.40" fill="#c4c4c4" />
<rect x="426.10" y="540.40" width="2.40" height="6.40" fill="#a07850" />
<rect x="428.00" y="540.40" width="2.40" height="6.40" fill="#2a7ab9" />
<rect x="429.90" y="540.40" width="2.70" height="6.40" fill="#ff7f0e" />
<rect x="432.10" y="540.40" width="2.80" height="6.40" fill="#2a7ab9" />
<rect x="434.40" y="540.40" width="1.60" height="6.40" fill="#c4c4c4" />
<rect x="435.50" y="540.40" width="2.40" height="6.40" fill="#2a7ab9" />
<rect x="437.40" y="540.40" width="2.00" height="6.40" fill="#ff7f0e" />
<rect x="438.90" y="540.40" width="3.90" height="6.40" fill="#a07850" />
<rect x="442.30" y="540.40" width="2.30" height="6.40" fill="#98a8c0" />
<rect x="444.10" y="540.40" width="2.80" height="6.40" fill="#ff7f0e" />
<rect x="446.40" y="540.40" width="1.20" height="6.40" fill="#c4c4c4" />
<rect x="447.10" y="540.40" width="3.20" height="6.40" fill="#ff7f0e" />
<rect x="449.80" y="540.40" width="2.80" height="6.40" fill="#2a7ab9" />
<rect x="452.10" y="540.40" width="2.30" height="6.40" fill="#ff7f0e" />
<rect x="453.90" y="540.40" width="1.70" height="6.40" fill="#2a7ab9" />
<rect x="455.10" y="540.40" width="2.40" height="6.40" fill="#a07850" />
<rect x="457.00" y="540.40" width="1.60" height="6.40" fill="#c4c4c4" />
<rect x="458.10" y="540.40" width="2.40" height="6.40" fill="#ff7f0e" />
<rect x="460.00" y="540.40" width="2.00" height="6.40" fill="#2a7ab9" />
<rect x="461.50" y="540.40" width="2.40" height="6.40" fill="#f0a868" />
<rect x="463.40" y="540.40" width="4.20" height="6.40" fill="#ff7f0e" />
<rect x="467.10" y="540.40" width="1.60" height="6.40" fill="#a07850" />
<rect x="468.20" y="540.40" width="2.10" height="6.40" fill="#c4c4c4" />
<rect x="469.80" y="540.40" width="4.20" height="6.40" fill="#ff7f0e" />
<rect x="473.50" y="540.40" width="2.00" height="6.40" fill="#98a8c0" />
<rect x="475.00" y="540.40" width="2.40" height="6.40" fill="#ff7f0e" />
<rect x="476.90" y="540.40" width="2.40" height="6.40" fill="#2a7ab9" />
<rect x="478.80" y="540.40" width="2.00" height="6.40" fill="#ff7f0e" />
<rect x="480.30" y="540.40" width="5.00" height="6.40" fill="#f0a868" />
<rect x="484.80" y="540.40" width="2.70" height="6.40" fill="#ff7f0e" />
<rect x="487.00" y="540.40" width="1.60" height="6.40" fill="#a07850" />
<rect x="488.10" y="540.40" width="1.10" height="6.40" fill="#ff7f0e" />
<rect x="414.50" y="548.30" width="2.00" height="6.30" fill="#a9c8e6" />
<rect x="416.00" y="548.30" width="1.30" height="6.30" fill="#fff3b0" />
<rect x="416.80" y="548.30" width="1.20" height="6.30" fill="#dcdcdc" />
<rect x="417.50" y="548.30" width="1.60" height="6.30" fill="#a9c8e6" />
<rect x="418.60" y="548.30" width="1.70" height="6.30" fill="#dcdcdc" />
<rect x="419.80" y="548.30" width="1.60" height="6.30" fill="#a9c8e6" />
<rect x="420.90" y="548.30" width="1.60" height="6.30" fill="#dcdcdc" />
<rect x="422.00" y="548.30" width="1.60" height="6.30" fill="#a8e0cc" />
<rect x="423.10" y="548.30" width="1.30" height="6.30" fill="#fff3b0" />
<rect x="423.90" y="548.30" width="1.60" height="6.30" fill="#fdbb80" />
<rect x="425.00" y="548.30" width="2.00" height="6.30" fill="#dcdcdc" />
<rect x="426.50" y="548.30" width="2.00" height="6.30" fill="#fdbb80" />
<rect x="428.00" y="548.30" width="1.60" height="6.30" fill="#a8e0cc" />
<rect x="429.10" y="548.30" width="2.40" height="6.30" fill="#a9c8e6" />
<rect x="431.00" y="548.30" width="1.60" height="6.30" fill="#dcdcdc" />
<rect x="432.10" y="548.30" width="2.00" height="6.30" fill="#a9c8e6" />
<rect x="433.60" y="548.30" width="1.70" height="6.30" fill="#fff3b0" />
<rect x="434.80" y="548.30" width="2.70" height="6.30" fill="#a9c8e6" />
<rect x="437.00" y="548.30" width="2.00" height="6.30" fill="#dcdcdc" />
<rect x="438.50" y="548.30" width="2.80" height="6.30" fill="#a9c8e6" />
<rect x="440.80" y="548.30" width="2.00" height="6.30" fill="#fdbb80" />
<rect x="442.30" y="548.30" width="2.70" height="6.30" fill="#a9c8e6" />
<rect x="444.50" y="548.30" width="1.60" height="6.30" fill="#fdbb80" />
<rect x="445.60" y="548.30" width="1.60" height="6.30" fill="#a8e0cc" />
<rect x="446.70" y="548.30" width="2.10" height="6.30" fill="#d8d4e6" />
<rect x="448.30" y="548.30" width="2.00" height="6.30" fill="#fff3b0" />
<rect x="449.80" y="548.30" width="3.20" height="6.30" fill="#a9c8e6" />
<rect x="452.50" y="548.30" width="1.60" height="6.30" fill="#a8e0cc" />
<rect x="453.60" y="548.30" width="2.40" height="6.30" fill="#fdbb80" />
<rect x="455.50" y="548.30" width="1.60" height="6.30" fill="#dcdcdc" />
<rect x="456.60" y="548.30" width="3.50" height="6.30" fill="#fdbb80" />
<rect x="459.60" y="548.30" width="3.20" height="6.30" fill="#a8e0cc" />
<rect x="462.30" y="548.30" width="5.30" height="6.30" fill="#fdbb80" />
<rect x="467.10" y="548.30" width="2.00" height="6.30" fill="#dcdcdc" />
<rect x="468.60" y="548.30" width="2.00" height="6.30" fill="#a8e0cc" />
<rect x="470.10" y="548.30" width="2.40" height="6.30" fill="#fdbb80" />
<rect x="472.00" y="548.30" width="2.00" height="6.30" fill="#a9c8e6" />
<rect x="473.50" y="548.30" width="1.60" height="6.30" fill="#a8e0cc" />
<rect x="474.60" y="548.30" width="1.70" height="6.30" fill="#fff3b0" />
<rect x="475.80" y="548.30" width="4.20" height="6.30" fill="#fdbb80" />
<rect x="479.50" y="548.30" width="2.00" height="6.30" fill="#dcdcdc" />
<rect x="481.00" y="548.30" width="2.80" height="6.30" fill="#fdbb80" />
<rect x="483.30" y="548.30" width="2.00" height="6.30" fill="#a8e0cc" />
<rect x="484.80" y="548.30" width="2.70" height="6.30" fill="#fdbb80" />
<rect x="487.00" y="548.30" width="2.20" height="6.30" fill="#dcdcdc" />
<text x="411.80" y="525.60" font-size="8.8" text-anchor="end" stroke="#231f20" stroke-width="0.2" textLength="41.8" lengthAdjust="spacingAndGlyphs" >Post-GC sig</text>
<text x="411.80" y="536.70" font-size="8.8" text-anchor="end" stroke="#231f20" stroke-width="0.2" textLength="32.8" lengthAdjust="spacingAndGlyphs" >Histology</text>
<text x="411.80" y="545.00" font-size="8.8" text-anchor="end" stroke="#231f20" stroke-width="0.2" textLength="28.6" lengthAdjust="spacingAndGlyphs" >Subtype</text>
<text x="411.80" y="553.10" font-size="8.8" text-anchor="end" stroke="#231f20" stroke-width="0.2" textLength="24.4" lengthAdjust="spacingAndGlyphs" >Cluster</text>
<text x="492.50" y="554.40" font-size="8.2" stroke="#231f20" stroke-width="0.2" textLength="15.4" lengthAdjust="spacingAndGlyphs" >FDR</text>
<line x1="492.50" y1="556.20" x2="507.90" y2="556.20" stroke="#222" stroke-width="0.7" />
<g>
<rect x="414.50" y="557.90" width="74.70" height="7.20" fill="#efefef" />
<rect x="414.30" y="557.90" width="2.00" height="7.20" fill="#1e1e1e" />
<rect x="416.30" y="557.90" width="1.50" height="7.20" fill="#828282" />
<rect x="419.30" y="557.90" width="1.20" height="7.20" fill="#5a5a5a" />
<rect x="425.80" y="557.90" width="1.00" height="7.20" fill="#5a5a5a" />
<rect x="429.00" y="557.90" width="1.00" height="7.20" fill="#5a5a5a" />
<rect x="433.00" y="557.90" width="3.70" height="7.20" fill="#1e1e1e" />
<rect x="442.20" y="557.90" width="2.70" height="7.20" fill="#828282" />
<rect x="456.30" y="557.90" width="2.40" height="7.20" fill="#828282" />
<rect x="414.50" y="566.60" width="74.70" height="7.20" fill="#efefef" />
<rect x="419.30" y="566.60" width="1.50" height="7.20" fill="#5a5a5a" />
<rect x="421.80" y="566.60" width="1.00" height="7.20" fill="#1e1e1e" />
<rect x="425.80" y="566.60" width="1.00" height="7.20" fill="#5a5a5a" />
<rect x="429.00" y="566.60" width="1.00" height="7.20" fill="#464646" />
<rect x="431.50" y="566.60" width="1.70" height="7.20" fill="#5a5a5a" />
<rect x="433.70" y="566.60" width="1.10" height="7.20" fill="#1e1e1e" />
<rect x="436.00" y="566.60" width="1.90" height="7.20" fill="#828282" />
<rect x="442.20" y="566.60" width="2.70" height="7.20" fill="#828282" />
<rect x="460.00" y="566.60" width="1.00" height="7.20" fill="#464646" />
<rect x="414.50" y="575.00" width="74.70" height="7.20" fill="#efefef" />
<rect x="414.00" y="575.00" width="2.00" height="7.20" fill="#6e6e6e" />
<rect x="416.00" y="575.00" width="1.80" height="7.20" fill="#1e1e1e" />
<rect x="419.70" y="575.00" width="1.80" height="7.20" fill="#1e1e1e" />
<rect x="421.50" y="575.00" width="2.00" height="7.20" fill="#5a5a5a" />
<rect x="423.50" y="575.00" width="3.00" height="7.20" fill="#828282" />
<rect x="428.60" y="575.00" width="1.40" height="7.20" fill="#1e1e1e" />
<rect x="430.00" y="575.00" width="2.00" height="7.20" fill="#6e6e6e" />
<rect x="432.00" y="575.00" width="5.00" height="7.20" fill="#1e1e1e" />
<rect x="438.70" y="575.00" width="2.90" height="7.20" fill="#6e6e6e" />
<rect x="441.60" y="575.00" width="0.90" height="7.20" fill="#1e1e1e" />
<rect x="444.80" y="575.00" width="1.20" height="7.20" fill="#1e1e1e" />
<rect x="450.00" y="575.00" width="1.60" height="7.20" fill="#1e1e1e" />
<rect x="454.80" y="575.00" width="3.30" height="7.20" fill="#828282" />
<rect x="458.90" y="575.00" width="3.20" height="7.20" fill="#323232" />
<rect x="472.20" y="575.00" width="4.50" height="7.20" fill="#1e1e1e" />
<rect x="477.90" y="575.00" width="2.80" height="7.20" fill="#828282" />
<rect x="487.20" y="575.00" width="1.40" height="7.20" fill="#828282" />
<rect x="414.50" y="583.50" width="74.70" height="7.20" fill="#efefef" />
<rect x="415.00" y="583.50" width="2.80" height="7.20" fill="#828282" />
<rect x="419.30" y="583.50" width="1.20" height="7.20" fill="#5a5a5a" />
<rect x="425.80" y="583.50" width="1.00" height="7.20" fill="#828282" />
<rect x="431.20" y="583.50" width="1.60" height="7.20" fill="#1e1e1e" />
<rect x="434.40" y="583.50" width="2.60" height="7.20" fill="#1e1e1e" />
<rect x="439.00" y="583.50" width="2.40" height="7.20" fill="#828282" />
<rect x="444.80" y="583.50" width="1.20" height="7.20" fill="#5a5a5a" />
<rect x="451.60" y="583.50" width="1.20" height="7.20" fill="#5a5a5a" />
<rect x="460.00" y="583.50" width="2.50" height="7.20" fill="#828282" />
<rect x="477.00" y="583.50" width="0.90" height="7.20" fill="#5a5a5a" />
<rect x="414.50" y="592.00" width="74.70" height="7.20" fill="#efefef" />
<rect x="415.00" y="592.00" width="0.90" height="7.20" fill="#5a5a5a" />
<rect x="422.80" y="592.00" width="1.20" height="7.20" fill="#5a5a5a" />
<rect x="425.80" y="592.00" width="1.00" height="7.20" fill="#5a5a5a" />
<rect x="429.00" y="592.00" width="1.00" height="7.20" fill="#5a5a5a" />
<rect x="433.00" y="592.00" width="2.60" height="7.20" fill="#828282" />
<rect x="442.20" y="592.00" width="1.50" height="7.20" fill="#828282" />
<rect x="451.00" y="592.00" width="1.00" height="7.20" fill="#5a5a5a" />
<rect x="475.00" y="592.00" width="1.30" height="7.20" fill="#828282" />
<rect x="414.50" y="600.50" width="74.70" height="7.20" fill="#efefef" />
<rect x="415.90" y="600.50" width="3.10" height="7.20" fill="#828282" />
<rect x="421.70" y="600.50" width="1.10" height="7.20" fill="#5a5a5a" />
<rect x="425.00" y="600.50" width="1.10" height="7.20" fill="#5a5a5a" />
<rect x="429.00" y="600.50" width="1.60" height="7.20" fill="#1e1e1e" />
<rect x="433.00" y="600.50" width="1.60" height="7.20" fill="#828282" />
<rect x="436.00" y="600.50" width="1.90" height="7.20" fill="#828282" />
<rect x="441.00" y="600.50" width="1.20" height="7.20" fill="#5a5a5a" />
<rect x="445.30" y="600.50" width="1.50" height="7.20" fill="#828282" />
<rect x="448.70" y="600.50" width="1.60" height="7.20" fill="#1e1e1e" />
<rect x="450.00" y="600.50" width="0.80" height="7.20" fill="#5a5a5a" />
<rect x="460.90" y="600.50" width="1.20" height="7.20" fill="#5a5a5a" />
<rect x="463.70" y="600.50" width="1.20" height="7.20" fill="#5a5a5a" />
<rect x="469.00" y="600.50" width="1.20" height="7.20" fill="#5a5a5a" />
<rect x="474.60" y="600.50" width="1.20" height="7.20" fill="#5a5a5a" />
<rect x="414.50" y="609.40" width="74.70" height="7.20" fill="#efefef" />
<rect x="451.00" y="609.40" width="1.10" height="7.20" fill="#464646" />
<rect x="453.50" y="609.40" width="1.20" height="7.20" fill="#828282" />
<rect x="467.80" y="609.40" width="1.10" height="7.20" fill="#5a5a5a" />
<rect x="473.70" y="609.40" width="1.20" height="7.20" fill="#5a5a5a" />
<rect x="483.10" y="609.40" width="2.40" height="7.20" fill="#828282" />
<rect x="414.50" y="617.90" width="74.70" height="7.20" fill="#efefef" />
<rect x="415.00" y="617.90" width="1.10" height="7.20" fill="#5a5a5a" />
<rect x="445.10" y="617.90" width="1.20" height="7.20" fill="#5a5a5a" />
<rect x="448.60" y="617.90" width="1.20" height="7.20" fill="#828282" />
<rect x="454.10" y="617.90" width="1.20" height="7.20" fill="#5a5a5a" />
<rect x="457.10" y="617.90" width="1.80" height="7.20" fill="#1e1e1e" />
<rect x="471.30" y="617.90" width="1.80" height="7.20" fill="#1e1e1e" />
<rect x="481.40" y="617.90" width="1.70" height="7.20" fill="#1e1e1e" />
<rect x="488.50" y="617.90" width="0.70" height="7.20" fill="#828282" />
<rect x="414.50" y="626.60" width="74.70" height="7.20" fill="#efefef" />
<rect x="419.70" y="626.60" width="2.30" height="7.20" fill="#828282" />
<rect x="423.20" y="626.60" width="1.80" height="7.20" fill="#828282" />
<rect x="426.00" y="626.60" width="1.40" height="7.20" fill="#1e1e1e" />
<rect x="428.80" y="626.60" width="1.20" height="7.20" fill="#5a5a5a" />
<rect x="431.90" y="626.60" width="1.10" height="7.20" fill="#5a5a5a" />
<rect x="436.20" y="626.60" width="1.20" height="7.20" fill="#828282" />
<rect x="441.00" y="626.60" width="1.70" height="7.20" fill="#5a5a5a" />
<rect x="442.70" y="626.60" width="1.80" height="7.20" fill="#1e1e1e" />
<rect x="444.50" y="626.60" width="1.50" height="7.20" fill="#828282" />
<rect x="452.40" y="626.60" width="4.70" height="7.20" fill="#828282" />
<rect x="457.10" y="626.60" width="3.00" height="7.20" fill="#1e1e1e" />
<rect x="462.40" y="626.60" width="2.40" height="7.20" fill="#828282" />
<rect x="464.80" y="626.60" width="1.80" height="7.20" fill="#1e1e1e" />
<rect x="470.10" y="626.60" width="3.60" height="7.20" fill="#1e1e1e" />
<rect x="476.00" y="626.60" width="2.40" height="7.20" fill="#5a5a5a" />
<rect x="478.40" y="626.60" width="1.20" height="7.20" fill="#1e1e1e" />
<rect x="481.00" y="626.60" width="2.10" height="7.20" fill="#1e1e1e" />
<rect x="485.50" y="626.60" width="2.40" height="7.20" fill="#828282" />
<rect x="414.50" y="635.20" width="74.70" height="7.20" fill="#efefef" />
<rect x="419.70" y="635.20" width="1.20" height="7.20" fill="#5a5a5a" />
<rect x="423.20" y="635.20" width="1.80" height="7.20" fill="#828282" />
<rect x="426.20" y="635.20" width="1.80" height="7.20" fill="#828282" />
<rect x="430.90" y="635.20" width="1.20" height="7.20" fill="#5a5a5a" />
<rect x="436.80" y="635.20" width="1.40" height="7.20" fill="#828282" />
<rect x="441.00" y="635.20" width="1.20" height="7.20" fill="#5a5a5a" />
<rect x="445.10" y="635.20" width="1.40" height="7.20" fill="#5a5a5a" />
<rect x="448.00" y="635.20" width="1.20" height="7.20" fill="#828282" />
<rect x="451.80" y="635.20" width="1.10" height="7.20" fill="#5a5a5a" />
<rect x="454.10" y="635.20" width="1.80" height="7.20" fill="#1e1e1e" />
<rect x="457.10" y="635.20" width="0.90" height="7.20" fill="#828282" />
<rect x="459.50" y="635.20" width="1.20" height="7.20" fill="#828282" />
<rect x="462.40" y="635.20" width="1.20" height="7.20" fill="#828282" />
<rect x="465.40" y="635.20" width="1.20" height="7.20" fill="#1e1e1e" />
<rect x="470.10" y="635.20" width="1.20" height="7.20" fill="#5a5a5a" />
<rect x="472.50" y="635.20" width="1.20" height="7.20" fill="#1e1e1e" />
<rect x="474.90" y="635.20" width="4.70" height="7.20" fill="#828282" />
<rect x="481.00" y="635.20" width="2.10" height="7.20" fill="#1e1e1e" />
<rect x="485.50" y="635.20" width="2.40" height="7.20" fill="#828282" />
<rect x="414.50" y="644.00" width="74.70" height="7.20" fill="#efefef" />
<rect x="415.00" y="644.00" width="1.10" height="7.20" fill="#5a5a5a" />
<rect x="426.20" y="644.00" width="1.40" height="7.20" fill="#5a5a5a" />
<rect x="445.10" y="644.00" width="1.20" height="7.20" fill="#828282" />
<rect x="448.60" y="644.00" width="1.20" height="7.20" fill="#828282" />
<rect x="455.30" y="644.00" width="1.20" height="7.20" fill="#828282" />
<rect x="457.70" y="644.00" width="1.20" height="7.20" fill="#5a5a5a" />
<rect x="462.40" y="644.00" width="1.20" height="7.20" fill="#828282" />
<rect x="466.00" y="644.00" width="1.20" height="7.20" fill="#5a5a5a" />
<rect x="470.10" y="644.00" width="1.80" height="7.20" fill="#1e1e1e" />
<rect x="474.30" y="644.00" width="3.50" height="7.20" fill="#828282" />
<rect x="481.40" y="644.00" width="1.10" height="7.20" fill="#828282" />
<rect x="487.30" y="644.00" width="1.70" height="7.20" fill="#828282" />
<rect x="414.50" y="652.90" width="74.70" height="7.20" fill="#efefef" />
<rect x="455.30" y="652.90" width="1.20" height="7.20" fill="#828282" />
<rect x="466.00" y="652.90" width="1.20" height="7.20" fill="#5a5a5a" />
<rect x="477.20" y="652.90" width="1.20" height="7.20" fill="#5a5a5a" />
<rect x="481.40" y="652.90" width="1.10" height="7.20" fill="#1e1e1e" />
<rect x="486.70" y="652.90" width="1.20" height="7.20" fill="#5a5a5a" />
<rect x="414.50" y="661.60" width="74.70" height="7.20" fill="#efefef" />
<rect x="426.20" y="661.60" width="1.40" height="7.20" fill="#5a5a5a" />
<rect x="444.00" y="661.60" width="1.20" height="7.20" fill="#5a5a5a" />
<rect x="451.00" y="661.60" width="1.10" height="7.20" fill="#1e1e1e" />
<rect x="460.70" y="661.60" width="1.10" height="7.20" fill="#5a5a5a" />
<rect x="464.00" y="661.60" width="1.10" height="7.20" fill="#5a5a5a" />
<rect x="466.00" y="661.60" width="1.20" height="7.20" fill="#5a5a5a" />
<rect x="467.80" y="661.60" width="2.30" height="7.20" fill="#828282" />
<rect x="470.10" y="661.60" width="1.80" height="7.20" fill="#1e1e1e" />
<rect x="471.90" y="661.60" width="2.40" height="7.20" fill="#828282" />
<rect x="474.90" y="661.60" width="1.70" height="7.20" fill="#1e1e1e" />
<rect x="480.20" y="661.60" width="2.90" height="7.20" fill="#828282" />
<rect x="483.70" y="661.60" width="2.40" height="7.20" fill="#1e1e1e" />
<rect x="414.50" y="672.80" width="74.70" height="7.00" fill="#efefef" />
<rect x="414.50" y="680.00" width="74.70" height="7.00" fill="#efefef" />
<rect x="416.10" y="672.80" width="1.20" height="7.00" fill="#828282" />
<rect x="418.90" y="672.80" width="2.00" height="7.00" fill="#1e1e1e" />
<rect x="422.60" y="672.80" width="2.40" height="7.00" fill="#5a5a5a" />
<rect x="432.10" y="672.80" width="4.70" height="7.00" fill="#828282" />
<rect x="441.00" y="672.80" width="2.30" height="7.00" fill="#1e1e1e" />
<rect x="443.30" y="672.80" width="1.20" height="7.00" fill="#828282" />
<rect x="445.70" y="672.80" width="2.30" height="7.00" fill="#828282" />
<rect x="457.10" y="672.80" width="1.20" height="7.00" fill="#5a5a5a" />
<rect x="464.80" y="672.80" width="1.80" height="7.00" fill="#828282" />
<rect x="470.10" y="672.80" width="2.40" height="7.00" fill="#1e1e1e" />
<rect x="415.00" y="680.00" width="1.10" height="7.00" fill="#5a5a5a" />
<rect x="416.70" y="680.00" width="1.20" height="7.00" fill="#1e1e1e" />
<rect x="419.70" y="680.00" width="1.50" height="7.00" fill="#1e1e1e" />
<rect x="423.20" y="680.00" width="1.80" height="7.00" fill="#5a5a5a" />
<rect x="432.10" y="680.00" width="2.90" height="7.00" fill="#828282" />
<rect x="441.00" y="680.00" width="1.50" height="7.00" fill="#1e1e1e" />
<rect x="442.70" y="680.00" width="1.20" height="7.00" fill="#5a5a5a" />
<rect x="445.70" y="680.00" width="1.80" height="7.00" fill="#5a5a5a" />
<rect x="449.20" y="680.00" width="1.20" height="7.00" fill="#828282" />
<rect x="450.00" y="680.00" width="1.00" height="7.00" fill="#5a5a5a" />
<rect x="457.10" y="680.00" width="1.20" height="7.00" fill="#5a5a5a" />
<rect x="464.80" y="680.00" width="1.80" height="7.00" fill="#828282" />
<rect x="470.70" y="680.00" width="1.80" height="7.00" fill="#1e1e1e" />
</g>
<line x1="391.60" y1="608.50" x2="489.70" y2="608.50" stroke="#444" stroke-width="0.8" />
<text x="412.30" y="564.40" font-size="8.4" text-anchor="end" font-style="italic" stroke="#231f20" stroke-width="0.2" textLength="25" lengthAdjust="spacingAndGlyphs" >CD79B</text>
<text x="490.80" y="564.40" font-size="8.2" stroke="#231f20" stroke-width="0.2" textLength="19.5" lengthAdjust="spacingAndGlyphs" >0.012</text>
<text x="412.30" y="573.10" font-size="8.4" text-anchor="end" font-style="italic" stroke="#231f20" stroke-width="0.2" textLength="26.1" lengthAdjust="spacingAndGlyphs" >GRHPR</text>
<text x="490.80" y="573.10" font-size="8.2" stroke="#231f20" stroke-width="0.2" textLength="19.5" lengthAdjust="spacingAndGlyphs" >0.086</text>
<text x="412.30" y="581.50" font-size="8.4" text-anchor="end" font-style="italic" stroke="#231f20" stroke-width="0.2" textLength="18.3" lengthAdjust="spacingAndGlyphs" >PIM1</text>
<text x="490.80" y="581.50" font-size="8.2" stroke="#231f20" stroke-width="0.2" textLength="19.5" lengthAdjust="spacingAndGlyphs" >0.091</text>
<text x="412.30" y="590.00" font-size="8.4" text-anchor="end" font-style="italic" stroke="#231f20" stroke-width="0.2" textLength="26.1" lengthAdjust="spacingAndGlyphs" >MYD88</text>
<text x="490.80" y="590.00" font-size="8.2" stroke="#231f20" stroke-width="0.2" textLength="19.5" lengthAdjust="spacingAndGlyphs" >0.096</text>
<text x="412.30" y="598.50" font-size="8.4" text-anchor="end" font-style="italic" stroke="#231f20" stroke-width="0.2" textLength="18.5" lengthAdjust="spacingAndGlyphs" >PIM2</text>
<text x="490.80" y="598.50" font-size="8.2" stroke="#231f20" stroke-width="0.2" textLength="19.5" lengthAdjust="spacingAndGlyphs" >0.221</text>
<text x="412.30" y="607.00" font-size="8.4" text-anchor="end" font-style="italic" stroke="#231f20" stroke-width="0.2" textLength="20.4" lengthAdjust="spacingAndGlyphs" >ACTB</text>
<text x="490.80" y="607.00" font-size="8.2" stroke="#231f20" stroke-width="0.2" textLength="19.5" lengthAdjust="spacingAndGlyphs" >0.256</text>
<text x="412.30" y="615.90" font-size="8.4" text-anchor="end" font-style="italic" stroke="#231f20" stroke-width="0.2" textLength="20" lengthAdjust="spacingAndGlyphs" >IKZF1</text>
<text x="490.80" y="615.90" font-size="8.2" stroke="#231f20" stroke-width="0.2" textLength="19.5" lengthAdjust="spacingAndGlyphs" >0.256</text>
<text x="412.30" y="624.40" font-size="8.4" text-anchor="end" font-style="italic" stroke="#231f20" stroke-width="0.2" textLength="36.7" lengthAdjust="spacingAndGlyphs" >TNFRSF14</text>
<text x="490.80" y="624.40" font-size="8.2" stroke="#231f20" stroke-width="0.2" textLength="19.5" lengthAdjust="spacingAndGlyphs" >0.221</text>
<text x="412.30" y="633.10" font-size="8.4" text-anchor="end" font-style="italic" stroke="#231f20" stroke-width="0.2" textLength="18.8" lengthAdjust="spacingAndGlyphs" >BCL2</text>
<text x="490.80" y="633.10" font-size="8.2" stroke="#231f20" stroke-width="0.2" textLength="19.5" lengthAdjust="spacingAndGlyphs" >0.188</text>
<text x="412.30" y="641.70" font-size="8.4" text-anchor="end" font-style="italic" stroke="#231f20" stroke-width="0.2" textLength="29.5" lengthAdjust="spacingAndGlyphs" >CREBBP</text>
<text x="490.80" y="641.70" font-size="8.2" stroke="#231f20" stroke-width="0.2" textLength="19.5" lengthAdjust="spacingAndGlyphs" >0.188</text>
<text x="412.30" y="650.50" font-size="8.4" text-anchor="end" font-style="italic" stroke="#231f20" stroke-width="0.2" textLength="19.4" lengthAdjust="spacingAndGlyphs" >EZH2</text>
<text x="490.80" y="650.50" font-size="8.2" stroke="#231f20" stroke-width="0.2" textLength="19.5" lengthAdjust="spacingAndGlyphs" >0.138</text>
<text x="412.30" y="659.40" font-size="8.4" text-anchor="end" font-style="italic" stroke="#231f20" stroke-width="0.2" textLength="24.2" lengthAdjust="spacingAndGlyphs" >GNAI2</text>
<text x="490.80" y="659.40" font-size="8.2" stroke="#231f20" stroke-width="0.2" textLength="19.5" lengthAdjust="spacingAndGlyphs" >0.091</text>
<text x="412.30" y="668.10" font-size="8.4" text-anchor="end" font-style="italic" stroke="#231f20" stroke-width="0.2" textLength="26" lengthAdjust="spacingAndGlyphs" >GNA13</text>
<text x="490.80" y="668.10" font-size="8.2" stroke="#231f20" stroke-width="0.2" textLength="19.5" lengthAdjust="spacingAndGlyphs" >0.007</text>
<text x="411.90" y="678.20" font-size="8.6" text-anchor="end" stroke="#231f20" stroke-width="0.2" textLength="26.9" lengthAdjust="spacingAndGlyphs" >Relapse</text>
<text x="411.90" y="686.20" font-size="8.6" text-anchor="end" stroke="#231f20" stroke-width="0.2" textLength="20.6" lengthAdjust="spacingAndGlyphs" >Death</text>
<text x="404.00" y="695.60" font-size="7.8" font-weight="bold" textLength="53" lengthAdjust="spacingAndGlyphs" >Mutation/event</text>
<rect x="404.00" y="699.50" width="3.40" height="3.40" fill="#111" />
<text x="409.50" y="703.50" font-size="7.6" stroke="#231f20" stroke-width="0.2" textLength="11.5" lengthAdjust="spacingAndGlyphs" >Yes</text>
<rect x="429.00" y="699.50" width="3.40" height="3.40" fill="#e6e6e6" />
<text x="434.50" y="703.50" font-size="7.6" stroke="#231f20" stroke-width="0.2" textLength="9" lengthAdjust="spacingAndGlyphs" >No</text>
<rect x="0.6" y="0.6" width="518.8" height="709.8" fill="none" stroke="#000" stroke-width="1.5"/>
</svg>
</body></html>
